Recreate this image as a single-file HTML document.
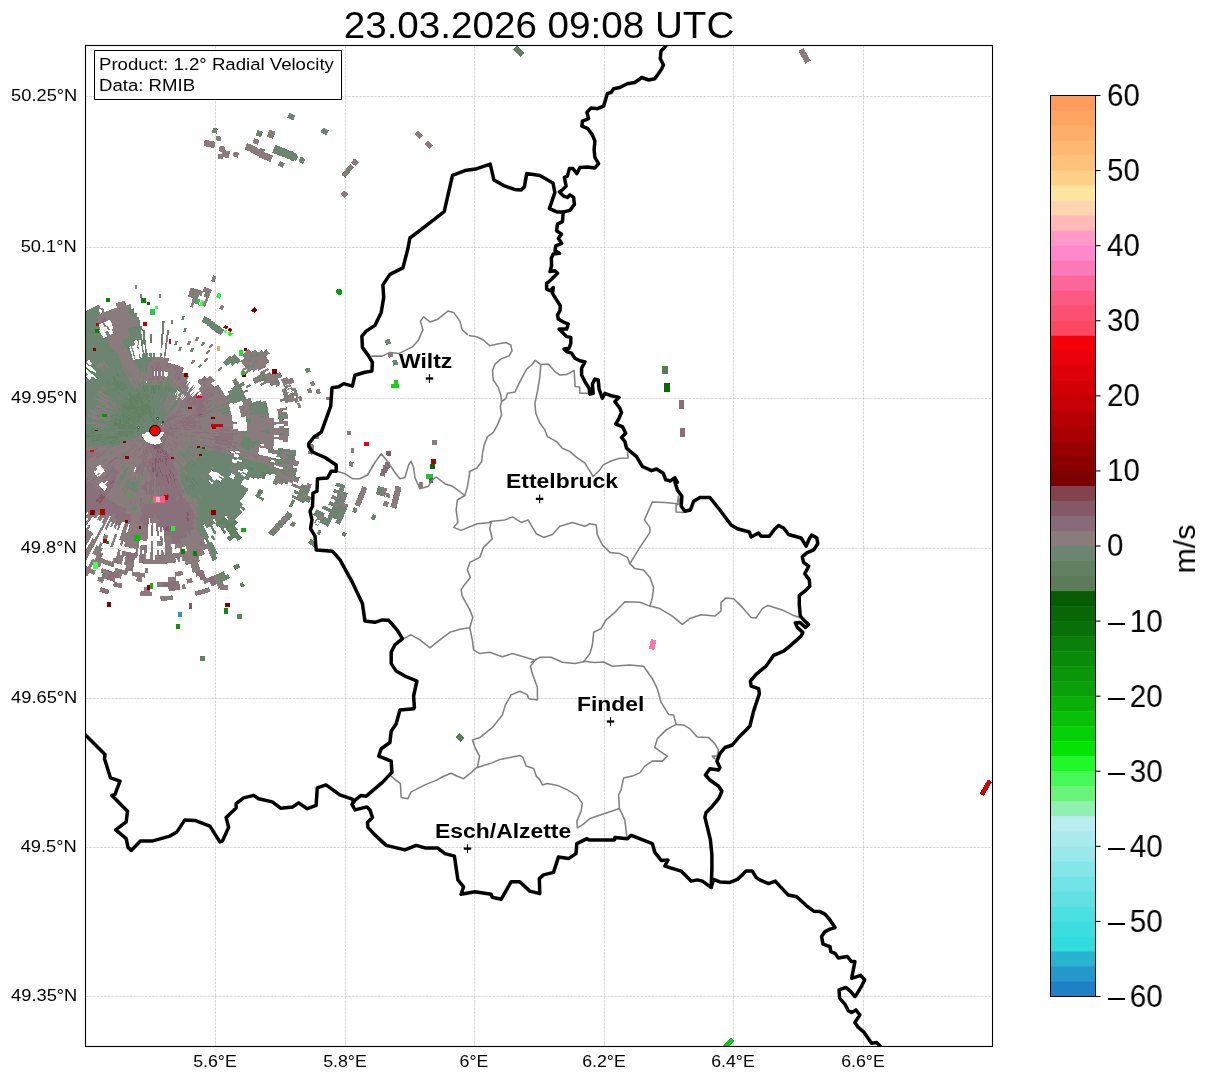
<!DOCTYPE html>
<html><head><meta charset="utf-8"><title>Radial Velocity</title>
<style>
html,body{margin:0;padding:0;background:#fff;}
body{width:1207px;height:1081px;position:relative;overflow:hidden;font-family:"Liberation Sans",sans-serif;color:#000;}
svg{position:absolute;left:0;top:0;}
.title,.cbl,.latl,.lonl,.info div,.city,.unit span{will-change:transform;backface-visibility:hidden;}
.g{stroke:#b0b0b0;stroke-width:0.7;stroke-dasharray:2.7 1.0;opacity:0.7}
.title{position:absolute;left:239.3px;width:600px;top:3.6px;text-align:center;font-size:37.1px;line-height:42px;white-space:nowrap;transform:scaleX(1.041);transform-origin:50% 50%;}
.cbl{position:absolute;left:1106.5px;font-size:31.4px;line-height:30px;white-space:nowrap;transform:scaleX(0.94);transform-origin:0 50%;}
.cbl i{display:inline-block;width:18.3px;height:2.5px;background:#000;vertical-align:middle;margin:0 5.3px 0 0.6px;position:relative;top:0.4px;}
.latl{position:absolute;right:1130px;font-size:17.2px;line-height:18px;white-space:nowrap;text-align:right;transform:scaleX(1.063);transform-origin:100% 50%;}
.lonl{position:absolute;top:1052px;width:80px;text-align:center;font-size:17.2px;line-height:18px;white-space:nowrap;transform:scaleX(1.033);}
.info{position:absolute;left:94px;top:50px;width:248px;height:50px;box-sizing:border-box;border:1px solid #000;background:#fff;}
.info div{position:absolute;left:4.4px;top:2.5px;font-size:17.2px;line-height:20.9px;white-space:nowrap;transform:scaleX(1.082);transform-origin:0 0;}
.city{position:absolute;font-weight:bold;font-size:19.5px;line-height:20px;white-space:nowrap;transform:scaleX(1.175);transform-origin:0 50%;}
.unit{position:absolute;left:1161.5px;top:521.5px;width:44px;height:54px;}
.unit span{position:absolute;left:22px;top:27px;transform:translate(-50%,-50%) rotate(-90deg);font-size:30.4px;line-height:30px;white-space:nowrap;}
</style></head><body>
<svg width="1207" height="1081" viewBox="0 0 1207 1081">
<defs><clipPath id="ax"><rect x="85.5" y="45.5" width="907.0" height="1001.0"/></clipPath></defs>
<g clip-path="url(#ax)">
<line x1="85.5" x2="992.5" y1="96.5" y2="96.5" class="g"/>
<line x1="85.5" x2="992.5" y1="247.5" y2="247.5" class="g"/>
<line x1="85.5" x2="992.5" y1="398.5" y2="398.5" class="g"/>
<line x1="85.5" x2="992.5" y1="548.5" y2="548.5" class="g"/>
<line x1="85.5" x2="992.5" y1="698.5" y2="698.5" class="g"/>
<line x1="85.5" x2="992.5" y1="847.5" y2="847.5" class="g"/>
<line x1="85.5" x2="992.5" y1="996.5" y2="996.5" class="g"/>
<line y1="45.5" y2="1046.5" x1="215.5" x2="215.5" class="g"/>
<line y1="45.5" y2="1046.5" x1="345.5" x2="345.5" class="g"/>
<line y1="45.5" y2="1046.5" x1="474.5" x2="474.5" class="g"/>
<line y1="45.5" y2="1046.5" x1="604.5" x2="604.5" class="g"/>
<line y1="45.5" y2="1046.5" x1="733.5" x2="733.5" class="g"/>
<line y1="45.5" y2="1046.5" x1="863.5" x2="863.5" class="g"/>
<g id="radar" shape-rendering="crispEdges">
<path fill="#6B8570" d="M145.9 431.7A9 9 0 0 1 163.9 431.7Z"/>
<path fill="#6B8570" d="M154.9 426.1L154.9 421.5L155.1 421.5L155.0 426.1ZM154.9 416.9L154.8 389.3L155.7 389.3L155.2 416.9ZM155.0 426.1L155.6 389.3L156.4 389.3L155.1 426.1ZM155.1 426.1L156.4 384.7L157.4 384.8L155.1 426.1ZM155.1 426.1L157.2 384.8L158.2 384.8L155.2 426.1ZM155.8 416.9L157.7 389.4L158.6 389.5L156.1 417.0ZM158.0 384.8L158.4 380.2L159.4 380.3L159.0 384.9ZM159.9 357.3L160.2 352.7L161.8 352.8L161.4 357.4ZM160.6 348.1L160.9 343.5L162.6 343.6L162.2 348.2ZM161.2 338.9L161.8 329.7L163.9 329.9L163.0 339.1ZM155.3 426.1L158.8 384.9L159.8 385.0L155.4 426.1ZM156.3 417.0L156.8 412.4L157.2 412.4L156.6 417.0ZM157.3 407.8L159.2 389.5L160.0 389.6L157.7 407.9ZM159.6 384.9L160.1 380.4L161.1 380.5L160.6 385.1ZM155.5 426.1L161.0 380.5L162.0 380.6L155.5 426.1ZM163.8 357.6L164.9 348.5L166.5 348.7L165.2 357.8ZM166.5 334.8L167.1 330.2L169.1 330.5L168.5 335.1ZM155.5 426.1L161.9 380.6L162.9 380.7L155.6 426.2ZM157.0 417.1L163.5 376.2L164.6 376.4L157.3 417.1ZM155.7 426.2L159.7 403.5L160.2 403.6L155.8 426.2ZM160.4 399.0L162.8 385.4L163.7 385.6L161.1 399.1ZM156.6 421.7L164.5 381.0L165.5 381.2L156.8 421.7ZM155.9 426.2L164.4 385.7L165.3 385.9L155.9 426.2ZM155.9 426.2L160.0 408.3L160.5 408.4L156.0 426.2ZM163.1 394.8L166.2 381.4L167.2 381.6L163.9 395.0ZM159.3 412.8L164.9 390.5L165.7 390.7L159.7 412.9ZM166.0 386.1L169.3 372.7L170.5 373.0L166.9 386.3ZM158.5 417.4L169.1 377.4L170.2 377.7L158.7 417.4ZM156.2 426.3L165.0 395.3L165.7 395.5L156.3 426.3ZM166.3 390.9L168.8 382.0L169.8 382.3L167.1 391.1ZM156.2 426.3L157.6 421.9L157.8 422.0L156.3 426.3ZM160.3 413.1L171.0 377.9L172.0 378.2L160.6 413.2ZM156.3 426.3L157.7 421.9L157.9 422.0L156.4 426.4ZM159.1 417.6L162.0 408.8L162.4 409.0L159.4 417.7ZM163.4 404.4L169.1 386.9L169.9 387.2L163.9 404.6ZM156.4 426.3L168.3 391.5L169.1 391.8L156.5 426.4ZM169.8 387.2L172.8 378.5L173.9 378.9L170.7 387.5ZM156.5 426.4L162.7 409.1L163.2 409.2L156.6 426.4ZM169.0 391.8L170.6 387.5L171.4 387.8L169.8 392.1ZM156.5 426.4L164.8 404.9L165.3 405.1L156.6 426.4ZM169.7 392.0L171.3 387.7L172.2 388.1L170.5 392.3ZM156.6 426.4L173.8 383.8L174.7 384.2L156.7 426.5ZM156.7 426.5L163.9 409.5L164.3 409.7L156.8 426.5ZM171.0 392.6L172.8 388.3L173.7 388.7L171.8 392.9ZM156.8 426.5L164.2 409.7L164.6 409.9L156.8 426.5ZM168.0 401.3L175.4 384.4L176.3 384.9L168.5 401.5ZM156.8 426.5L168.5 401.5L169.1 401.8L156.9 426.6ZM172.3 393.2L174.3 389.0L175.1 389.4L173.1 393.5ZM156.9 426.6L167.0 405.9L167.5 406.1L157.0 426.6ZM171.0 397.6L175.0 389.3L175.8 389.7L171.7 397.9ZM157.0 426.6L163.2 414.3L163.6 414.5L157.1 426.6ZM169.5 402.0L177.8 385.6L178.7 386.1L170.1 402.3ZM157.1 426.6L170.0 402.2L170.6 402.6L157.1 426.7ZM172.1 398.2L178.6 386.0L179.5 386.5L172.8 398.5ZM157.1 426.7L166.0 410.6L166.4 410.8L157.2 426.7ZM170.5 402.5L179.4 386.4L180.3 386.9L171.0 402.8ZM157.2 426.7L166.4 410.8L166.8 411.0L157.3 426.8ZM175.5 394.8L177.8 390.8L178.6 391.3L176.3 395.2ZM157.3 426.8L166.7 411.0L167.1 411.2L157.3 426.8ZM169.1 407.0L171.4 403.1L172.0 403.4L169.6 407.3ZM176.2 395.2L180.9 387.3L181.8 387.8L176.9 395.6ZM185.6 379.4L188.0 375.5L189.1 376.1L186.7 380.0ZM157.3 426.8L164.6 415.1L164.9 415.3L157.4 426.8ZM176.8 395.6L179.2 391.7L180.0 392.2L177.5 396.0ZM157.4 426.8L164.9 415.3L165.2 415.5L157.5 426.9ZM172.4 403.7L174.9 399.8L175.5 400.2L172.9 404.0ZM157.5 426.9L172.9 404.0L173.4 404.3L157.5 426.9ZM175.4 400.2L180.6 392.5L181.3 393.1L176.0 400.6ZM157.5 426.9L183.9 389.2L184.7 389.8L157.6 427.0ZM157.6 427.0L184.6 389.7L185.4 390.3L157.7 427.0ZM160.4 423.3L177.0 401.3L177.6 401.7L160.6 423.5ZM157.7 427.1L166.2 416.2L166.5 416.4L157.8 427.1ZM169.0 412.6L177.5 401.7L178.1 402.1L169.4 412.8ZM160.7 423.5L178.0 402.1L178.6 402.5L160.8 423.7ZM183.8 394.9L186.7 391.3L187.5 392.0L184.5 395.5ZM157.9 427.2L178.5 402.5L179.1 403.0L157.9 427.2ZM160.9 423.7L163.9 420.3L164.1 420.5L161.1 423.9ZM164.1 420.4L167.2 417.0L167.5 417.3L164.3 420.6ZM173.7 410.5L176.8 407.1L177.3 407.6L174.1 410.9ZM158.1 427.4L161.3 424.1L161.4 424.2L158.2 427.5ZM233.7 383.2L237.6 380.8L238.6 382.5L234.6 384.8ZM234.5 384.6L238.5 382.3L239.5 384.0L235.4 386.2ZM231.3 388.2L243.3 381.5L244.3 383.3L232.1 389.8ZM228.0 391.7L244.2 383.1L245.1 384.9L228.7 393.2ZM232.7 390.9L240.9 386.7L241.8 388.5L233.5 392.5ZM229.3 394.3L241.7 388.2L242.5 390.0L230.0 395.8ZM245.8 386.2L249.9 384.2L250.8 386.1L246.7 388.1ZM209.1 405.4L213.2 403.4L213.8 404.6L209.6 406.5ZM225.7 397.6L242.4 389.8L243.2 391.5L226.4 399.0ZM230.5 396.9L247.3 389.4L248.1 391.3L231.2 398.5ZM214.1 405.5L218.4 403.7L218.9 404.9L214.6 406.7ZM226.8 400.0L243.8 392.8L244.5 394.6L227.4 401.5ZM231.6 399.6L244.4 394.4L245.1 396.2L232.2 401.1ZM210.7 409.2L245.0 396.0L245.7 397.8L211.1 410.3ZM237.0 400.7L245.6 397.5L246.3 399.4L237.6 402.4ZM246.2 399.1L250.5 397.6L251.2 399.6L246.8 401.0ZM211.7 412.1L229.2 406.4L229.7 407.9L212.1 413.3ZM225.3 409.1L229.7 407.7L230.1 409.3L225.7 410.5ZM207.9 415.4L212.4 414.1L212.7 415.3L208.2 416.5ZM221.2 411.6L230.0 409.0L230.5 410.6L221.6 412.9ZM247.7 403.9L261.0 400.1L261.6 402.3L248.2 405.8ZM221.5 412.7L230.4 410.4L230.8 411.9L221.9 414.1ZM248.2 405.6L261.5 402.0L262.1 404.1L248.7 407.5ZM221.8 413.9L230.8 411.7L231.1 413.2L222.2 415.3ZM248.6 407.2L266.4 402.7L267.0 405.0L249.1 409.1ZM249.0 408.8L266.9 404.7L267.4 406.9L249.4 410.7ZM253.9 409.5L267.4 406.6L267.8 408.9L254.3 411.5ZM249.7 412.1L267.8 408.6L268.2 410.9L250.1 414.1ZM241.0 415.4L245.5 414.6L245.8 416.4L241.2 417.1ZM250.0 413.8L268.1 410.6L268.5 412.9L250.3 415.7ZM263.9 413.3L268.5 412.6L268.8 414.9L264.2 415.5ZM209.6 422.9L214.1 422.3L214.3 423.5L209.7 424.0ZM246.0 417.8L250.5 417.1L250.8 419.1L246.2 419.6ZM259.6 415.8L264.2 415.2L264.5 417.4L259.9 418.0ZM246.2 419.4L250.8 418.8L251.0 420.7L246.4 421.2ZM246.4 421.0L251.0 420.5L251.1 422.4L246.6 422.8ZM246.5 422.6L251.1 422.1L251.3 424.1L246.7 424.4ZM265.3 428.6L269.9 428.5L269.9 430.9L265.3 430.9ZM177.9 430.7L182.5 430.7L182.5 431.2L177.9 431.1ZM242.3 430.6L246.9 430.6L246.9 432.4L242.3 432.3ZM260.7 430.6L269.9 430.5L269.9 432.9L260.7 432.7ZM242.3 432.1L246.9 432.2L246.8 434.0L242.2 433.9ZM265.3 432.5L269.9 432.5L269.8 434.9L265.2 434.7ZM242.2 435.2L246.8 435.4L246.7 437.2L242.1 436.9ZM242.1 436.7L251.3 437.3L251.1 439.3L242.0 438.4ZM242.0 438.2L251.1 439.0L251.0 440.9L241.8 440.0ZM255.7 439.4L260.3 439.8L260.1 441.9L255.5 441.4ZM241.8 439.7L260.1 441.6L259.9 443.7L241.6 441.5ZM241.7 441.2L259.9 443.4L259.6 445.6L241.4 443.0ZM241.5 442.7L255.1 444.6L254.8 446.7L241.2 444.5ZM241.2 444.3L254.9 446.4L254.5 448.4L241.0 446.0ZM241.0 445.8L250.1 447.3L249.7 449.3L240.7 447.5ZM245.2 448.1L249.8 449.0L249.4 450.9L244.9 450.0ZM190.8 438.9L199.7 441.0L199.5 441.9L190.6 439.7ZM240.1 450.2L249.1 452.3L248.6 454.2L239.7 452.0ZM243.8 454.4L248.2 455.6L247.7 457.5L243.3 456.2ZM238.9 454.7L243.4 455.9L242.8 457.7L238.4 456.4ZM190.1 441.4L194.5 442.7L194.3 443.5L189.9 442.1ZM238.5 456.1L269.3 465.5L268.6 467.8L238.0 457.8ZM189.9 442.0L203.0 446.3L202.7 447.2L189.7 442.7ZM207.4 447.7L273.1 468.9L272.3 471.3L207.1 448.7ZM211.5 450.1L272.4 471.0L271.6 473.3L211.1 451.2ZM185.2 441.7L189.5 443.2L189.2 443.9L184.9 442.3ZM198.1 446.4L267.3 471.4L266.5 473.7L197.8 447.2ZM202.2 448.8L249.4 466.8L248.7 468.7L201.8 449.7ZM253.7 468.5L262.3 471.8L261.5 473.9L252.9 470.5ZM180.5 441.0L261.6 473.6L260.7 475.8L180.3 441.5ZM193.0 446.8L197.3 448.6L196.9 449.5L192.7 447.6ZM201.5 450.4L260.8 475.5L259.9 477.6L201.1 451.3ZM188.5 445.6L192.7 447.5L192.4 448.2L188.2 446.3ZM196.9 449.4L260.0 477.3L259.1 479.4L196.6 450.2ZM188.3 446.2L205.0 454.0L204.5 455.0L188.0 446.9ZM209.1 455.9L255.0 477.2L254.1 479.2L208.6 457.0ZM200.4 452.8L229.4 466.9L228.6 468.4L200.0 453.7ZM237.6 470.9L250.1 476.9L249.1 478.9L236.8 472.6ZM187.7 447.4L232.8 470.3L232.0 471.8L187.4 448.0ZM236.9 472.4L249.2 478.6L248.2 480.5L236.1 474.0ZM203.7 456.5L232.1 471.6L231.3 473.2L203.1 457.5ZM236.2 473.8L244.3 478.1L243.3 479.9L235.3 475.4ZM187.1 448.5L191.1 450.7L190.7 451.5L186.7 449.1ZM199.2 455.2L231.4 473.0L230.5 474.5L198.7 456.1ZM235.4 475.2L243.5 479.6L242.5 481.4L234.5 476.8ZM259.6 488.5L263.6 490.8L262.4 493.0L258.4 490.6ZM182.8 446.8L230.7 474.3L229.8 475.8L182.5 447.3ZM234.6 476.6L242.6 481.2L241.6 482.9L233.7 478.2ZM186.5 449.6L190.4 452.0L190.0 452.7L186.1 450.2ZM198.3 456.7L229.9 475.6L229.0 477.1L197.8 457.6ZM233.8 478.0L241.7 482.7L240.6 484.4L232.9 479.6ZM257.5 492.2L261.4 494.5L260.1 496.7L256.2 494.2ZM190.0 452.6L193.9 455.0L193.4 455.8L189.6 453.3ZM197.8 457.5L209.6 464.8L208.9 465.9L197.3 458.3ZM213.5 467.2L248.6 489.1L247.4 491.0L212.7 468.4ZM256.4 493.9L260.3 496.4L259.0 498.5L255.1 496.0ZM181.9 448.2L247.6 490.7L246.3 492.6L181.6 448.7ZM181.6 448.7L246.5 492.3L245.2 494.1L181.3 449.2ZM185.1 451.8L188.8 454.4L188.4 455.1L184.6 452.4ZM196.4 459.7L245.4 493.9L244.1 495.7L195.8 460.5ZM195.9 460.4L244.3 495.5L243.0 497.3L195.3 461.2ZM180.6 450.0L243.2 497.0L241.8 498.8L180.2 450.6ZM180.3 450.5L242.0 498.5L240.6 500.3L179.9 451.0ZM183.5 453.8L187.1 456.7L186.6 457.4L183.1 454.4ZM190.7 459.6L240.8 500.1L239.4 501.8L190.1 460.3ZM179.6 451.4L186.7 457.3L186.1 457.9L179.2 451.9ZM190.2 460.2L243.1 504.5L241.6 506.3L189.6 460.9ZM168.8 442.8L172.3 445.8L172.0 446.1L168.6 443.0ZM179.2 451.8L193.1 463.8L192.5 464.6L178.8 452.3ZM196.6 466.9L245.3 509.0L243.7 510.9L195.9 467.7ZM178.9 452.2L240.5 507.5L238.9 509.2L178.4 452.7ZM181.8 455.8L185.2 458.9L184.6 459.5L181.3 456.3ZM188.6 462.0L202.1 474.6L201.2 475.5L187.9 462.7ZM205.4 477.7L242.5 512.1L240.8 513.9L204.5 478.7ZM184.7 459.4L241.0 513.7L239.4 515.4L184.1 460.0ZM187.5 463.2L239.6 515.2L237.9 516.8L186.8 463.8ZM186.9 463.7L238.1 516.6L236.3 518.3L186.2 464.4ZM173.8 450.9L236.6 518.1L234.8 519.7L173.3 451.2ZM185.7 464.8L235.1 519.5L233.2 521.1L185.0 465.5ZM185.1 465.4L233.5 520.9L231.6 522.4L184.4 466.0ZM184.5 465.9L226.0 515.2L224.3 516.6L183.8 466.5ZM228.9 518.7L231.9 522.2L230.0 523.8L227.1 520.2ZM163.6 441.4L166.5 445.0L166.2 445.2L163.4 441.6ZM183.9 466.4L192.6 477.1L191.7 477.9L183.2 467.0ZM198.4 484.3L224.5 516.4L222.7 517.8L197.3 485.1ZM177.6 459.7L223.0 517.6L221.2 519.0L177.0 460.1ZM188.2 474.7L221.5 518.8L219.7 520.1L187.3 475.4ZM224.2 522.4L227.0 526.1L225.1 527.6L222.4 523.8ZM173.9 456.7L187.4 475.3L186.5 476.0L173.3 457.1ZM195.5 486.5L219.9 519.9L218.1 521.2L194.4 487.3ZM222.6 523.6L225.3 527.4L223.4 528.8L220.7 525.0ZM184.0 472.1L199.8 494.7L198.5 495.6L183.1 472.7ZM202.5 498.5L223.6 528.6L221.6 529.9L201.1 499.4ZM180.7 468.8L185.8 476.4L184.9 477.0L179.9 469.3ZM188.4 480.2L191.0 484.0L189.9 484.8L187.4 480.9ZM193.6 487.8L214.2 518.3L212.4 519.5L192.4 488.6ZM216.8 522.1L219.3 525.9L217.4 527.2L214.9 523.4ZM182.5 473.1L215.2 523.2L213.3 524.4L181.7 473.6ZM179.3 469.7L189.1 485.3L188.0 485.9L178.5 470.2ZM191.5 489.2L213.5 524.2L211.6 525.4L190.4 489.9ZM181.0 474.0L195.3 497.7L193.9 498.5L180.1 474.6ZM197.6 501.6L216.6 533.1L214.6 534.4L196.2 502.5ZM180.3 474.5L194.1 498.4L192.7 499.1L179.4 475.0ZM198.7 506.3L210.2 526.2L208.3 527.3L197.2 507.2ZM181.7 478.9L195.1 503.1L193.7 503.9L180.7 479.5ZM197.4 507.1L208.6 527.2L206.6 528.2L195.8 507.9ZM213.0 535.2L215.3 539.2L213.1 540.4L210.9 536.4ZM180.9 479.4L189.5 495.6L188.2 496.3L179.9 479.9ZM198.2 511.9L204.7 524.0L202.8 525.0L196.6 512.7ZM198.9 516.7L209.3 537.2L207.2 538.3L197.1 517.6ZM211.4 541.3L217.7 553.6L215.2 554.8L209.2 542.4ZM228.2 574.0L230.3 578.1L227.3 579.6L225.3 575.5ZM183.2 488.5L185.2 492.7L184.0 493.3L182.0 489.1ZM197.4 517.5L217.6 558.8L215.0 560.0L195.6 518.3ZM223.7 571.2L227.7 579.4L224.7 580.9L220.8 572.5ZM197.8 522.4L203.6 534.9L201.5 535.8L195.9 523.2ZM213.4 555.7L215.3 559.9L212.7 561.1L210.9 556.8ZM221.2 572.4L225.1 580.7L222.0 582.1L218.3 573.7ZM198.1 527.3L201.8 535.7L199.7 536.6L196.1 528.1ZM218.7 573.5L222.5 581.9L219.4 583.2L215.8 574.8ZM137.4 506.9L136.4 511.4L134.8 511.0L135.9 506.6ZM143.8 475.3L142.7 479.8L141.7 479.6L142.9 475.1ZM136.1 506.6L135.0 511.1L133.4 510.6L134.6 506.2ZM143.1 475.1L138.3 492.9L137.1 492.6L142.2 474.9ZM136.0 501.8L133.6 510.7L132.0 510.3L134.5 501.4ZM133.5 505.9L132.2 510.3L130.6 509.8L131.9 505.5ZM138.8 483.5L136.2 492.3L134.9 491.9L137.8 483.2ZM142.2 470.1L135.1 492.0L133.8 491.6L141.4 469.8ZM132.3 500.7L130.8 505.1L129.3 504.6L130.8 500.3ZM140.0 474.2L132.5 496.0L131.2 495.5L139.1 473.9ZM105.7 574.3L104.2 578.7L101.2 577.6L102.8 573.3ZM136.1 482.6L133.0 491.2L131.7 490.8L135.0 482.2ZM135.2 482.3L131.9 490.9L130.7 490.4L134.2 481.9ZM136.0 477.6L130.9 490.4L129.7 489.9L135.1 477.2ZM133.4 481.5L131.6 485.8L130.5 485.3L132.4 481.1ZM132.5 481.2L128.8 489.6L127.6 489.0L131.5 480.7ZM129.7 484.9L125.8 493.3L124.6 492.7L128.6 484.4ZM132.8 476.2L126.7 488.6L125.6 488.0L131.9 475.8ZM129.9 479.9L125.7 488.1L124.6 487.5L128.9 479.4ZM129.1 479.5L122.6 491.7L121.4 491.0L128.1 478.9ZM94.6 544.5L92.4 548.6L90.1 547.3L92.3 543.3ZM132.0 470.6L122.8 486.5L121.7 485.9L131.2 470.1ZM127.4 473.2L119.9 484.8L118.8 484.0L126.5 472.6ZM126.7 472.7L121.5 480.3L120.5 479.6L125.8 472.1ZM131.2 464.6L118.0 483.5L117.0 482.7L130.5 464.2ZM127.9 468.0L119.8 479.1L118.8 478.4L127.2 467.4ZM125.4 466.0L122.4 469.5L121.7 468.8L124.7 465.4ZM124.2 464.9L121.1 468.4L120.3 467.7L123.5 464.3ZM129.4 457.2L126.2 460.5L125.6 459.9L128.8 456.7ZM124.2 458.4L120.8 461.5L120.1 460.8L123.6 457.8ZM126.7 454.4L123.2 457.4L122.7 456.7L126.3 453.8ZM104.8 463.3L100.9 465.9L100.2 464.8L104.1 462.3ZM114.3 452.4L110.3 454.5L109.8 453.6L113.9 451.5ZM113.6 450.9L109.5 452.9L109.0 452.0L113.2 450.1ZM133.9 440.1L121.3 445.7L121.0 445.0L133.7 439.7ZM124.9 442.3L112.0 447.2L111.7 446.4L124.6 441.7ZM137.6 437.0L107.4 448.1L107.0 447.1L137.5 436.7ZM141.9 435.2L107.1 447.2L106.8 446.3L141.8 434.9ZM137.4 436.4L133.0 437.8L132.9 437.4L137.3 436.1ZM128.7 439.3L111.2 445.0L110.9 444.1L128.5 438.7ZM141.7 434.8L119.7 441.5L119.5 440.8L141.6 434.5ZM110.9 444.2L102.1 446.9L101.8 445.8L110.7 443.3ZM141.6 434.5L115.1 442.2L114.9 441.4L141.6 434.3ZM110.7 443.4L93.0 448.5L92.7 447.3L110.5 442.5ZM141.6 434.3L92.7 447.5L92.4 446.2L141.5 434.0ZM146.0 432.9L119.2 439.7L119.0 438.9L145.9 432.8ZM110.3 441.9L83.5 448.6L83.2 447.2L110.1 441.0ZM141.5 433.8L83.2 447.4L82.9 445.9L141.4 433.6ZM145.9 432.6L127.9 436.5L127.8 435.9L145.9 432.4ZM123.4 437.4L118.9 438.4L118.8 437.7L123.3 436.8ZM114.4 439.4L105.4 441.3L105.2 440.3L114.2 438.5ZM100.9 442.3L82.9 446.1L82.6 444.6L100.7 441.2ZM141.4 433.4L82.7 444.8L82.4 443.4L141.3 433.1ZM145.8 432.3L132.3 434.7L132.2 434.3L145.8 432.1ZM91.5 442.0L82.4 443.6L82.2 442.1L91.3 440.7ZM145.8 432.2L132.2 434.3L132.1 433.9L145.8 432.0ZM104.9 438.7L100.4 439.4L100.2 438.3L104.8 437.7ZM95.8 440.1L82.2 442.3L82.0 440.8L95.7 438.9ZM145.8 432.0L136.7 433.3L136.6 432.9L145.8 431.8ZM132.1 433.9L127.6 434.6L127.5 434.0L132.1 433.5ZM123.0 435.2L113.9 436.5L113.8 435.7L122.9 434.6ZM91.1 439.8L82.0 441.0L81.8 439.6L91.0 438.5ZM145.8 431.8L122.9 434.7L122.9 434.0L145.7 431.6ZM118.4 435.2L81.9 439.8L81.7 438.3L118.3 434.5ZM145.8 431.7L127.5 433.6L127.4 433.1L145.7 431.5ZM118.3 434.6L100.0 436.5L99.9 435.4L118.2 433.9ZM145.7 431.5L141.2 431.9L141.1 431.6L145.7 431.3ZM113.7 434.4L104.5 435.2L104.4 434.2L113.6 433.5ZM99.9 435.6L95.3 436.0L95.2 434.8L99.8 434.5ZM145.7 431.4L136.5 432.0L136.5 431.6L145.7 431.2ZM118.2 433.3L99.8 434.6L99.8 433.5L118.1 432.6ZM95.3 435.0L86.1 435.6L86.0 434.2L95.2 433.7ZM145.7 431.2L141.1 431.4L141.1 431.2L145.7 431.0ZM136.5 431.7L131.9 431.9L131.9 431.5L136.5 431.3ZM118.2 432.7L95.2 433.9L95.1 432.7L118.1 431.9ZM145.7 431.0L136.5 431.4L136.5 431.0L145.7 430.8ZM118.1 432.0L95.1 432.9L95.1 431.7L118.1 431.3ZM90.5 433.0L85.9 433.2L85.9 431.8L90.5 431.7ZM145.7 430.9L141.1 431.0L141.1 430.7L145.7 430.7ZM127.3 431.2L122.7 431.3L122.7 430.7L127.3 430.7ZM118.1 431.4L95.1 431.8L95.1 430.6L118.1 430.6ZM90.5 431.9L85.9 432.0L85.9 430.6L90.5 430.6ZM150.3 430.7L85.9 430.8L85.9 429.4L150.3 430.6ZM150.3 430.6L141.1 430.5L141.1 430.2L150.3 430.5ZM122.7 430.2L95.1 429.7L95.1 428.5L122.7 429.5ZM90.5 429.7L85.9 429.6L85.9 428.2L90.5 428.4ZM150.3 430.5L145.7 430.4L145.7 430.2L150.3 430.5ZM141.1 430.2L85.9 428.4L86.0 427.0L141.1 430.0ZM150.3 430.5L141.1 430.0L141.1 429.7L150.3 430.4ZM118.1 428.8L86.0 427.2L86.1 425.8L118.2 428.1ZM150.3 430.4L132.0 429.1L132.0 428.7L150.3 430.3ZM122.8 428.5L109.0 427.6L109.1 426.6L122.8 427.8ZM95.2 426.6L86.1 426.0L86.2 424.6L95.3 425.4ZM150.3 430.3L141.2 429.5L141.2 429.2L150.3 430.2ZM118.2 427.5L104.5 426.4L104.6 425.3L118.3 426.8ZM99.9 426.0L86.2 424.8L86.3 423.4L100.0 424.9ZM150.3 430.2L136.6 428.8L136.6 428.4L150.3 430.1ZM127.4 427.9L122.9 427.4L122.9 426.7L127.5 427.3ZM118.3 426.9L104.6 425.5L104.7 424.5L118.4 426.2ZM86.3 423.6L81.7 423.1L81.9 421.6L86.4 422.2ZM150.3 430.1L141.2 429.0L141.2 428.8L150.3 430.1ZM113.8 425.7L95.5 423.5L95.7 422.3L113.9 424.9ZM91.0 422.9L81.8 421.8L82.0 420.4L91.1 421.6ZM150.3 430.1L141.2 428.8L141.3 428.5L150.4 430.0ZM113.9 425.0L82.0 420.6L82.2 419.1L114.0 424.2ZM150.4 430.0L141.3 428.6L141.3 428.3L150.4 429.9ZM114.0 424.3L82.2 419.3L82.4 417.8L114.1 423.5ZM150.4 429.9L136.8 427.5L136.8 427.2L150.4 429.8ZM114.1 423.6L82.4 418.0L82.7 416.6L114.3 422.7ZM150.4 429.8L132.3 426.3L132.4 425.9L150.4 429.7ZM114.2 422.9L100.7 420.2L100.9 419.1L114.4 422.0ZM91.7 418.5L82.6 416.8L82.9 415.3L91.9 417.2ZM150.4 429.7L109.9 421.2L110.1 420.3L150.4 429.7ZM87.4 416.4L82.9 415.5L83.2 414.0L87.7 415.1ZM150.4 429.7L128.0 424.5L128.1 424.0L150.4 429.6ZM119.0 422.5L105.6 419.4L105.8 418.4L119.2 421.7ZM87.6 415.3L83.2 414.2L83.5 412.8L88.0 413.9ZM150.4 429.6L137.0 426.3L137.1 425.9L150.5 429.5ZM114.7 420.7L83.5 413.0L83.8 411.6L114.9 419.9ZM150.5 429.5L137.1 426.0L137.2 425.6L150.5 429.4ZM123.8 422.4L110.5 418.9L110.7 418.0L124.0 421.8ZM101.6 416.5L97.1 415.3L97.4 414.1L101.9 415.4ZM92.7 414.1L83.8 411.8L84.2 410.3L93.0 412.9ZM150.5 429.4L137.2 425.7L137.3 425.3L150.5 429.3ZM132.8 424.4L128.4 423.1L128.5 422.6L132.9 423.9ZM115.1 419.3L110.7 418.1L110.9 417.2L115.3 418.5ZM106.2 416.8L101.8 415.6L102.1 414.5L106.5 415.8ZM88.5 411.8L84.1 410.5L84.5 409.1L88.9 410.4ZM150.5 429.4L124.1 421.3L124.3 420.7L150.5 429.3ZM115.3 418.7L110.9 417.3L111.2 416.4L115.5 417.9ZM102.1 414.6L97.7 413.3L98.1 412.1L102.4 413.6ZM88.9 410.6L84.5 409.3L84.9 407.9L89.3 409.3ZM150.5 429.3L137.4 425.0L137.5 424.7L150.6 429.2ZM133.0 423.6L128.6 422.2L128.8 421.7L133.2 423.2ZM124.3 420.8L102.4 413.7L102.7 412.7L124.5 420.2ZM98.0 412.3L84.9 408.1L85.3 406.6L98.4 411.2ZM150.5 429.2L137.5 424.7L137.6 424.4L150.6 429.1ZM120.1 418.8L111.4 415.8L111.7 414.9L120.3 418.1ZM102.7 412.8L98.3 411.3L98.7 410.2L103.1 411.7ZM94.0 409.8L85.3 406.8L85.8 405.4L94.4 408.6ZM150.6 429.1L129.0 421.3L129.1 420.8L150.6 429.0ZM124.6 419.7L111.7 415.0L112.0 414.2L124.9 419.1ZM107.3 413.5L103.0 411.9L103.4 410.8L107.7 412.5ZM98.7 410.3L85.7 405.6L86.2 404.2L99.1 409.2ZM150.6 429.1L137.7 424.1L137.8 423.8L150.6 429.0ZM116.2 415.9L81.9 402.8L82.4 401.3L116.5 415.1ZM150.6 429.0L133.6 422.1L133.7 421.7L150.7 428.9ZM129.3 420.4L125.0 418.7L125.3 418.1L129.5 419.9ZM120.8 417.0L112.2 413.5L112.6 412.7L121.0 416.3ZM95.2 406.7L82.4 401.5L83.0 400.0L95.7 405.5ZM150.7 428.9L129.5 420.0L129.7 419.4L150.7 428.8ZM125.2 418.2L116.8 414.6L117.1 413.8L125.5 417.6ZM95.6 405.6L82.9 400.2L83.5 398.8L96.1 404.4ZM150.7 428.8L138.1 423.2L138.2 422.9L150.7 428.8ZM121.3 415.8L83.4 399.0L84.1 397.6L121.6 415.1ZM150.7 428.8L134.0 421.0L134.2 420.6L150.8 428.7ZM121.5 415.2L109.0 409.4L109.5 408.5L121.8 414.5ZM104.8 407.4L84.0 397.8L84.7 396.3L105.3 406.4ZM150.8 428.7L138.4 422.7L138.5 422.3L150.8 428.6ZM121.8 414.6L113.5 410.6L113.9 409.8L122.1 413.9ZM97.0 402.5L84.6 396.5L85.3 395.1L97.6 401.4ZM150.8 428.6L142.6 424.5L142.7 424.2L150.8 428.5ZM122.1 414.0L109.8 407.8L110.3 406.9L122.4 413.4ZM105.7 405.7L85.2 395.3L85.9 393.9L106.2 404.7ZM150.8 428.5L146.8 426.4L146.9 426.2L150.9 428.5ZM142.7 424.2L138.6 422.1L138.8 421.8L142.8 424.0ZM134.6 419.9L118.3 411.3L118.7 410.6L134.8 419.5ZM93.9 398.4L81.7 391.9L82.5 390.5L94.6 397.2ZM150.9 428.5L138.8 421.8L139.0 421.5L150.9 428.4ZM130.7 417.4L126.7 415.1L127.0 414.6L131.0 416.9ZM122.7 412.9L106.6 404.0L107.1 403.0L123.1 412.3ZM98.5 399.6L82.4 390.7L83.3 389.2L99.2 398.4ZM150.9 428.4L139.0 421.5L139.1 421.2L151.0 428.3ZM119.0 410.1L83.1 389.4L84.0 388.0L119.4 409.3ZM151.0 428.3L131.2 416.5L131.5 416.0L151.0 428.3ZM127.3 414.2L115.4 407.1L115.9 406.3L127.6 413.6ZM111.5 404.7L107.5 402.3L108.1 401.4L112.0 403.8ZM99.7 397.6L83.9 388.2L84.7 386.7L100.3 396.5ZM151.0 428.3L139.3 421.0L139.5 420.7L151.0 428.2ZM131.5 416.1L115.9 406.4L116.4 405.6L131.8 415.6ZM96.3 394.2L84.6 386.9L85.5 385.5L97.1 393.0ZM151.0 428.2L139.5 420.7L139.7 420.4L151.1 428.1ZM120.1 408.2L85.4 385.7L86.3 384.3L120.6 407.5ZM147.3 425.6L116.7 405.0L117.3 404.3L147.4 425.4ZM109.1 399.9L105.3 397.3L106.0 396.3L109.7 399.0ZM97.6 392.2L82.4 381.9L83.4 380.5L98.4 391.0ZM151.1 428.1L109.6 399.1L110.3 398.2L151.2 428.0ZM98.3 391.2L83.2 380.7L84.3 379.2L99.1 390.1ZM151.2 428.0L140.0 419.9L140.2 419.6L151.2 427.9ZM121.4 406.4L84.1 379.4L85.2 378.0L121.9 405.7ZM151.2 427.9L140.2 419.6L140.4 419.4L151.3 427.9ZM121.8 405.8L85.0 378.2L86.1 376.8L122.3 405.2ZM151.3 427.9L140.4 419.4L140.6 419.1L151.3 427.8ZM122.2 405.3L82.3 374.2L83.5 372.7L122.8 404.6ZM151.3 427.8L140.6 419.1L140.8 418.9L151.4 427.7ZM137.0 416.3L129.8 410.5L130.3 410.0L137.3 415.9ZM126.3 407.6L104.8 390.2L105.6 389.2L126.7 407.0ZM101.2 387.4L83.3 372.9L84.5 371.5L102.1 386.3ZM147.8 424.8L140.8 418.9L141.0 418.6L148.0 424.7ZM123.1 404.1L84.3 371.7L85.6 370.2L123.7 403.5ZM151.4 427.7L144.5 421.7L144.7 421.5L151.5 427.6ZM123.6 403.6L81.9 367.4L83.2 366.0L124.2 403.0ZM151.5 427.6L141.2 418.4L141.5 418.1L151.5 427.6ZM134.4 412.3L130.9 409.2L131.4 408.7L134.7 411.8ZM127.5 406.1L120.7 400.0L121.3 399.3L128.0 405.6ZM117.2 396.9L83.0 366.2L84.3 364.7L117.9 396.1ZM151.5 427.6L141.4 418.2L141.7 417.9L151.6 427.5ZM134.7 411.9L131.3 408.8L131.8 408.3L135.1 411.5ZM124.6 402.5L84.2 364.9L85.5 363.5L125.2 401.9ZM151.6 427.5L145.0 421.1L145.2 420.9L151.7 427.4ZM128.4 405.2L115.1 392.4L115.9 391.6L128.9 404.6ZM111.8 389.2L82.0 360.5L83.4 359.0L112.7 388.4ZM151.6 427.5L141.9 417.7L142.1 417.4L151.7 427.4ZM128.8 404.7L109.3 385.2L110.2 384.3L129.4 404.2ZM106.0 382.0L83.2 359.2L84.7 357.8L107.0 381.0ZM151.7 427.4L142.1 417.5L142.4 417.2L151.8 427.3ZM126.1 401.0L119.7 394.4L120.4 393.6L126.7 400.4ZM113.3 387.7L84.5 358.0L86.0 356.6L114.2 386.9ZM151.8 427.3L142.3 417.3L142.6 417.0L151.8 427.3ZM129.8 403.8L117.2 390.4L118.0 389.6L130.3 403.3ZM114.1 387.0L82.6 353.4L84.2 352.0L114.9 386.2ZM151.8 427.3L142.6 417.0L142.8 416.8L151.9 427.2ZM124.1 396.6L114.8 386.3L115.7 385.5L124.8 395.9ZM111.7 382.9L99.4 369.2L100.7 368.1L112.7 382.0ZM96.3 365.8L84.0 352.2L85.6 350.8L97.7 364.7ZM151.9 427.2L136.8 409.9L137.2 409.5L151.9 427.2ZM127.7 399.5L118.6 389.1L119.5 388.4L128.3 398.9ZM115.6 385.6L103.5 371.8L104.7 370.7L116.5 384.8ZM97.5 364.8L82.4 347.5L84.1 346.0L98.8 363.7ZM151.9 427.2L146.0 420.1L146.2 420.0L152.0 427.1ZM128.2 399.0L122.3 392.0L123.1 391.3L128.9 398.5ZM113.4 381.4L101.6 367.3L102.9 366.3L114.4 380.6ZM98.6 363.8L83.8 346.2L85.5 344.8L100.0 362.7ZM152.0 427.1L143.3 416.4L143.6 416.2L152.1 427.1ZM128.8 398.6L123.0 391.4L123.8 390.8L129.5 398.0ZM120.1 387.9L114.3 380.7L115.3 379.9L121.0 387.2ZM111.4 377.1L102.7 366.4L104.0 365.4L112.5 376.3ZM99.8 362.9L82.4 341.4L84.2 340.0L101.2 361.8ZM149.2 423.5L143.6 416.2L143.8 416.0L149.4 423.3ZM129.4 398.1L123.7 390.9L124.5 390.2L130.0 397.6ZM112.3 376.4L84.0 340.2L85.8 338.8L113.5 375.5ZM152.1 427.0L143.8 416.0L144.1 415.8L152.2 427.0ZM141.0 412.4L132.7 401.3L133.3 400.9L141.4 412.1ZM129.9 397.7L107.8 368.3L109.0 367.4L130.6 397.2ZM102.2 361.0L82.8 335.3L84.7 333.8L103.6 359.9ZM152.2 427.0L144.1 415.8L144.4 415.6L152.3 426.9ZM127.8 393.5L125.1 389.8L125.9 389.2L128.6 393.0ZM119.7 382.4L81.8 330.3L83.8 328.9L120.7 381.7ZM152.3 426.9L144.3 415.6L144.6 415.4L152.3 426.9ZM139.0 408.1L136.4 404.3L136.9 404.0L139.5 407.8ZM128.5 393.1L83.5 329.1L85.6 327.6L129.2 392.5ZM149.7 423.1L144.6 415.5L144.9 415.3L149.9 423.0ZM129.1 392.6L126.5 388.8L127.4 388.2L129.9 392.1ZM121.4 381.2L118.8 377.4L119.9 376.6L122.4 380.5ZM116.2 373.6L82.7 324.0L84.9 322.6L117.4 372.8ZM152.4 426.8L144.9 415.3L145.2 415.1L152.5 426.8ZM132.3 396.0L82.1 318.9L84.4 317.5L133.0 395.6ZM152.5 426.8L142.7 411.2L143.1 411.0L152.5 426.8ZM140.2 407.3L137.8 403.4L138.4 403.1L140.7 407.0ZM132.9 395.6L84.1 317.7L86.4 316.3L133.6 395.2ZM152.5 426.8L145.4 414.9L145.7 414.8L152.6 426.7ZM140.7 407.1L138.3 403.1L138.8 402.8L141.1 406.8ZM133.5 395.2L83.7 312.5L86.1 311.1L134.3 394.8ZM152.6 426.7L145.7 414.8L146.0 414.6L152.7 426.7ZM141.1 406.8L85.7 311.3L88.2 309.9L141.6 406.5ZM152.7 426.7L146.0 414.6L146.3 414.4L152.7 426.6ZM134.8 394.5L96.8 326.2L98.9 325.0L135.5 394.1ZM94.5 322.2L87.8 310.1L90.3 308.8L96.7 321.0ZM152.7 426.6L146.2 414.5L146.6 414.3L152.8 426.6ZM141.9 406.3L139.7 402.3L140.3 402.0L142.4 406.1ZM135.4 394.2L111.6 349.5L113.2 348.7L136.2 393.8ZM107.3 341.4L100.8 329.2L102.8 328.2L109.1 340.5ZM96.4 321.1L89.9 308.9L92.4 307.7L98.7 320.0ZM152.8 426.6L146.5 414.3L146.9 414.2L152.9 426.6ZM140.2 402.0L131.9 385.6L132.8 385.2L140.8 401.7ZM121.4 365.2L115.1 352.9L116.7 352.1L122.7 364.5ZM106.7 336.5L104.6 332.4L106.6 331.4L108.7 335.5ZM96.3 316.0L92.1 307.8L94.6 306.6L98.6 314.9ZM152.9 426.6L146.8 414.2L147.1 414.0L153.0 426.5ZM136.7 393.5L130.6 381.1L131.6 380.6L137.5 393.2ZM128.6 377.0L124.6 368.7L125.8 368.1L129.7 376.5ZM118.5 356.3L116.5 352.2L118.1 351.4L120.0 355.6ZM98.3 315.0L94.2 306.8L96.8 305.5L100.6 313.9ZM153.0 426.5L147.1 414.0L147.4 413.9L153.0 426.5ZM137.4 393.2L135.4 389.0L136.2 388.7L138.1 392.9ZM151.1 422.3L149.3 418.1L149.5 418.0L151.3 422.2ZM136.1 388.7L132.4 380.3L133.4 379.9L137.0 388.3ZM130.5 376.1L128.6 371.9L129.8 371.4L131.6 375.6ZM102.3 313.1L100.5 308.9L102.9 307.8L104.7 312.1ZM153.1 426.5L145.9 409.5L146.3 409.4L153.2 426.4ZM144.1 405.3L136.9 388.4L137.7 388.0L144.6 405.1ZM153.2 426.4L148.0 413.6L148.3 413.5L153.3 426.4ZM139.3 392.3L135.9 383.8L136.8 383.4L140.1 392.0ZM122.0 349.7L120.3 345.4L122.1 344.8L123.7 349.1ZM153.2 426.4L148.3 413.5L148.6 413.4L153.3 426.4ZM145.0 404.9L138.4 387.8L139.2 387.5L145.5 404.8ZM151.7 422.1L150.2 417.7L150.4 417.6L151.9 422.0ZM142.3 396.1L135.9 378.9L137.0 378.5L143.0 395.9ZM124.9 348.6L121.7 340.0L123.6 339.3L126.6 348.0ZM153.4 426.4L151.9 422.0L152.1 421.9L153.5 426.3ZM145.9 404.6L138.4 382.9L139.3 382.6L146.4 404.4ZM127.8 352.4L123.3 339.4L125.2 338.8L129.4 351.9ZM153.5 426.3L150.6 417.6L150.9 417.5L153.6 426.3ZM144.9 400.1L143.5 395.7L144.2 395.5L145.5 399.9ZM142.1 391.3L139.2 382.6L140.2 382.3L142.9 391.1ZM132.1 360.7L124.9 338.9L126.8 338.3L133.5 360.3ZM153.5 426.3L149.5 413.1L149.9 413.0L153.6 426.3ZM146.8 404.3L145.4 399.9L146.1 399.7L147.3 404.2ZM144.1 395.5L141.4 386.7L142.3 386.5L144.8 395.3ZM133.3 360.3L126.5 338.4L128.4 337.8L134.7 359.9ZM152.4 421.9L151.1 417.4L151.3 417.4L152.5 421.8ZM147.3 404.2L140.9 382.1L141.9 381.8L147.8 404.0ZM137.1 368.8L128.1 337.9L130.0 337.4L138.3 368.5ZM142.9 386.3L141.7 381.8L142.7 381.6L143.8 386.1ZM140.5 377.4L127.4 328.5L129.4 328.0L141.6 377.1ZM153.8 426.2L151.5 417.3L151.8 417.2L153.9 426.2ZM148.2 403.9L147.1 399.5L147.7 399.3L148.7 403.8ZM144.8 390.5L142.6 381.6L143.6 381.4L145.6 390.3ZM140.4 372.7L129.2 328.1L131.2 327.6L141.5 372.4ZM152.8 421.7L150.7 412.8L151.1 412.7L153.0 421.7ZM146.6 394.9L145.5 390.4L146.3 390.2L147.3 394.7ZM144.5 385.9L142.4 376.9L143.5 376.7L145.4 385.7ZM141.4 372.5L131.0 327.6L133.0 327.2L142.5 372.2ZM127.8 314.2L126.8 309.7L129.2 309.2L130.2 313.7ZM153.9 426.2L151.0 412.7L151.4 412.6L154.0 426.2ZM150.1 408.2L145.3 385.7L146.2 385.5L150.5 408.1ZM142.4 372.2L132.8 327.2L134.9 326.8L143.6 372.0ZM129.9 313.7L128.9 309.3L131.4 308.7L132.2 313.3ZM154.0 426.2L152.2 417.2L152.5 417.1L154.1 426.2ZM146.1 385.6L145.2 381.0L146.2 380.9L147.0 385.4ZM143.4 372.0L134.6 326.9L136.7 326.5L144.6 371.8ZM132.8 317.8L131.0 308.8L133.5 308.4L135.1 317.4ZM154.1 426.2L146.8 385.4L147.8 385.3L154.2 426.2ZM143.6 367.3L136.4 326.5L138.5 326.2L144.9 367.1ZM134.8 317.5L134.0 312.9L136.4 312.5L137.1 317.1ZM154.2 426.2L152.7 417.1L153.0 417.0L154.3 426.1ZM151.3 408.0L146.9 380.7L147.9 380.6L151.7 407.9ZM145.5 371.6L136.8 317.1L139.1 316.8L146.7 371.5ZM154.3 426.1L153.6 421.6L153.8 421.6L154.3 426.1ZM153.0 417.0L148.4 385.2L149.4 385.0L153.2 417.0ZM146.5 371.5L142.6 344.2L144.4 343.9L147.7 371.3ZM154.3 426.1L153.8 421.6L154.0 421.5L154.4 426.1ZM152.6 412.4L148.7 380.5L149.7 380.4L153.0 412.4ZM147.0 366.8L144.7 348.5L146.4 348.3L148.3 366.6ZM154.4 426.1L150.0 385.0L151.0 384.9L154.5 426.1ZM147.6 362.1L146.6 352.9L148.2 352.8L149.0 362.0ZM154.5 426.1L154.1 421.5L154.3 421.5L154.6 426.1ZM152.5 403.2L152.0 398.6L152.7 398.6L153.0 403.2ZM150.8 384.9L150.4 380.3L151.4 380.2L151.8 384.8ZM149.2 366.6L148.4 357.4L149.9 357.3L150.5 366.5ZM154.6 426.1L153.6 412.3L154.0 412.3L154.7 426.1ZM153.3 407.8L152.0 389.4L152.8 389.4L153.7 407.7ZM151.6 384.8L151.3 380.2L152.3 380.2L152.6 384.8ZM150.0 361.9L149.3 352.7L150.9 352.6L151.4 361.8ZM154.7 426.1L152.9 394.0L153.7 393.9L154.7 426.1ZM151.2 361.8L150.7 352.6L152.3 352.5L152.6 361.7ZM154.7 426.1L153.4 389.3L154.2 389.3L154.8 426.1ZM154.6 412.3L154.2 393.9L155.0 393.9L154.9 412.3ZM154.1 389.3L154.0 384.7L155.0 384.7L155.0 389.3ZM153.5 357.1L153.4 352.5L155.0 352.5L155.0 357.1Z"/>
<path fill="#628062" d="M154.9 421.5L154.9 416.9L155.2 416.9L155.1 421.5ZM154.8 389.3L154.8 384.7L155.8 384.7L155.7 389.3ZM155.6 389.3L155.6 384.7L156.6 384.7L156.4 389.3ZM155.2 426.1L155.8 416.9L156.1 417.0L155.3 426.1ZM157.7 389.4L158.0 384.8L159.0 384.9L158.6 389.5ZM160.9 343.5L161.2 338.9L163.0 339.1L162.6 343.6ZM161.8 329.7L162.4 320.6L164.7 320.7L163.9 329.9ZM155.4 426.1L156.3 417.0L156.6 417.0L155.5 426.1ZM156.8 412.4L157.3 407.8L157.7 407.9L157.2 412.4ZM159.2 389.5L159.6 384.9L160.6 385.1L160.0 389.6ZM155.6 426.2L157.0 417.1L157.3 417.1L155.7 426.2ZM155.8 426.2L156.6 421.7L156.8 421.7L155.9 426.2ZM156.0 426.2L159.3 412.8L159.7 412.9L156.1 426.3ZM164.9 390.5L166.0 386.1L166.9 386.3L165.7 390.7ZM156.1 426.3L158.5 417.4L158.7 417.4L156.2 426.3ZM157.6 421.9L160.3 413.1L160.6 413.2L157.8 422.0ZM157.7 421.9L159.1 417.6L159.4 417.7L157.9 422.0ZM168.3 391.5L169.8 387.2L170.7 387.5L169.1 391.8ZM157.7 427.0L160.4 423.3L160.6 423.5L157.7 427.1ZM157.8 427.1L160.7 423.5L160.8 423.7L157.9 427.2ZM267.3 471.4L271.7 473.0L270.8 475.4L266.5 473.7ZM249.4 466.8L253.7 468.5L252.9 470.5L248.7 468.7ZM262.3 471.8L266.6 473.4L265.7 475.7L261.5 473.9ZM261.6 473.6L265.9 475.3L264.9 477.6L260.7 475.8ZM260.8 475.5L265.1 477.3L264.1 479.5L259.9 477.6ZM205.0 454.0L209.1 455.9L208.6 457.0L204.5 455.0ZM258.6 490.4L262.5 492.6L261.3 494.8L257.3 492.4ZM260.3 496.4L264.2 498.8L262.8 501.0L259.0 498.5ZM193.1 463.8L196.6 466.9L195.9 467.7L192.5 464.6ZM235.1 519.5L238.1 522.9L236.3 524.5L233.2 521.1ZM233.5 520.9L236.5 524.3L234.6 526.0L231.6 522.4ZM231.9 522.2L237.8 529.3L235.8 530.9L230.0 523.8ZM192.6 477.1L198.4 484.3L197.3 485.1L191.7 477.9ZM224.5 516.4L241.9 537.8L239.7 539.6L222.7 517.8ZM223.0 517.6L240.0 539.3L237.8 541.0L221.2 519.0ZM221.5 518.8L224.2 522.4L222.4 523.8L219.7 520.1ZM227.0 526.1L235.3 537.1L233.2 538.7L225.1 527.6ZM187.4 475.3L195.5 486.5L194.4 487.3L186.5 476.0ZM219.9 519.9L222.6 523.6L220.7 525.0L218.1 521.2ZM230.8 534.8L233.5 538.5L231.3 540.1L228.6 536.3ZM223.6 528.6L226.3 532.3L224.2 533.8L221.6 529.9ZM228.9 536.1L231.6 539.9L229.3 541.4L226.8 537.6ZM185.8 476.4L188.4 480.2L187.4 480.9L184.9 477.0ZM191.0 484.0L193.6 487.8L192.4 488.6L189.9 484.8ZM189.1 485.3L191.5 489.2L190.4 489.9L188.0 485.9ZM238.0 563.2L240.4 567.1L237.6 568.8L235.3 564.9ZM235.6 564.6L238.0 568.6L235.2 570.2L232.9 566.3ZM242.5 582.0L244.8 585.9L241.7 587.7L239.4 583.7ZM119.7 441.5L110.9 444.2L110.7 443.3L119.5 440.8ZM115.1 442.2L110.7 443.4L110.5 442.5L114.9 441.4ZM119.2 439.7L110.3 441.9L110.1 441.0L119.0 438.9ZM127.9 436.5L123.4 437.4L123.3 436.8L127.8 435.9ZM118.9 438.4L114.4 439.4L114.2 438.5L118.8 437.7ZM105.4 441.3L100.9 442.3L100.7 441.2L105.2 440.3ZM132.3 434.7L91.5 442.0L91.3 440.7L132.2 434.3ZM132.2 434.3L104.9 438.7L104.8 437.7L132.1 433.9ZM100.4 439.4L95.8 440.1L95.7 438.9L100.2 438.3ZM136.7 433.3L132.1 433.9L132.1 433.5L136.6 432.9ZM127.6 434.6L123.0 435.2L122.9 434.6L127.5 434.0ZM113.9 436.5L91.1 439.8L91.0 438.5L113.8 435.7ZM122.9 434.7L118.4 435.2L118.3 434.5L122.9 434.0ZM127.5 433.6L118.3 434.6L118.2 433.9L127.4 433.1ZM100.0 436.5L86.3 438.0L86.2 436.6L99.9 435.4ZM141.2 431.9L113.7 434.4L113.6 433.5L141.1 431.6ZM104.5 435.2L99.9 435.6L99.8 434.5L104.4 434.2ZM95.3 436.0L86.2 436.8L86.1 435.4L95.2 434.8ZM136.5 432.0L118.2 433.3L118.1 432.6L136.5 431.6ZM99.8 434.6L95.3 435.0L95.2 433.7L99.8 433.5ZM141.1 431.4L136.5 431.7L136.5 431.3L141.1 431.2ZM131.9 431.9L118.2 432.7L118.1 431.9L131.9 431.5ZM95.2 433.9L86.0 434.4L85.9 433.0L95.1 432.7ZM136.5 431.4L118.1 432.0L118.1 431.3L136.5 431.0ZM95.1 432.9L90.5 433.0L90.5 431.7L95.1 431.7ZM141.1 431.0L127.3 431.2L127.3 430.7L141.1 430.7ZM122.7 431.3L118.1 431.4L118.1 430.6L122.7 430.7ZM95.1 431.8L90.5 431.9L90.5 430.6L95.1 430.6ZM141.1 430.5L122.7 430.2L122.7 429.5L141.1 430.2ZM95.1 429.7L90.5 429.7L90.5 428.4L95.1 428.5ZM141.1 430.0L118.1 428.8L118.2 428.1L141.1 429.7ZM132.0 429.1L122.8 428.5L122.8 427.8L132.0 428.7ZM141.2 429.5L118.2 427.5L118.3 426.8L141.2 429.2ZM136.6 428.8L127.4 427.9L127.5 427.3L136.6 428.4ZM122.9 427.4L118.3 426.9L118.4 426.2L122.9 426.7ZM141.2 429.0L113.8 425.7L113.9 424.9L141.2 428.8ZM141.2 428.8L113.9 425.0L114.0 424.2L141.3 428.5ZM141.3 428.6L114.0 424.3L114.1 423.5L141.3 428.3ZM136.8 427.5L114.1 423.6L114.3 422.7L136.8 427.2ZM132.3 426.3L114.2 422.9L114.4 422.0L132.4 425.9ZM128.0 424.5L119.0 422.5L119.2 421.7L128.1 424.0ZM137.0 426.3L114.7 420.7L114.9 419.9L137.1 425.9ZM137.1 426.0L123.8 422.4L124.0 421.8L137.2 425.6ZM137.2 425.7L132.8 424.4L132.9 423.9L137.3 425.3ZM128.4 423.1L115.1 419.3L115.3 418.5L128.5 422.6ZM124.1 421.3L115.3 418.7L115.5 417.9L124.3 420.7ZM137.4 425.0L133.0 423.6L133.2 423.2L137.5 424.7ZM128.6 422.2L124.3 420.8L124.5 420.2L128.8 421.7ZM137.5 424.7L120.1 418.8L120.3 418.1L137.6 424.4ZM129.0 421.3L124.6 419.7L124.9 419.1L129.1 420.8ZM137.7 424.1L116.2 415.9L116.5 415.1L137.8 423.8ZM133.6 422.1L129.3 420.4L129.5 419.9L133.7 421.7ZM125.0 418.7L120.8 417.0L121.0 416.3L125.3 418.1ZM129.5 420.0L125.2 418.2L125.5 417.6L129.7 419.4ZM138.1 423.2L121.3 415.8L121.6 415.1L138.2 422.9ZM134.0 421.0L121.5 415.2L121.8 414.5L134.2 420.6ZM138.4 422.7L121.8 414.6L122.1 413.9L138.5 422.3ZM142.6 424.5L122.1 414.0L122.4 413.4L142.7 424.2ZM138.6 422.1L134.6 419.9L134.8 419.5L138.8 421.8ZM138.8 421.8L130.7 417.4L131.0 416.9L139.0 421.5ZM126.7 415.1L122.7 412.9L123.1 412.3L127.0 414.6ZM139.0 421.5L119.0 410.1L119.4 409.3L139.1 421.2ZM131.2 416.5L127.3 414.2L127.6 413.6L131.5 416.0ZM139.3 421.0L131.5 416.1L131.8 415.6L139.5 420.7ZM139.5 420.7L120.1 408.2L120.6 407.5L139.7 420.4ZM140.0 419.9L121.4 406.4L121.9 405.7L140.2 419.6ZM140.2 419.6L121.8 405.8L122.3 405.2L140.4 419.4ZM140.4 419.4L122.2 405.3L122.8 404.6L140.6 419.1ZM140.6 419.1L137.0 416.3L137.3 415.9L140.8 418.9ZM129.8 410.5L126.3 407.6L126.7 407.0L130.3 410.0ZM151.4 427.7L147.8 424.8L148.0 424.7L151.4 427.7ZM140.8 418.9L123.1 404.1L123.7 403.5L141.0 418.6ZM144.5 421.7L123.6 403.6L124.2 403.0L144.7 421.5ZM141.2 418.4L134.4 412.3L134.7 411.8L141.5 418.1ZM130.9 409.2L127.5 406.1L128.0 405.6L131.4 408.7ZM141.4 418.2L134.7 411.9L135.1 411.5L141.7 417.9ZM131.3 408.8L124.6 402.5L125.2 401.9L131.8 408.3ZM145.0 421.1L128.4 405.2L128.9 404.6L145.2 420.9ZM115.1 392.4L111.8 389.2L112.7 388.4L115.9 391.6ZM141.9 417.7L128.8 404.7L129.4 404.2L142.1 417.4ZM109.3 385.2L106.0 382.0L107.0 381.0L110.2 384.3ZM142.1 417.5L126.1 401.0L126.7 400.4L142.4 417.2ZM119.7 394.4L113.3 387.7L114.2 386.9L120.4 393.6ZM142.3 417.3L129.8 403.8L130.3 403.3L142.6 417.0ZM117.2 390.4L114.1 387.0L114.9 386.2L118.0 389.6ZM142.6 417.0L124.1 396.6L124.8 395.9L142.8 416.8ZM114.8 386.3L111.7 382.9L112.7 382.0L115.7 385.5ZM136.8 409.9L127.7 399.5L128.3 398.9L137.2 409.5ZM118.6 389.1L115.6 385.6L116.5 384.8L119.5 388.4ZM146.0 420.1L128.2 399.0L128.9 398.5L146.2 420.0ZM122.3 392.0L113.4 381.4L114.4 380.6L123.1 391.3ZM143.3 416.4L128.8 398.6L129.5 398.0L143.6 416.2ZM123.0 391.4L120.1 387.9L121.0 387.2L123.8 390.8ZM114.3 380.7L111.4 377.1L112.5 376.3L115.3 379.9ZM152.1 427.1L149.2 423.5L149.4 423.3L152.1 427.0ZM143.6 416.2L129.4 398.1L130.0 397.6L143.8 416.0ZM123.7 390.9L112.3 376.4L113.5 375.5L124.5 390.2ZM143.8 416.0L141.0 412.4L141.4 412.1L144.1 415.8ZM132.7 401.3L129.9 397.7L130.6 397.2L133.3 400.9ZM144.1 415.8L127.8 393.5L128.6 393.0L144.4 415.6ZM125.1 389.8L119.7 382.4L120.7 381.7L125.9 389.2ZM144.3 415.6L139.0 408.1L139.5 407.8L144.6 415.4ZM136.4 404.3L128.5 393.1L129.2 392.5L136.9 404.0ZM152.3 426.9L149.7 423.1L149.9 423.0L152.4 426.8ZM144.6 415.5L129.1 392.6L129.9 392.1L144.9 415.3ZM126.5 388.8L121.4 381.2L122.4 380.5L127.4 388.2ZM118.8 377.4L116.2 373.6L117.4 372.8L119.9 376.6ZM144.9 415.3L132.3 396.0L133.0 395.6L145.2 415.1ZM142.7 411.2L140.2 407.3L140.7 407.0L143.1 411.0ZM137.8 403.4L132.9 395.6L133.6 395.2L138.4 403.1ZM145.4 414.9L140.7 407.1L141.1 406.8L145.7 414.8ZM138.3 403.1L133.5 395.2L134.3 394.8L138.8 402.8ZM145.7 414.8L141.1 406.8L141.6 406.5L146.0 414.6ZM146.0 414.6L134.8 394.5L135.5 394.1L146.3 414.4ZM146.2 414.5L141.9 406.3L142.4 406.1L146.6 414.3ZM139.7 402.3L135.4 394.2L136.2 393.8L140.3 402.0ZM146.5 414.3L140.2 402.0L140.8 401.7L146.9 414.2ZM146.8 414.2L136.7 393.5L137.5 393.2L147.1 414.0ZM147.1 414.0L137.4 393.2L138.1 392.9L147.4 413.9ZM153.0 426.5L151.1 422.3L151.3 422.2L153.1 426.5ZM149.3 418.1L136.1 388.7L137.0 388.3L149.5 418.0ZM145.9 409.5L144.1 405.3L144.6 405.1L146.3 409.4ZM148.0 413.6L139.3 392.3L140.1 392.0L148.3 413.5ZM148.3 413.5L145.0 404.9L145.5 404.8L148.6 413.4ZM153.3 426.4L151.7 422.1L151.9 422.0L153.4 426.3ZM150.2 417.7L142.3 396.1L143.0 395.9L150.4 417.6ZM151.9 422.0L145.9 404.6L146.4 404.4L152.1 421.9ZM150.6 417.6L144.9 400.1L145.5 399.9L150.9 417.5ZM143.5 395.7L142.1 391.3L142.9 391.1L144.2 395.5ZM149.5 413.1L146.8 404.3L147.3 404.2L149.9 413.0ZM145.4 399.9L144.1 395.5L144.8 395.3L146.1 399.7ZM153.6 426.3L152.4 421.9L152.5 421.8L153.7 426.3ZM151.1 417.4L147.3 404.2L147.8 404.0L151.3 417.4ZM153.7 426.3L142.9 386.3L143.8 386.1L153.8 426.2ZM151.5 417.3L148.2 403.9L148.7 403.8L151.8 417.2ZM147.1 399.5L144.8 390.5L145.6 390.3L147.7 399.3ZM153.9 426.2L152.8 421.7L153.0 421.7L153.9 426.2ZM150.7 412.8L146.6 394.9L147.3 394.7L151.1 412.7ZM145.5 390.4L144.5 385.9L145.4 385.7L146.3 390.2ZM151.0 412.7L150.1 408.2L150.5 408.1L151.4 412.6ZM152.2 417.2L146.1 385.6L147.0 385.4L152.5 417.1ZM152.7 417.1L151.3 408.0L151.7 407.9L153.0 417.0ZM153.6 421.6L153.0 417.0L153.2 417.0L153.8 421.6ZM142.6 344.2L142.0 339.6L143.8 339.4L144.4 343.9ZM140.7 330.5L140.0 326.0L142.2 325.7L142.7 330.2ZM153.8 421.6L152.6 412.4L153.0 412.4L154.0 421.5ZM144.7 348.5L142.4 330.3L144.5 330.0L146.4 348.3ZM154.1 421.5L152.5 403.2L153.0 403.2L154.3 421.5ZM152.0 398.6L150.8 384.9L151.8 384.8L152.7 398.6ZM153.6 412.3L153.3 407.8L153.7 407.7L154.0 412.3ZM152.0 389.4L151.6 384.8L152.6 384.8L152.8 389.4ZM152.9 394.0L152.4 384.8L153.4 384.7L153.7 393.9ZM150.2 343.4L149.7 334.2L151.7 334.2L152.0 343.3ZM153.4 389.3L153.2 384.7L154.2 384.7L154.2 389.3ZM154.8 426.1L154.6 412.3L154.9 412.3L154.9 426.1ZM154.2 393.9L154.1 389.3L155.0 389.3L155.0 393.9Z"/>
<path fill="#8A7C7C" d="M154.8 384.7L154.8 375.5L155.9 375.5L155.8 384.7ZM154.8 361.7L154.8 357.1L156.3 357.1L156.2 361.7ZM155.6 384.7L155.7 380.1L156.7 380.1L156.6 384.7ZM155.9 366.3L156.1 357.1L157.6 357.1L157.2 366.3ZM156.4 384.7L156.6 380.1L157.6 380.2L157.4 384.8ZM157.2 361.7L157.4 357.1L158.9 357.2L158.6 361.8ZM157.2 384.8L157.5 380.2L158.5 380.2L158.2 384.8ZM158.4 361.8L158.6 357.2L160.1 357.3L159.8 361.9ZM158.4 380.2L158.7 375.6L159.8 375.7L159.4 380.3ZM159.0 371.0L159.9 357.3L161.4 357.4L160.2 371.1ZM158.8 384.9L159.2 380.3L160.3 380.4L159.8 385.0ZM160.4 366.5L161.2 357.4L162.7 357.5L161.7 366.7ZM160.1 380.4L162.5 357.5L164.0 357.7L161.1 380.5ZM161.0 380.5L163.8 357.6L165.2 357.8L162.0 380.6ZM164.9 348.5L166.5 334.8L168.5 335.1L166.5 348.7ZM161.9 380.6L165.0 357.8L166.5 358.0L162.9 380.7ZM163.5 376.2L166.3 358.0L167.8 358.2L164.6 376.4ZM159.7 403.5L160.4 399.0L161.1 399.1L160.2 403.6ZM162.8 385.4L166.0 367.3L167.3 367.5L163.7 385.6ZM166.8 362.7L167.6 358.2L169.0 358.5L168.2 363.0ZM164.5 381.0L168.0 362.9L169.3 363.2L165.5 381.2ZM164.4 385.7L168.2 367.7L169.5 368.0L165.3 385.9ZM160.0 408.3L163.1 394.8L163.9 395.0L160.5 408.4ZM166.2 381.4L169.3 367.9L170.6 368.2L167.2 381.6ZM169.3 372.7L171.5 363.7L172.9 364.1L170.5 373.0ZM169.1 377.4L172.7 364.0L174.0 364.4L170.2 377.7ZM165.0 395.3L166.3 390.9L167.1 391.1L165.7 395.5ZM168.8 382.0L172.6 368.8L173.8 369.1L169.8 382.3ZM171.0 377.9L175.0 364.7L176.3 365.1L172.0 378.2ZM162.0 408.8L163.4 404.4L163.9 404.6L162.4 409.0ZM169.1 386.9L174.7 369.4L176.0 369.8L169.9 387.2ZM172.8 378.5L177.3 365.4L178.6 365.9L173.9 378.9ZM162.7 409.1L169.0 391.8L169.8 392.1L163.2 409.2ZM170.6 387.5L173.7 378.8L174.8 379.2L171.4 387.8ZM164.8 404.9L169.7 392.0L170.5 392.3L165.3 405.1ZM171.3 387.7L174.6 379.1L175.6 379.5L172.2 388.1ZM173.8 383.8L180.7 366.7L181.9 367.2L174.7 384.2ZM163.9 409.5L171.0 392.6L171.8 392.9L164.3 409.7ZM172.8 388.3L174.6 384.1L175.5 384.5L173.7 388.7ZM164.2 409.7L168.0 401.3L168.5 401.5L164.6 409.9ZM175.4 384.4L177.3 380.2L178.3 380.7L176.3 384.9ZM179.1 376.0L181.0 371.8L182.2 372.4L180.2 376.5ZM168.5 401.5L172.3 393.2L173.1 393.5L169.1 401.8ZM174.3 389.0L178.2 380.6L179.2 381.1L175.1 389.4ZM180.1 376.5L182.0 372.3L183.2 372.9L181.2 377.0ZM167.0 405.9L171.0 397.6L171.7 397.9L167.5 406.1ZM175.0 389.3L183.1 372.8L184.2 373.4L175.8 389.7ZM163.2 414.3L169.5 402.0L170.1 402.3L163.6 414.5ZM177.8 385.6L184.1 373.3L185.2 373.9L178.7 386.1ZM170.0 402.2L172.1 398.2L172.8 398.5L170.6 402.6ZM178.6 386.0L185.1 373.8L186.2 374.4L179.5 386.5ZM166.0 410.6L170.5 402.5L171.0 402.8L166.4 410.8ZM179.4 386.4L186.0 374.3L187.2 375.0L180.3 386.9ZM166.4 410.8L175.5 394.8L176.3 395.2L166.8 411.0ZM177.8 390.8L180.1 386.8L181.0 387.4L178.6 391.3ZM182.4 382.9L187.0 374.9L188.1 375.5L183.4 383.4ZM166.7 411.0L169.1 407.0L169.6 407.3L167.1 411.2ZM171.4 403.1L176.2 395.2L176.9 395.6L172.0 403.4ZM180.9 387.3L185.6 379.4L186.7 380.0L181.8 387.8ZM164.6 415.1L176.8 395.6L177.5 396.0L164.9 415.3ZM179.2 391.7L181.7 387.8L182.5 388.3L180.0 392.2ZM164.9 415.3L172.4 403.7L172.9 404.0L165.2 415.5ZM174.9 399.8L182.4 388.2L183.3 388.8L175.5 400.2ZM184.9 384.4L187.4 380.5L188.4 381.2L185.8 385.0ZM172.9 404.0L175.4 400.2L176.0 400.6L173.4 404.3ZM180.6 392.5L185.7 384.9L186.6 385.5L181.3 393.1ZM183.9 389.2L189.1 381.7L190.1 382.4L184.7 389.8ZM184.6 389.7L187.3 386.0L188.2 386.7L185.4 390.3ZM177.0 401.3L179.8 397.6L180.4 398.1L177.6 401.7ZM182.5 393.9L188.1 386.6L188.9 387.2L183.3 394.5ZM166.2 416.2L169.0 412.6L169.4 412.8L166.5 416.4ZM177.5 401.7L186.0 390.8L186.8 391.4L178.1 402.1ZM178.0 402.1L180.9 398.5L181.6 399.0L178.6 402.5ZM178.5 402.5L187.4 391.9L188.1 392.6L179.1 403.0ZM190.3 388.4L193.3 384.8L194.2 385.6L191.2 389.1ZM157.9 427.2L160.9 423.7L161.1 423.9L158.0 427.3ZM163.9 420.3L182.0 399.4L182.6 400.0L164.1 420.5ZM158.0 427.3L164.1 420.4L164.3 420.6L158.0 427.3ZM167.2 417.0L188.7 393.0L189.5 393.7L167.5 417.3ZM194.9 386.2L201.0 379.4L202.0 380.3L195.7 387.0ZM158.0 427.3L173.7 410.5L174.1 410.9L158.1 427.4ZM176.8 407.1L180.0 403.8L180.5 404.3L177.3 407.6ZM186.2 397.0L189.4 393.6L190.1 394.4L186.9 397.7ZM195.6 386.9L201.9 380.2L202.9 381.1L196.5 387.7ZM161.3 424.1L190.0 394.3L190.7 395.0L161.4 424.2ZM196.4 387.6L202.8 381.0L203.8 382.0L197.2 388.5ZM158.1 427.4L187.4 398.1L188.0 398.8L158.2 427.5ZM193.9 391.6L210.1 375.3L211.2 376.5L194.7 392.4ZM158.2 427.5L161.5 424.3L161.6 424.4L158.3 427.6ZM171.4 414.7L178.0 408.3L178.5 408.8L171.7 415.0ZM194.6 392.3L211.1 376.3L212.2 377.4L195.3 393.1ZM217.7 369.9L221.0 366.7L222.3 368.1L218.9 371.2ZM158.3 427.6L168.3 418.1L168.6 418.4L158.3 427.6ZM171.7 415.0L185.1 402.4L185.7 403.0L172.0 415.3ZM195.2 393.0L212.0 377.3L213.1 378.5L196.0 393.8ZM158.3 427.6L161.7 424.5L161.9 424.7L158.4 427.7ZM172.0 415.3L175.4 412.2L175.8 412.6L172.3 415.6ZM182.2 406.0L185.6 403.0L186.2 403.6L182.7 406.6ZM199.3 390.6L212.9 378.3L214.0 379.5L200.1 391.5ZM179.2 409.5L182.6 406.5L183.1 407.1L179.6 410.0ZM200.0 391.4L213.8 379.3L214.9 380.5L200.8 392.3ZM158.4 427.7L165.5 421.8L165.6 422.0L158.5 427.8ZM172.5 415.9L211.2 383.3L212.2 384.5L172.8 416.3ZM176.3 413.3L183.5 407.5L183.9 408.1L176.7 413.7ZM201.3 393.0L204.9 390.1L205.7 391.1L202.1 393.9ZM208.5 387.2L212.0 384.3L213.0 385.5L209.3 388.3ZM158.5 427.9L162.1 425.0L162.3 425.2L158.6 427.9ZM180.2 410.8L191.1 402.3L191.7 403.1L180.6 411.4ZM205.6 391.0L212.8 385.3L213.7 386.5L206.4 392.0ZM158.6 427.9L165.9 422.4L166.1 422.6L158.6 428.0ZM173.2 416.8L176.9 414.1L177.3 414.5L173.5 417.2ZM180.6 411.3L187.9 405.7L188.4 406.4L181.0 411.8ZM195.3 400.2L198.9 397.4L199.6 398.3L195.9 401.0ZM206.3 391.9L213.6 386.3L214.5 387.5L207.1 392.9ZM158.6 428.0L162.3 425.3L162.4 425.4L158.7 428.1ZM184.6 409.0L188.4 406.3L188.8 407.0L185.1 409.6ZM203.2 395.5L218.1 384.6L219.0 385.9L203.9 396.5ZM177.5 414.8L188.8 406.9L189.3 407.6L177.8 415.3ZM211.4 391.0L218.9 385.8L219.8 387.1L212.2 392.2ZM158.7 428.1L173.9 417.8L174.2 418.2L158.8 428.2ZM177.8 415.2L193.0 404.9L193.5 405.7L178.1 415.7ZM204.4 397.2L219.7 386.9L220.5 388.2L205.1 398.2ZM162.6 425.7L166.5 423.2L166.6 423.4L162.7 425.8ZM178.0 415.6L193.4 405.6L193.9 406.4L178.3 416.1ZM212.7 393.0L220.4 388.0L221.3 389.4L213.5 394.2ZM232.0 380.5L235.8 378.0L236.9 379.6L233.0 382.1ZM158.8 428.3L166.6 423.4L166.7 423.6L158.8 428.3ZM182.2 413.6L186.1 411.2L186.5 411.8L182.5 414.2ZM190.0 408.7L193.9 406.3L194.4 407.1L190.4 409.4ZM213.4 394.1L221.2 389.2L222.0 390.5L214.1 395.2ZM232.9 381.8L236.7 379.4L237.8 381.1L233.8 383.4ZM158.8 428.3L198.2 404.6L198.8 405.5L158.9 428.4ZM202.2 402.2L221.9 390.3L222.7 391.7L202.7 403.2ZM170.8 421.5L178.8 416.9L179.1 417.4L171.0 421.8ZM182.8 414.6L194.7 407.6L195.2 408.5L183.1 415.1ZM202.7 403.0L222.6 391.5L223.3 392.9L203.2 404.0ZM158.9 428.5L162.9 426.2L163.0 426.4L159.0 428.5ZM167.0 424.0L171.0 421.8L171.2 422.1L167.1 424.2ZM183.0 415.0L195.1 408.3L195.5 409.2L183.4 415.6ZM211.2 399.4L223.2 392.7L224.0 394.1L211.8 400.5ZM159.0 428.5L195.5 409.0L195.9 409.9L159.0 428.6ZM203.6 404.7L223.9 393.9L224.6 395.3L204.1 405.7ZM159.0 428.6L167.2 424.4L167.3 424.7L159.0 428.7ZM171.3 422.3L191.8 411.9L192.1 412.6L171.4 422.7ZM204.0 405.6L224.5 395.1L225.2 396.5L204.5 406.6ZM228.6 393.0L232.7 390.9L233.5 392.5L229.4 394.5ZM159.0 428.7L163.2 426.7L163.2 426.8L159.1 428.8ZM167.3 424.6L171.4 422.6L171.6 422.9L167.4 424.9ZM183.8 416.5L196.2 410.5L196.6 411.3L184.1 417.1ZM204.5 406.4L229.3 394.3L230.0 395.8L205.0 407.4ZM159.1 428.8L196.6 411.2L196.9 412.0L159.1 428.8ZM200.7 409.3L209.1 405.4L209.6 406.5L201.2 410.2ZM213.2 403.4L225.7 397.6L226.4 399.0L213.8 404.6ZM159.1 428.8L163.3 426.9L163.4 427.1L159.1 428.9ZM188.5 415.7L192.7 413.8L193.0 414.6L188.8 416.4ZM209.5 406.3L230.5 396.9L231.2 398.5L210.0 407.4ZM159.1 428.9L163.4 427.1L163.4 427.3L159.2 429.0ZM167.6 425.3L184.5 418.1L184.8 418.7L167.7 425.5ZM193.0 414.5L197.2 412.7L197.6 413.5L193.3 415.2ZM205.7 409.1L214.1 405.5L214.6 406.7L206.1 410.1ZM218.4 403.7L226.8 400.0L227.4 401.5L218.9 404.9ZM159.2 429.0L163.4 427.2L163.5 427.4L159.2 429.1ZM172.0 423.8L176.2 422.1L176.4 422.5L172.1 424.1ZM206.1 410.0L231.6 399.6L232.2 401.1L206.5 411.0ZM159.2 429.0L184.9 419.1L185.2 419.7L159.2 429.1ZM189.2 417.5L197.8 414.2L198.1 415.0L189.5 418.2ZM202.1 412.5L210.7 409.2L211.1 410.3L202.5 413.5ZM211.1 410.2L228.3 403.9L228.9 405.3L211.5 411.3ZM232.7 402.3L237.0 400.7L237.6 402.4L233.2 403.9ZM211.4 411.2L228.8 405.1L229.3 406.6L211.8 412.3ZM241.8 400.6L246.2 399.1L246.8 401.0L242.4 402.4ZM159.3 429.3L176.8 423.6L176.9 424.0L159.3 429.4ZM185.5 420.7L198.6 416.4L198.9 417.3L185.7 421.3ZM203.0 415.0L211.7 412.1L212.1 413.3L203.3 416.0ZM242.4 402.1L251.1 399.3L251.7 401.2L242.9 403.9ZM159.3 429.3L163.7 428.0L163.7 428.2L159.3 429.4ZM168.1 426.6L172.5 425.3L172.6 425.7L168.2 426.9ZM194.5 418.5L198.9 417.2L199.1 418.1L194.7 419.3ZM207.7 414.5L225.3 409.1L225.7 410.5L208.0 415.6ZM242.8 403.7L251.6 401.0L252.2 402.9L243.4 405.5ZM159.3 429.4L181.4 423.1L181.6 423.6L159.3 429.5ZM190.3 420.5L207.9 415.4L208.2 416.5L190.5 421.2ZM212.4 414.1L221.2 411.6L221.6 412.9L212.7 415.3ZM238.9 406.5L247.7 403.9L248.2 405.8L239.4 408.2ZM159.3 429.5L168.2 427.1L168.3 427.4L159.4 429.6ZM177.1 424.7L181.5 423.5L181.7 424.1L177.2 425.2ZM194.9 419.9L221.5 412.7L221.9 414.1L195.1 420.7ZM239.3 408.0L248.2 405.6L248.7 407.5L239.7 409.7ZM261.5 402.0L265.9 400.8L266.5 403.0L262.1 404.1ZM177.2 425.1L186.1 422.9L186.3 423.5L177.3 425.6ZM195.1 420.6L221.8 413.9L222.2 415.3L195.3 421.4ZM239.7 409.4L248.6 407.2L249.1 409.1L240.1 411.2ZM159.4 429.7L163.9 428.6L163.9 428.8L159.4 429.7ZM172.8 426.5L181.8 424.5L181.9 425.0L172.9 426.9ZM199.7 420.3L231.1 413.0L231.4 414.5L199.9 421.2ZM240.0 410.9L249.0 408.8L249.4 410.7L240.4 412.6ZM159.4 429.7L163.9 428.8L163.9 429.0L159.4 429.8ZM195.4 422.0L231.4 414.3L231.7 415.9L195.6 422.9ZM240.4 412.4L253.9 409.5L254.3 411.5L240.7 414.1ZM173.0 427.2L182.0 425.4L182.1 425.9L173.0 427.5ZM200.0 421.9L231.6 415.7L231.9 417.2L200.2 422.8ZM240.7 413.9L249.7 412.1L250.1 414.1L241.0 415.6ZM159.4 429.9L182.1 425.9L182.2 426.4L159.4 430.0ZM186.6 425.1L231.9 417.0L232.2 418.6L186.7 425.7ZM245.5 414.6L250.0 413.8L250.3 415.7L245.8 416.4ZM177.6 427.1L182.2 426.3L182.2 426.9L177.7 427.5ZM195.8 424.2L232.1 418.4L232.4 419.9L195.9 425.0ZM245.7 416.2L263.9 413.3L264.2 415.5L246.0 418.0ZM159.5 430.1L164.0 429.4L164.0 429.6L159.5 430.1ZM173.1 428.1L191.3 425.5L191.4 426.3L173.2 428.5ZM195.9 424.9L209.6 422.9L209.7 424.0L196.0 425.7ZM214.1 422.3L232.3 419.7L232.5 421.3L214.3 423.5ZM250.5 417.1L259.6 415.8L259.9 418.0L250.8 419.1ZM264.2 415.2L268.8 414.5L269.1 416.8L264.5 417.4ZM177.7 427.9L182.3 427.3L182.4 427.9L177.8 428.3ZM200.5 425.0L232.5 421.1L232.7 422.6L200.7 426.0ZM250.8 418.8L269.0 416.5L269.3 418.8L251.0 420.7ZM200.6 425.8L237.2 421.9L237.4 423.6L200.7 426.8ZM251.0 420.5L273.8 418.0L274.1 420.4L251.1 422.4ZM159.5 430.3L164.1 429.9L164.1 430.1L159.5 430.4ZM173.2 429.1L191.6 427.4L191.6 428.2L173.3 429.4ZM196.1 427.0L232.8 423.8L232.9 425.4L196.2 427.9ZM251.1 422.1L274.0 420.1L274.2 422.5L251.3 424.1ZM177.8 429.1L182.4 428.7L182.5 429.3L177.9 429.5ZM187.0 428.4L191.6 428.1L191.7 428.8L187.1 429.1ZM200.8 427.4L232.9 425.1L233.0 426.7L200.8 428.4ZM246.7 424.2L274.2 422.2L274.3 424.6L246.8 426.0ZM177.9 429.5L182.5 429.2L182.5 429.8L177.9 429.9ZM191.6 428.7L196.2 428.5L196.3 429.3L191.7 429.5ZM200.8 428.2L219.2 427.2L219.3 428.5L200.9 429.2ZM246.8 425.8L274.3 424.3L274.4 426.7L246.8 427.6ZM159.5 430.5L164.1 430.4L164.1 430.6L159.5 430.6ZM168.7 430.2L233.0 427.9L233.1 429.4L168.7 430.5ZM246.8 427.4L274.4 426.4L274.5 428.8L246.9 429.2ZM159.5 430.6L164.1 430.5L164.1 430.7L159.5 430.7ZM168.7 430.4L219.3 429.5L219.3 430.8L168.7 430.7ZM228.5 429.3L237.7 429.1L237.7 430.8L228.5 430.8ZM246.9 429.0L265.3 428.6L265.3 430.9L246.9 430.8ZM269.9 428.5L274.5 428.4L274.5 430.9L269.9 430.9ZM159.5 430.7L164.1 430.7L164.1 430.9L159.5 430.8ZM168.7 430.7L177.9 430.7L177.9 431.1L168.7 431.0ZM182.5 430.7L214.7 430.6L214.7 431.8L182.5 431.2ZM219.3 430.6L242.3 430.6L242.3 432.3L219.3 431.9ZM246.9 430.6L260.7 430.6L260.7 432.7L246.9 432.4ZM269.9 430.5L274.5 430.5L274.5 433.0L269.9 432.9ZM159.5 430.8L164.1 430.8L164.1 431.0L159.5 430.9ZM168.7 430.9L219.3 431.7L219.3 433.0L168.7 431.2ZM223.9 431.8L242.3 432.1L242.2 433.9L223.9 433.2ZM246.9 432.2L265.3 432.5L265.2 434.7L246.8 434.0ZM269.9 432.5L274.5 432.6L274.4 435.0L269.8 434.9ZM177.9 431.5L191.7 431.9L191.6 432.7L177.9 431.9ZM237.7 433.5L274.4 434.7L274.3 437.1L237.6 435.1ZM159.5 430.9L164.1 431.2L164.1 431.4L159.5 431.0ZM168.7 431.4L219.2 434.0L219.1 435.3L168.7 431.7ZM233.0 434.7L242.2 435.2L242.1 436.9L232.9 436.3ZM246.8 435.4L274.3 436.8L274.2 439.2L246.7 437.2ZM173.3 432.0L210.0 434.5L209.9 435.6L173.2 432.3ZM214.6 434.8L219.1 435.1L219.0 436.4L214.5 436.0ZM232.9 436.0L242.1 436.7L242.0 438.4L232.8 437.6ZM251.3 437.3L274.2 438.9L274.0 441.3L251.1 439.3ZM173.2 432.3L214.5 435.8L214.4 437.0L173.2 432.6ZM232.8 437.4L242.0 438.2L241.8 440.0L232.7 439.0ZM251.1 439.0L255.7 439.4L255.5 441.4L251.0 440.9ZM260.3 439.8L274.1 441.0L273.8 443.4L260.1 441.9ZM173.2 432.6L214.4 436.9L214.2 438.1L173.2 433.0ZM232.7 438.8L241.8 439.7L241.6 441.5L232.5 440.3ZM260.1 441.6L273.9 443.0L273.6 445.4L259.9 443.7ZM159.5 431.3L164.0 431.8L164.0 432.0L159.5 431.3ZM168.6 432.4L214.3 437.9L214.1 439.1L168.6 432.6ZM228.0 439.6L241.7 441.2L241.4 443.0L227.8 441.0ZM264.5 444.0L273.6 445.1L273.3 447.5L264.2 446.2ZM186.8 435.1L191.3 435.8L191.2 436.5L186.7 435.8ZM195.9 436.4L200.5 437.0L200.3 438.0L195.8 437.2ZM236.9 442.1L241.5 442.7L241.2 444.5L236.7 443.8ZM255.1 444.6L273.4 447.2L273.0 449.6L254.8 446.7ZM159.4 431.4L164.0 432.1L164.0 432.3L159.4 431.5ZM168.5 432.8L227.6 442.1L227.4 443.6L168.5 433.1ZM232.2 442.8L241.2 444.3L241.0 446.0L231.9 444.4ZM254.9 446.4L259.4 447.1L259.1 449.2L254.5 448.4ZM173.0 433.9L213.8 441.0L213.6 442.2L173.0 434.2ZM231.9 444.2L241.0 445.8L240.7 447.5L231.6 445.7ZM250.1 447.3L259.1 448.9L258.7 451.0L249.7 449.3ZM173.0 434.2L213.6 442.0L213.4 443.2L172.9 434.6ZM227.2 444.6L231.7 445.5L231.4 447.1L226.9 446.1ZM236.2 446.4L245.2 448.1L244.9 450.0L235.9 448.0ZM249.8 449.0L258.8 450.7L258.4 452.8L249.4 450.9ZM172.9 434.5L208.9 442.1L208.7 443.2L172.8 434.9ZM213.4 443.1L226.9 445.9L226.6 447.4L213.1 444.2ZM231.4 446.9L258.4 452.6L258.0 454.6L231.1 448.4ZM163.9 432.8L168.4 433.8L168.3 434.1L163.8 432.9ZM172.8 434.8L190.8 438.9L190.6 439.7L172.7 435.2ZM199.7 441.0L240.1 450.2L239.7 452.0L199.5 441.9ZM249.1 452.3L271.5 457.4L270.9 459.8L248.6 454.2ZM181.7 437.3L212.9 445.1L212.6 446.3L181.5 437.9ZM226.3 448.4L253.1 455.0L252.6 457.0L226.0 449.8ZM257.6 456.2L271.0 459.5L270.4 461.8L257.1 458.2ZM172.7 435.4L212.7 446.1L212.4 447.3L172.6 435.8ZM221.6 448.5L243.8 454.4L243.3 456.2L221.2 449.8ZM248.2 455.6L270.5 461.5L269.8 463.8L247.7 457.5ZM177.0 437.0L203.6 444.6L203.3 445.6L176.9 437.5ZM221.3 449.6L238.9 454.7L238.4 456.4L220.9 451.0ZM243.4 455.9L274.3 464.8L273.6 467.2L242.8 457.7ZM176.9 437.4L190.1 441.4L189.9 442.1L176.8 437.8ZM194.5 442.7L238.5 456.1L238.0 457.8L194.3 443.5ZM269.3 465.5L273.7 466.8L273.0 469.2L268.6 467.8ZM163.7 433.5L189.9 442.0L189.7 442.7L163.6 433.7ZM203.0 446.3L207.4 447.7L207.1 448.7L202.7 447.2ZM168.0 435.2L172.3 436.7L172.2 437.0L167.9 435.4ZM176.7 438.2L211.5 450.1L211.1 451.2L176.5 438.6ZM163.5 433.8L185.2 441.7L184.9 442.3L163.5 434.0ZM189.5 443.2L198.1 446.4L197.8 447.2L189.2 443.9ZM163.5 434.0L167.8 435.6L167.7 435.9L163.4 434.2ZM172.1 437.3L202.2 448.8L201.8 449.7L172.0 437.6ZM163.4 434.1L180.5 441.0L180.3 441.5L163.4 434.3ZM167.6 436.1L193.0 446.8L192.7 447.6L167.5 436.3ZM197.3 448.6L201.5 450.4L201.1 451.3L196.9 449.5ZM163.3 434.4L188.5 445.6L188.2 446.3L163.2 434.6ZM192.7 447.5L196.9 449.4L196.6 450.2L192.4 448.2ZM163.2 434.6L188.3 446.2L188.0 446.9L163.2 434.7ZM167.3 436.7L171.4 438.7L171.3 439.1L167.2 437.0ZM175.6 440.8L179.7 442.8L179.5 443.3L175.4 441.2ZM183.9 444.8L200.4 452.8L200.0 453.7L183.6 445.4ZM229.4 466.9L237.6 470.9L236.8 472.6L228.6 468.4ZM163.1 434.9L187.7 447.4L187.4 448.0L163.0 435.0ZM232.8 470.3L236.9 472.4L236.1 474.0L232.0 471.8ZM183.4 445.8L203.7 456.5L203.1 457.5L183.0 446.4ZM232.1 471.6L236.2 473.8L235.3 475.4L231.3 473.2ZM167.0 437.4L171.0 439.6L170.8 439.9L166.8 437.6ZM179.1 444.0L187.1 448.5L186.7 449.1L178.8 444.5ZM191.1 450.7L199.2 455.2L198.7 456.1L190.7 451.5ZM162.9 435.3L182.8 446.8L182.5 447.3L162.8 435.4ZM162.8 435.4L166.7 437.8L166.6 438.0L162.7 435.6ZM178.6 444.9L186.5 449.6L186.1 450.2L178.3 445.4ZM190.4 452.0L198.3 456.7L197.8 457.6L190.0 452.7ZM170.5 440.4L174.4 442.9L174.2 443.3L170.3 440.7ZM178.3 445.3L190.0 452.6L189.6 453.3L178.0 445.8ZM193.9 455.0L197.8 457.5L197.3 458.3L193.4 455.8ZM209.6 464.8L213.5 467.2L212.7 468.4L208.9 465.9ZM166.5 438.2L181.9 448.2L181.6 448.7L166.3 438.4ZM162.5 435.8L181.6 448.7L181.3 449.2L162.4 436.0ZM166.2 438.6L173.8 443.9L173.5 444.2L166.1 438.8ZM177.5 446.5L185.1 451.8L184.6 452.4L177.2 447.0ZM188.8 454.4L196.4 459.7L195.8 460.5L188.4 455.1ZM177.3 446.9L195.9 460.4L195.3 461.2L176.9 447.3ZM162.3 436.2L180.6 450.0L180.2 450.6L162.1 436.4ZM162.2 436.4L180.3 450.5L179.9 451.0L162.0 436.5ZM165.6 439.4L172.8 445.1L172.5 445.5L165.5 439.6ZM176.4 448.0L183.5 453.8L183.1 454.4L176.0 448.5ZM187.1 456.7L190.7 459.6L190.1 460.3L186.6 457.4ZM162.0 436.6L172.5 445.5L172.2 445.8L161.8 436.7ZM176.1 448.4L179.6 451.4L179.2 451.9L175.7 448.8ZM186.7 457.3L190.2 460.2L189.6 460.9L186.1 457.9ZM161.9 436.7L168.8 442.8L168.6 443.0L161.7 436.9ZM172.3 445.8L179.2 451.8L178.8 452.3L172.0 446.1ZM165.2 439.9L178.9 452.2L178.4 452.7L165.0 440.1ZM165.0 440.1L168.4 443.2L168.1 443.5L164.8 440.3ZM171.7 446.4L181.8 455.8L181.3 456.3L171.4 446.7ZM185.2 458.9L188.6 462.0L187.9 462.7L184.6 459.5ZM202.1 474.6L205.4 477.7L204.5 478.7L201.2 475.5ZM168.2 443.5L171.5 446.7L171.1 447.0L167.9 443.7ZM174.8 449.8L184.7 459.4L184.1 460.0L174.4 450.2ZM164.7 440.4L171.2 446.9L170.9 447.3L164.5 440.6ZM174.4 450.2L187.5 463.2L186.8 463.8L174.0 450.6ZM161.3 437.3L186.9 463.7L186.2 464.4L161.2 437.4ZM161.2 437.4L173.8 450.9L173.3 451.2L161.0 437.5ZM164.1 440.9L170.3 447.8L170.0 448.1L163.9 441.1ZM173.4 451.2L185.7 464.8L185.0 465.5L173.0 451.6ZM164.0 441.1L170.0 448.0L169.7 448.3L163.8 441.3ZM173.0 451.5L185.1 465.4L184.4 466.0L172.6 451.9ZM160.8 437.7L169.7 448.3L169.3 448.6L160.7 437.9ZM172.7 451.8L184.5 465.9L183.8 466.5L172.2 452.2ZM160.7 437.8L163.6 441.4L163.4 441.6L160.6 438.0ZM166.5 445.0L183.9 466.4L183.2 467.0L166.2 445.2ZM160.6 437.9L177.6 459.7L177.0 460.1L160.4 438.1ZM166.0 445.4L171.5 452.7L171.1 453.1L165.7 445.6ZM174.3 456.4L188.2 474.7L187.3 475.4L173.8 456.8ZM160.3 438.1L173.9 456.7L173.3 457.1L160.2 438.2ZM176.0 460.8L184.0 472.1L183.1 472.7L175.4 461.2ZM199.8 494.7L202.5 498.5L201.1 499.4L198.5 495.6ZM162.6 442.1L180.7 468.8L179.9 469.3L162.4 442.3ZM159.9 438.4L182.5 473.1L181.7 473.6L159.8 438.5ZM159.8 438.5L179.3 469.7L178.5 470.2L159.6 438.6ZM173.9 462.2L181.0 474.0L180.1 474.6L173.3 462.6ZM195.3 497.7L197.6 501.6L196.2 502.5L193.9 498.5ZM173.3 462.5L180.3 474.5L179.4 475.0L172.7 462.9ZM194.1 498.4L198.7 506.3L197.2 507.2L192.7 499.1ZM161.6 442.8L166.1 450.8L165.7 451.0L161.4 442.9ZM170.6 458.8L181.7 478.9L180.7 479.5L170.0 459.2ZM195.1 503.1L197.4 507.1L195.8 507.9L193.7 503.9ZM178.7 475.3L180.9 479.4L179.9 479.9L177.8 475.8ZM189.5 495.6L198.2 511.9L196.6 512.7L188.2 496.3ZM177.9 475.8L198.9 516.7L197.1 517.6L177.0 476.2ZM177.1 476.1L183.2 488.5L182.0 489.1L176.2 476.6ZM185.2 492.7L197.4 517.5L195.6 518.3L184.0 493.3ZM184.1 493.2L188.0 501.5L186.6 502.2L182.9 493.8ZM195.8 518.2L197.8 522.4L195.9 523.2L194.1 519.0ZM203.6 534.9L205.6 539.0L203.4 540.0L201.5 535.8ZM207.5 543.2L213.4 555.7L210.9 556.8L205.3 544.2ZM177.4 481.1L184.9 497.9L183.6 498.5L176.4 481.5ZM194.3 518.9L198.1 527.3L196.1 528.1L192.5 519.7ZM201.8 535.7L207.5 548.3L205.1 549.3L199.7 536.6ZM222.5 581.9L224.3 586.1L221.2 587.5L219.4 583.2ZM194.6 523.8L201.8 540.7L199.5 541.7L192.7 524.6ZM203.6 545.0L205.4 549.2L203.0 550.2L201.3 545.9ZM216.2 574.6L221.6 587.3L218.4 588.6L213.3 575.8ZM194.7 528.7L205.0 554.3L202.5 555.3L192.7 529.5ZM193.0 529.4L202.9 555.2L200.4 556.1L190.9 530.2ZM178.6 495.5L180.2 499.8L178.8 500.3L177.3 496.0ZM191.2 530.1L200.7 556.0L198.2 556.9L189.2 530.8ZM208.6 577.6L210.2 581.9L207.1 583.0L205.6 578.7ZM191.0 535.0L197.0 552.4L194.5 553.3L188.9 535.7ZM198.5 556.8L200.0 561.1L197.4 562.0L195.9 557.6ZM206.0 578.5L207.5 582.9L204.4 583.9L203.0 579.5ZM209.0 587.2L210.5 591.5L207.3 592.6L205.9 588.3ZM176.3 496.3L177.7 500.7L176.3 501.1L175.0 496.7ZM187.7 531.3L200.6 570.6L197.7 571.5L185.7 531.9ZM206.3 588.1L207.7 592.5L204.4 593.5L203.1 589.1ZM187.3 536.2L198.1 571.4L195.3 572.3L185.2 536.9ZM203.5 589.0L204.9 593.4L201.6 594.4L200.3 589.9ZM170.2 483.7L171.5 488.2L170.3 488.5L169.1 484.0ZM172.7 492.6L174.0 497.0L172.7 497.4L171.5 492.9ZM185.5 536.8L195.7 572.1L192.8 572.9L183.3 537.4ZM200.8 589.8L202.0 594.2L198.7 595.2L197.5 590.7ZM183.6 537.3L186.0 546.2L183.7 546.8L181.5 537.9ZM187.2 550.6L190.8 563.9L188.1 564.6L184.8 551.3ZM198.0 590.6L199.2 595.0L195.8 595.9L194.7 591.4ZM181.8 537.8L184.0 546.7L181.6 547.3L179.6 538.3ZM185.1 551.2L188.5 564.6L185.8 565.2L182.7 551.8ZM191.8 577.9L192.9 582.4L189.9 583.1L188.8 578.7ZM180.9 542.7L185.1 560.6L182.5 561.2L178.7 543.2ZM189.3 578.6L190.3 583.0L187.2 583.7L186.3 579.2ZM179.0 543.2L179.9 547.7L177.6 548.1L176.7 543.6ZM180.9 552.1L181.9 556.6L179.3 557.2L178.4 552.7ZM177.0 543.6L177.9 548.1L175.5 548.5L174.7 544.0ZM178.8 552.6L180.5 561.6L177.9 562.1L176.3 553.0ZM182.3 570.6L183.2 575.2L180.3 575.7L179.5 571.2ZM185.0 584.2L185.8 588.7L182.6 589.3L181.8 584.8ZM176.6 553.0L177.4 557.5L174.9 557.9L174.2 553.4ZM179.9 571.1L180.7 575.6L177.7 576.1L177.0 571.6ZM163.6 485.2L164.3 489.8L163.1 489.9L162.5 485.4ZM171.6 535.2L173.0 544.3L170.7 544.6L169.5 535.5ZM174.5 553.3L176.0 562.4L173.3 562.8L172.0 553.7ZM177.4 571.5L178.1 576.1L175.2 576.5L174.5 571.9ZM178.9 580.6L179.6 585.1L176.5 585.6L175.8 581.1ZM169.8 535.4L173.7 562.8L171.0 563.1L167.6 535.7ZM175.6 576.4L176.2 581.0L173.2 581.4L172.6 576.8ZM176.9 585.5L177.5 590.1L174.3 590.5L173.7 586.0ZM162.3 490.0L162.8 494.6L161.5 494.8L161.1 490.2ZM167.9 535.7L171.3 563.1L168.7 563.4L165.8 535.9ZM173.0 576.8L173.6 581.3L170.6 581.7L170.1 577.1ZM166.1 535.9L169.0 563.3L166.3 563.6L164.0 536.1ZM170.5 577.1L171.0 581.6L167.9 581.9L167.5 577.4ZM172.4 595.4L172.9 599.9L169.5 600.3L169.1 595.7ZM159.8 485.7L161.0 499.4L159.6 499.5L158.7 485.8ZM165.9 554.4L166.7 563.6L164.0 563.8L163.4 554.6ZM169.6 595.6L170.0 600.2L166.5 600.5L166.2 595.9ZM162.4 536.2L163.1 545.4L160.8 545.6L160.3 536.4ZM163.4 550.0L164.4 563.8L161.7 563.9L161.0 550.1ZM166.7 595.9L167.0 600.5L163.6 600.7L163.3 596.1ZM157.9 485.8L158.1 490.4L156.9 490.5L156.7 485.9ZM158.4 495.0L158.6 499.6L157.2 499.7L157.1 495.1ZM159.6 518.0L159.8 522.6L158.0 522.6L157.8 518.1ZM160.8 540.9L161.1 545.5L158.8 545.6L158.6 541.0ZM161.6 554.7L162.1 563.9L159.4 564.0L159.1 554.8ZM163.1 582.3L163.3 586.9L160.1 587.0L160.0 582.4ZM163.8 596.1L164.0 600.7L160.6 600.8L160.4 596.2ZM157.1 490.5L157.2 495.1L155.9 495.1L155.9 490.5ZM158.1 518.0L158.2 522.6L156.4 522.7L156.3 518.1ZM158.9 541.0L159.1 545.6L156.7 545.7L156.7 541.1ZM159.2 550.2L159.7 564.0L157.0 564.1L156.8 550.3ZM160.4 582.4L160.6 587.0L157.4 587.1L157.3 582.5ZM155.8 476.7L156.3 504.3L154.8 504.3L154.8 476.7ZM156.5 513.5L156.6 522.7L154.8 522.7L154.8 513.5ZM157.2 554.9L157.4 564.1L154.7 564.1L154.7 554.9ZM154.9 453.7L154.9 458.3L154.4 458.3L154.5 453.7ZM155.0 472.1L155.0 476.7L154.0 476.7L154.1 472.1ZM155.0 481.3L155.0 504.3L153.5 504.3L153.9 481.3ZM155.0 513.5L155.0 522.7L153.2 522.7L153.3 513.5ZM155.1 559.5L155.1 564.1L152.4 564.1L152.5 559.5ZM153.9 495.1L153.7 504.3L152.2 504.3L152.6 495.1ZM153.5 518.1L153.4 522.7L151.6 522.6L151.7 518.0ZM153.1 541.1L152.8 564.1L150.1 564.0L150.9 541.0ZM152.3 591.7L152.2 596.3L148.9 596.2L149.1 591.6ZM153.1 485.9L152.9 490.5L151.7 490.4L151.9 485.8ZM152.6 499.7L152.4 504.3L150.9 504.2L151.2 499.6ZM150.6 559.4L150.4 564.0L147.7 563.9L148.0 559.3ZM149.7 587.0L149.4 596.2L146.0 596.1L146.5 586.9ZM151.6 495.0L151.4 499.6L150.0 499.5L150.3 494.9ZM148.3 559.3L148.1 563.9L145.4 563.8L145.7 559.2ZM147.9 568.5L147.6 573.1L144.8 572.9L145.1 568.4ZM146.9 586.9L146.5 596.1L143.1 595.9L143.8 586.7ZM150.5 494.9L149.9 504.1L148.4 504.0L149.2 494.8ZM148.3 527.1L147.4 540.8L145.1 540.7L146.3 526.9ZM146.7 550.0L145.8 563.8L143.1 563.6L144.3 549.8ZM145.2 573.0L144.8 577.6L141.9 577.3L142.3 572.7ZM143.9 591.3L143.6 595.9L140.2 595.6L140.6 591.1ZM151.0 476.5L150.6 481.1L149.5 481.0L150.0 476.4ZM149.4 494.9L148.6 504.0L147.1 503.9L148.1 494.7ZM146.6 526.9L145.4 540.7L143.2 540.5L144.7 526.8ZM142.7 572.8L141.9 581.9L138.8 581.6L139.8 572.5ZM152.5 453.6L152.1 458.2L151.5 458.1L152.1 453.5ZM151.1 467.3L147.3 503.9L145.8 503.7L150.4 467.2ZM144.9 526.8L143.5 540.5L141.3 540.3L143.0 526.6ZM143.0 545.1L141.1 563.4L138.5 563.1L140.7 544.8ZM140.2 572.5L139.2 581.7L136.2 581.3L137.3 572.2ZM152.7 449.0L151.6 458.1L151.0 458.0L152.3 448.9ZM149.9 471.8L147.7 490.1L146.5 489.9L149.1 471.7ZM147.1 494.6L146.0 503.8L144.6 503.6L145.8 494.5ZM143.8 522.0L141.6 540.3L139.4 540.0L142.0 521.8ZM137.7 572.3L137.2 576.8L134.2 576.4L134.9 571.9ZM151.7 453.5L151.1 458.0L150.5 458.0L151.3 453.4ZM149.8 467.1L147.9 480.8L146.9 480.7L149.1 467.0ZM146.7 489.9L144.8 503.6L143.3 503.4L145.5 489.8ZM142.2 521.8L138.4 549.2L136.0 548.8L140.4 521.5ZM135.3 571.9L134.6 576.5L131.7 576.1L132.4 571.5ZM151.3 453.4L150.6 458.0L150.1 457.9L150.9 453.3ZM148.5 471.6L147.1 480.7L146.0 480.5L147.7 471.5ZM145.6 489.8L142.8 508.0L141.2 507.7L144.4 489.6ZM142.1 512.5L141.3 517.0L139.6 516.8L140.4 512.2ZM140.6 521.6L136.4 548.9L134.0 548.5L138.8 521.3ZM134.2 562.5L133.5 567.0L130.7 566.6L131.6 562.0ZM150.9 453.4L150.1 457.9L149.6 457.8L150.5 453.3ZM148.6 466.9L146.2 480.5L145.2 480.4L147.8 466.8ZM144.6 489.6L142.2 503.2L140.8 502.9L143.4 489.4ZM141.4 507.7L134.3 548.5L131.9 548.1L139.9 507.4ZM131.9 562.1L130.3 571.2L127.5 570.6L129.3 561.6ZM150.5 453.3L149.7 457.8L149.1 457.7L150.1 453.2ZM147.1 471.4L144.4 484.9L143.3 484.7L146.2 471.2ZM143.6 489.4L141.8 498.5L140.5 498.2L142.4 489.2ZM141.0 503.0L132.2 548.1L129.9 547.7L139.5 502.7ZM129.6 561.7L127.9 570.7L125.1 570.1L127.0 561.1ZM151.1 448.7L143.5 484.7L142.4 484.5L150.7 448.6ZM142.5 489.2L130.2 547.7L127.8 547.2L141.4 488.9ZM128.3 556.7L126.4 565.7L123.7 565.1L125.8 556.2ZM125.4 570.2L124.5 574.7L121.6 574.1L122.6 569.6ZM122.6 583.7L121.6 588.2L118.5 587.5L119.5 583.0ZM150.8 448.6L147.7 462.1L147.1 461.9L150.4 448.5ZM146.7 466.6L137.4 506.9L135.9 506.6L145.9 466.4ZM136.4 511.4L128.2 547.3L125.8 546.7L134.8 511.0ZM127.1 551.8L126.1 556.2L123.6 555.6L124.7 551.2ZM123.0 569.7L121.0 578.7L118.0 577.9L120.2 569.0ZM119.9 583.1L118.9 587.6L115.7 586.9L116.9 582.4ZM151.6 444.1L147.2 462.0L146.5 461.8L151.3 444.0ZM146.0 466.4L143.8 475.3L142.9 475.1L145.3 466.2ZM142.7 479.8L136.1 506.6L134.6 506.2L141.7 479.6ZM135.0 511.1L126.1 546.8L123.8 546.2L133.4 510.6ZM123.9 555.7L121.7 564.6L119.0 563.9L121.4 555.1ZM120.6 569.1L119.5 573.6L116.6 572.8L117.8 568.4ZM150.2 448.5L143.1 475.1L142.2 474.9L149.8 448.4ZM138.3 492.9L136.0 501.8L134.5 501.4L137.1 492.6ZM133.6 510.7L131.2 519.6L129.4 519.1L132.0 510.3ZM127.7 532.9L125.3 541.8L123.0 541.2L125.6 532.4ZM121.7 555.2L119.4 564.0L116.7 563.3L119.2 554.5ZM118.2 568.5L117.0 572.9L114.1 572.1L115.4 567.7ZM142.3 474.9L133.5 505.9L131.9 505.5L141.4 474.7ZM132.2 510.3L130.9 514.7L129.2 514.2L130.6 509.8ZM127.1 528.0L123.4 541.3L121.1 540.6L125.2 527.4ZM120.8 550.1L118.3 559.0L115.7 558.2L118.4 549.4ZM141.5 474.7L138.8 483.5L137.8 483.2L140.6 474.4ZM136.2 492.3L129.5 514.3L127.8 513.8L134.9 491.9ZM125.4 527.5L121.4 540.7L119.2 540.0L123.5 526.9ZM116.1 558.3L114.7 562.7L112.1 561.9L113.5 557.5ZM149.2 448.2L142.2 470.1L141.4 469.8L148.9 448.1ZM135.1 492.0L132.3 500.7L130.8 500.3L133.8 491.6ZM130.8 505.1L128.0 513.9L126.3 513.3L129.3 504.6ZM112.4 562.0L111.0 566.4L108.3 565.5L109.8 561.1ZM109.6 570.8L106.8 579.5L103.8 578.5L106.8 569.8ZM103.9 588.3L102.5 592.6L99.3 591.5L100.8 587.2ZM148.9 448.1L144.5 461.2L143.8 460.9L148.6 448.0ZM143.0 465.5L140.0 474.2L139.1 473.9L142.3 465.3ZM132.5 496.0L126.6 513.4L124.9 512.8L131.2 495.5ZM110.2 561.2L108.7 565.6L105.9 564.6L107.5 560.3ZM107.2 569.9L105.7 574.3L102.8 573.3L104.4 569.0ZM104.2 578.7L102.7 583.0L99.6 581.9L101.2 577.6ZM139.2 473.9L136.1 482.6L135.0 482.2L138.4 473.6ZM133.0 491.2L126.7 508.5L125.1 508.0L131.7 490.8ZM120.4 525.8L118.9 530.2L116.8 529.4L118.5 525.1ZM117.3 534.5L112.6 547.5L110.2 546.6L115.2 533.7ZM107.9 560.4L106.3 564.8L103.6 563.8L105.3 559.5ZM104.7 569.1L103.2 573.4L100.3 572.3L102.0 568.0ZM101.6 577.7L100.0 582.1L97.0 580.9L98.6 576.6ZM146.7 452.2L145.0 456.5L144.5 456.3L146.3 452.0ZM140.1 469.4L135.2 482.3L134.2 481.9L139.3 469.1ZM131.9 490.9L125.3 508.0L123.8 507.4L130.7 490.4ZM105.6 559.6L104.0 563.9L101.3 562.8L103.0 558.6ZM148.0 447.8L146.3 452.0L145.9 451.9L147.7 447.6ZM144.6 456.3L141.2 464.8L140.5 464.6L144.1 456.1ZM137.7 473.4L136.0 477.6L135.1 477.2L136.9 473.0ZM130.9 490.4L124.0 507.5L122.4 506.9L129.7 489.9ZM117.1 524.6L115.4 528.9L113.4 528.0L115.2 523.8ZM103.4 558.7L99.9 567.3L97.2 566.1L100.8 557.7ZM137.0 473.1L133.4 481.5L132.4 481.1L136.1 472.7ZM131.6 485.8L122.7 507.0L121.1 506.3L130.5 485.3ZM117.3 519.7L115.5 523.9L113.6 523.1L115.5 518.9ZM101.2 557.8L97.6 566.3L94.8 565.1L98.6 556.7ZM95.8 570.5L94.0 574.8L91.1 573.5L93.0 569.3ZM141.8 460.1L140.0 464.3L139.3 464.0L141.3 459.9ZM136.2 472.7L132.5 481.2L131.5 480.7L135.4 472.4ZM128.8 489.6L121.3 506.4L119.8 505.7L127.6 489.0ZM115.7 519.0L112.0 527.4L110.1 526.5L114.0 518.2ZM108.3 535.8L106.4 540.0L104.2 539.0L106.2 534.9ZM102.7 548.4L95.2 565.3L92.5 564.0L100.3 547.4ZM93.4 569.5L91.5 573.7L88.6 572.4L90.6 568.2ZM145.2 451.6L129.7 484.9L128.6 484.4L144.8 451.4ZM125.8 493.3L120.0 505.8L118.5 505.1L124.6 492.7ZM116.1 514.1L112.3 522.5L110.4 521.6L114.5 513.3ZM106.4 535.0L104.5 539.2L102.3 538.1L104.3 534.0ZM102.6 543.3L96.8 555.9L94.2 554.6L100.3 542.3ZM94.8 560.0L87.1 576.7L84.1 575.3L92.2 558.8ZM148.9 443.1L136.8 467.9L136.1 467.6L148.6 443.0ZM134.8 472.1L132.8 476.2L131.9 475.8L134.0 471.7ZM126.7 488.6L118.7 505.2L117.2 504.4L125.6 488.0ZM114.7 513.4L106.6 530.0L104.6 529.0L113.0 512.6ZM98.6 546.5L94.6 554.8L92.1 553.6L96.3 545.4ZM88.5 567.2L84.5 575.5L81.6 574.0L85.8 565.9ZM146.6 447.1L144.5 451.2L144.1 451.0L146.2 446.9ZM142.4 455.3L136.2 467.6L135.4 467.2L141.9 455.1ZM134.1 471.7L129.9 479.9L128.9 479.4L133.2 471.3ZM125.7 488.1L117.4 504.5L115.9 503.8L124.6 487.5ZM146.3 447.0L144.1 451.0L143.7 450.8L146.0 446.8ZM139.8 459.2L129.1 479.5L128.1 478.9L139.2 458.8ZM122.6 491.7L116.1 503.9L114.7 503.1L121.4 491.0ZM109.7 516.1L94.6 544.5L92.3 543.3L107.9 515.1ZM92.4 548.6L86.0 560.8L83.4 559.3L90.1 547.3ZM143.8 450.8L141.6 454.9L141.1 454.6L143.4 450.6ZM139.3 458.9L114.9 503.2L113.4 502.3L138.8 458.6ZM108.2 515.3L103.7 523.3L101.9 522.3L106.5 514.3ZM94.8 539.4L85.9 555.5L83.4 554.1L92.6 538.2ZM148.0 442.7L132.0 470.6L131.2 470.1L147.8 442.5ZM122.8 486.5L113.6 502.5L112.2 501.6L121.7 485.9ZM106.7 514.4L104.4 518.4L102.7 517.4L105.0 513.4ZM145.4 446.5L112.4 501.7L110.9 500.9L145.1 446.3ZM102.9 517.5L100.5 521.5L98.7 520.3L101.2 516.4ZM93.4 533.3L86.4 545.1L84.1 543.7L91.4 532.0ZM142.7 450.2L140.3 454.1L139.8 453.8L142.3 450.0ZM137.9 458.0L111.1 501.0L109.7 500.1L137.3 457.7ZM101.4 516.6L99.0 520.5L97.2 519.4L99.7 515.5ZM91.7 532.2L84.4 543.9L82.1 542.5L89.6 530.9ZM144.9 446.1L127.4 473.2L126.5 472.6L144.6 445.9ZM119.9 484.8L109.9 500.2L108.5 499.3L118.8 484.0ZM89.9 531.1L84.9 538.8L82.7 537.4L87.9 529.8ZM147.2 442.2L126.7 472.7L125.8 472.1L147.0 442.0ZM121.5 480.3L108.7 499.4L107.3 498.5L120.5 479.6ZM98.4 514.7L95.9 518.5L94.1 517.3L96.7 513.5ZM90.7 526.1L85.6 533.8L83.5 532.3L88.8 524.8ZM147.0 442.0L131.2 464.6L130.5 464.2L146.8 441.9ZM118.0 483.5L107.5 498.6L106.1 497.6L117.0 482.7ZM97.0 513.7L94.3 517.5L92.6 516.2L95.3 512.5ZM86.4 528.8L83.8 532.5L81.8 531.1L84.5 527.4ZM146.8 441.9L127.9 468.0L127.2 467.4L146.6 441.7ZM119.8 479.1L106.3 497.8L105.0 496.8L118.8 478.4ZM95.5 512.7L84.7 527.6L82.8 526.1L93.9 511.4ZM146.6 441.7L143.8 445.4L143.6 445.2L146.4 441.6ZM135.6 456.4L116.2 482.2L115.2 481.4L135.0 456.0ZM94.1 511.6L88.6 519.0L86.8 517.6L92.5 510.4ZM146.4 441.6L143.6 445.2L143.3 445.0L146.2 441.4ZM140.8 448.8L115.3 481.5L114.3 480.7L140.4 448.6ZM92.7 510.5L84.2 521.4L82.4 520.0L91.1 509.3ZM140.5 448.6L117.3 477.2L116.4 476.5L140.1 448.3ZM143.1 444.8L140.1 448.3L139.8 448.0L142.8 444.6ZM137.2 451.9L125.4 466.0L124.7 465.4L136.8 451.5ZM122.4 469.5L116.5 476.6L115.6 475.8L121.7 468.8ZM136.8 451.6L118.7 472.4L117.9 471.7L136.4 451.2ZM142.6 444.4L124.2 464.9L123.5 464.3L142.3 444.1ZM121.1 468.4L118.0 471.8L117.2 471.0L120.3 467.7ZM145.5 440.8L136.1 450.9L135.7 450.5L145.3 440.6ZM133.0 454.3L117.3 471.1L116.5 470.4L132.5 453.8ZM104.8 484.6L101.6 488.0L100.5 486.9L103.7 483.6ZM145.3 440.6L129.4 457.2L128.8 456.7L145.1 440.4ZM126.2 460.5L116.6 470.5L115.8 469.7L125.6 459.9ZM113.4 473.8L107.0 480.4L106.0 479.4L112.6 472.9ZM103.8 483.7L97.5 490.3L96.3 489.2L102.8 482.7ZM145.2 440.5L115.9 469.8L115.1 469.0L145.0 440.3ZM106.2 479.6L99.7 486.1L98.6 484.9L105.2 478.6ZM141.7 443.5L138.4 446.7L138.1 446.4L141.4 443.2ZM135.1 449.9L115.2 469.1L114.5 468.3L134.7 449.5ZM105.3 478.7L95.4 488.3L94.3 487.1L104.4 477.7ZM141.5 443.3L114.6 468.4L113.8 467.6L141.2 443.0ZM101.1 481.0L97.8 484.1L96.7 482.9L100.1 479.9ZM144.7 439.9L124.2 458.4L123.6 457.8L144.5 439.7ZM120.8 461.5L113.9 467.7L113.2 466.9L120.1 460.8ZM110.5 470.8L93.4 486.2L92.3 484.9L109.7 469.9ZM144.5 439.8L116.8 463.9L116.1 463.2L144.3 439.6ZM106.4 473.0L96.0 482.1L94.9 480.9L105.5 472.0ZM144.3 439.6L126.7 454.4L126.3 453.8L144.2 439.4ZM123.2 457.4L91.5 484.0L90.5 482.7L122.7 456.7ZM140.6 442.3L137.0 445.2L136.8 444.8L140.4 442.0ZM119.2 459.7L115.6 462.6L115.0 461.8L118.6 459.0ZM144.0 439.2L111.4 464.7L110.8 463.9L143.9 439.0ZM107.8 467.6L89.7 481.8L88.7 480.4L107.1 466.6ZM143.9 439.0L85.2 483.4L84.1 482.0L143.7 438.8ZM132.6 447.0L125.2 452.4L124.7 451.8L132.3 446.5ZM121.4 455.1L117.7 457.8L117.2 457.0L121.0 454.4ZM106.6 465.9L88.0 479.5L87.0 478.1L105.9 464.9ZM139.8 441.3L117.3 457.1L116.7 456.4L139.6 441.0ZM109.7 462.4L83.4 480.9L82.4 479.5L109.1 461.5ZM143.5 438.4L86.3 477.1L85.4 475.7L143.3 438.2ZM143.3 438.2L104.8 463.3L104.1 462.3L143.2 438.0ZM100.9 465.9L85.5 475.9L84.6 474.5L100.2 464.8ZM143.2 438.0L135.4 442.9L135.2 442.5L143.1 437.8ZM131.5 445.4L84.7 474.7L83.9 473.2L131.2 444.9ZM135.2 442.6L107.6 459.2L107.1 458.2L135.0 442.2ZM103.7 461.6L84.0 473.4L83.1 472.0L103.1 460.5ZM143.0 437.6L83.3 472.2L82.4 470.7L142.8 437.4ZM134.8 441.9L82.5 470.9L81.7 469.5L134.6 441.5ZM142.7 437.2L114.3 452.4L113.9 451.5L142.6 436.9ZM110.3 454.5L85.9 467.5L85.2 466.1L109.8 453.6ZM142.6 437.0L85.3 466.3L84.6 464.9L142.5 436.7ZM142.5 436.8L113.6 450.9L113.2 450.1L142.4 436.5ZM109.5 452.9L84.7 465.1L84.0 463.6L109.0 452.0ZM142.4 436.5L104.9 454.1L104.4 453.1L142.3 436.3ZM96.6 458.0L84.1 463.8L83.4 462.4L96.0 456.8ZM142.3 436.3L133.9 440.1L133.7 439.7L142.2 436.1ZM121.3 445.7L83.5 462.6L82.9 461.2L121.0 445.0ZM138.0 437.9L108.4 450.5L108.0 449.6L137.8 437.6ZM142.1 435.9L99.5 453.2L99.0 452.1L142.0 435.6ZM142.0 435.7L124.9 442.3L124.6 441.7L141.9 435.4ZM112.0 447.2L99.1 452.2L98.7 451.1L111.7 446.4ZM141.9 435.4L137.6 437.0L137.5 436.7L141.8 435.2ZM107.4 448.1L94.4 452.8L94.0 451.6L107.0 447.1ZM107.1 447.2L94.0 451.8L93.6 450.5L106.8 446.3ZM141.8 435.0L137.4 436.4L137.3 436.1L141.7 434.7ZM133.0 437.8L128.7 439.3L128.5 438.7L132.9 437.4ZM111.2 445.0L98.1 449.3L97.7 448.1L110.9 444.1ZM102.1 446.9L88.9 451.0L88.5 449.6L101.8 445.8ZM93.0 448.5L84.2 451.1L83.8 449.6L92.7 447.3ZM146.0 433.1L141.6 434.3L141.5 434.0L146.0 432.9ZM92.7 447.5L83.8 449.8L83.5 448.4L92.4 446.2ZM145.9 432.8L141.5 433.8L141.4 433.6L145.9 432.6ZM145.9 432.5L141.4 433.4L141.3 433.1L145.8 432.3ZM145.7 430.4L141.1 430.2L141.1 430.0L145.7 430.2ZM109.0 427.6L95.2 426.6L95.3 425.4L109.1 426.6ZM104.5 426.4L99.9 426.0L100.0 424.9L104.6 425.3ZM104.6 425.5L86.3 423.6L86.4 422.2L104.7 424.5ZM95.5 423.5L91.0 422.9L91.1 421.6L95.7 422.3ZM100.7 420.2L91.7 418.5L91.9 417.2L100.9 419.1ZM109.9 421.2L87.4 416.4L87.7 415.1L110.1 420.3ZM105.6 419.4L87.6 415.3L88.0 413.9L105.8 418.4ZM110.5 418.9L101.6 416.5L101.9 415.4L110.7 418.0ZM97.1 415.3L92.7 414.1L93.0 412.9L97.4 414.1ZM110.7 418.1L106.2 416.8L106.5 415.8L110.9 417.2ZM101.8 415.6L88.5 411.8L88.9 410.4L102.1 414.5ZM110.9 417.3L102.1 414.6L102.4 413.6L111.2 416.4ZM97.7 413.3L88.9 410.6L89.3 409.3L98.1 412.1ZM102.4 413.7L98.0 412.3L98.4 411.2L102.7 412.7ZM111.4 415.8L102.7 412.8L103.1 411.7L111.7 414.9ZM98.3 411.3L94.0 409.8L94.4 408.6L98.7 410.2ZM111.7 415.0L107.3 413.5L107.7 412.5L112.0 414.2ZM103.0 411.9L98.7 410.3L99.1 409.2L103.4 410.8ZM112.2 413.5L95.2 406.7L95.7 405.5L112.6 412.7ZM116.8 414.6L95.6 405.6L96.1 404.4L117.1 413.8ZM109.0 409.4L104.8 407.4L105.3 406.4L109.5 408.5ZM113.5 410.6L97.0 402.5L97.6 401.4L113.9 409.8ZM109.8 407.8L105.7 405.7L106.2 404.7L110.3 406.9ZM146.8 426.4L142.7 424.2L142.8 424.0L146.9 426.2ZM118.3 411.3L93.9 398.4L94.6 397.2L118.7 410.6ZM106.6 404.0L98.5 399.6L99.2 398.4L107.1 403.0ZM115.4 407.1L111.5 404.7L112.0 403.8L115.9 406.3ZM107.5 402.3L99.7 397.6L100.3 396.5L108.1 401.4ZM115.9 406.4L96.3 394.2L97.1 393.0L116.4 405.6ZM151.1 428.1L147.3 425.6L147.4 425.4L151.1 428.1ZM116.7 405.0L109.1 399.9L109.7 399.0L117.3 404.3ZM105.3 397.3L97.6 392.2L98.4 391.0L106.0 396.3ZM109.6 399.1L98.3 391.2L99.1 390.1L110.3 398.2ZM104.8 390.2L101.2 387.4L102.1 386.3L105.6 389.2ZM120.7 400.0L117.2 396.9L117.9 396.1L121.3 399.3ZM99.4 369.2L96.3 365.8L97.7 364.7L100.7 368.1ZM103.5 371.8L97.5 364.8L98.8 363.7L104.7 370.7ZM101.6 367.3L98.6 363.8L100.0 362.7L102.9 366.3ZM102.7 366.4L99.8 362.9L101.2 361.8L104.0 365.4ZM107.8 368.3L102.2 361.0L103.6 359.9L109.0 367.4ZM96.8 326.2L94.5 322.2L96.7 321.0L98.9 325.0ZM111.6 349.5L107.3 341.4L109.1 340.5L113.2 348.7ZM100.8 329.2L96.4 321.1L98.7 320.0L102.8 328.2ZM131.9 385.6L121.4 365.2L122.7 364.5L132.8 385.2ZM115.1 352.9L106.7 336.5L108.7 335.5L116.7 352.1ZM104.6 332.4L96.3 316.0L98.6 314.9L106.6 331.4ZM130.6 381.1L128.6 377.0L129.7 376.5L131.6 380.6ZM124.6 368.7L118.5 356.3L120.0 355.6L125.8 368.1ZM116.5 352.2L102.3 323.3L104.5 322.2L118.1 351.4ZM100.3 319.1L98.3 315.0L100.6 313.9L102.6 318.1ZM135.4 389.0L106.2 326.5L108.3 325.6L136.2 388.7ZM102.3 318.2L96.4 305.7L98.9 304.6L104.5 317.2ZM132.4 380.3L130.5 376.1L131.6 375.6L133.4 379.9ZM128.6 371.9L102.3 313.1L104.7 312.1L129.8 371.4ZM136.9 388.4L135.1 384.2L136.0 383.8L137.7 388.0ZM133.3 379.9L104.4 312.2L106.8 311.2L134.3 379.5ZM135.9 383.8L122.0 349.7L123.7 349.1L136.8 383.4ZM120.3 345.4L106.5 311.3L108.9 310.4L122.1 344.8ZM138.4 387.8L108.6 310.5L111.0 309.6L139.2 387.5ZM135.9 378.9L124.9 348.6L126.6 348.0L137.0 378.5ZM121.7 340.0L110.7 309.7L113.1 308.9L123.6 339.3ZM138.4 382.9L127.8 352.4L129.4 351.9L139.3 382.6ZM123.3 339.4L112.8 309.0L115.3 308.1L125.2 338.8ZM139.2 382.6L132.1 360.7L133.5 360.3L140.2 382.3ZM124.9 338.9L114.9 308.3L117.4 307.5L126.8 338.3ZM141.4 386.7L133.3 360.3L134.7 359.9L142.3 386.5ZM126.5 338.4L115.7 303.2L118.3 302.4L128.4 337.8ZM140.9 382.1L137.1 368.8L138.3 368.5L141.9 381.8ZM128.1 337.9L118.0 302.5L120.6 301.8L130.0 337.4ZM141.7 381.8L140.5 377.4L141.6 377.1L142.7 381.6ZM127.4 328.5L120.2 301.9L122.8 301.2L129.4 328.0ZM142.6 381.6L140.4 372.7L141.5 372.4L143.6 381.4ZM129.2 328.1L122.4 301.3L125.1 300.7L131.2 327.6ZM142.4 376.9L141.4 372.5L142.5 372.2L143.5 376.7ZM131.0 327.6L127.8 314.2L130.2 313.7L133.0 327.2ZM126.8 309.7L125.8 305.2L128.3 304.7L129.2 309.2ZM145.3 385.7L142.4 372.2L143.6 372.0L146.2 385.5ZM132.8 327.2L129.9 313.7L132.2 313.3L134.9 326.8ZM128.9 309.3L127.9 304.8L130.5 304.2L131.4 308.7ZM145.2 381.0L143.4 372.0L144.6 371.8L146.2 380.9ZM134.6 326.9L132.8 317.8L135.1 317.4L136.7 326.5ZM146.0 380.9L143.6 367.3L144.9 367.1L147.1 380.7ZM136.4 326.5L134.8 317.5L137.1 317.1L138.5 326.2ZM146.9 380.7L145.5 371.6L146.7 371.5L147.9 380.6ZM148.4 385.2L146.5 371.5L147.7 371.3L149.4 385.0ZM148.7 380.5L147.0 366.8L148.3 366.6L149.7 380.4ZM150.0 385.0L149.5 380.4L150.6 380.3L151.0 384.9ZM149.1 375.8L147.6 362.1L149.0 362.0L150.2 375.7ZM150.4 380.3L149.2 366.6L150.5 366.5L151.4 380.2ZM151.3 380.2L150.0 361.9L151.4 361.8L152.3 380.2ZM152.4 384.8L152.2 380.2L153.2 380.1L153.4 384.7ZM151.4 366.4L151.2 361.8L152.6 361.7L152.7 366.3ZM153.2 384.7L153.1 380.1L154.1 380.1L154.2 384.7ZM152.6 366.3L152.2 357.1L153.7 357.1L153.9 366.3ZM154.0 384.7L153.9 380.1L155.0 380.1L155.0 384.7ZM153.8 370.9L153.5 357.1L155.0 357.1L155.0 370.9Z"/>
<path fill="#89707B" d="M154.8 375.5L154.8 361.7L156.2 361.7L155.9 375.5ZM155.7 380.1L155.9 366.3L157.2 366.3L156.7 380.1ZM156.6 380.1L157.2 361.7L158.6 361.8L157.6 380.2ZM157.5 380.2L158.4 361.8L159.8 361.9L158.5 380.2ZM158.7 375.6L159.0 371.0L160.2 371.1L159.8 375.7ZM159.2 380.3L160.4 366.5L161.7 366.7L160.3 380.4ZM166.0 367.3L166.8 362.7L168.2 363.0L167.3 367.5ZM168.2 367.7L169.2 363.2L170.5 363.5L169.5 368.0ZM169.3 367.9L170.3 363.4L171.7 363.8L170.6 368.2ZM172.6 368.8L173.8 364.3L175.2 364.7L173.8 369.1ZM174.7 369.4L176.1 365.0L177.5 365.5L176.0 369.8ZM173.7 378.8L178.4 365.8L179.7 366.3L174.8 379.2ZM174.6 379.1L179.5 366.2L180.8 366.8L175.6 379.5ZM174.6 384.1L181.8 367.1L183.1 367.7L175.5 384.5ZM177.3 380.2L179.1 376.0L180.2 376.5L178.3 380.7ZM181.0 371.8L182.9 367.6L184.1 368.2L182.2 372.4ZM178.2 380.6L180.1 376.5L181.2 377.0L179.2 381.1ZM180.1 386.8L182.4 382.9L183.4 383.4L181.0 387.4ZM181.7 387.8L186.5 379.9L187.5 380.6L182.5 388.3ZM182.4 388.2L184.9 384.4L185.8 385.0L183.3 388.8ZM186.0 390.8L188.8 387.2L189.7 387.9L186.8 391.4ZM187.4 391.9L190.3 388.4L191.2 389.1L188.1 392.6ZM185.0 395.9L191.1 389.0L191.9 389.7L185.7 396.6ZM194.1 385.5L200.1 378.6L201.1 379.5L195.0 386.3ZM188.7 393.0L194.9 386.2L195.7 387.0L189.5 393.7ZM201.0 379.4L204.1 375.9L205.2 376.9L202.0 380.3ZM180.0 403.8L186.2 397.0L186.9 397.7L180.5 404.3ZM189.4 393.6L195.6 386.9L196.5 387.7L190.1 394.4ZM201.9 380.2L205.0 376.8L206.1 377.8L202.9 381.1ZM190.0 394.3L196.4 387.6L197.2 388.5L190.7 395.0ZM202.8 381.0L206.0 377.7L207.0 378.7L203.8 382.0ZM187.4 398.1L193.9 391.6L194.7 392.4L188.0 398.8ZM161.5 424.3L171.4 414.7L171.7 415.0L161.6 424.4ZM178.0 408.3L194.6 392.3L195.3 393.1L178.5 408.8ZM168.3 418.1L171.7 415.0L172.0 415.3L168.6 418.4ZM185.1 402.4L195.2 393.0L196.0 393.8L185.7 403.0ZM161.7 424.5L172.0 415.3L172.3 415.6L161.9 424.7ZM175.4 412.2L182.2 406.0L182.7 406.6L175.8 412.6ZM185.6 403.0L199.3 390.6L200.1 391.5L186.2 403.6ZM158.4 427.7L179.2 409.5L179.6 410.0L158.4 427.7ZM182.6 406.5L200.0 391.4L200.8 392.3L183.1 407.1ZM165.5 421.8L172.5 415.9L172.8 416.3L165.6 422.0ZM158.5 427.8L176.3 413.3L176.7 413.7L158.5 427.9ZM183.5 407.5L201.3 393.0L202.1 393.9L183.9 408.1ZM204.9 390.1L208.5 387.2L209.3 388.3L205.7 391.1ZM162.1 425.0L180.2 410.8L180.6 411.4L162.3 425.2ZM191.1 402.3L205.6 391.0L206.4 392.0L191.7 403.1ZM165.9 422.4L173.2 416.8L173.5 417.2L166.1 422.6ZM176.9 414.1L180.6 411.3L181.0 411.8L177.3 414.5ZM187.9 405.7L195.3 400.2L195.9 401.0L188.4 406.4ZM198.9 397.4L206.3 391.9L207.1 392.9L199.6 398.3ZM162.3 425.3L184.6 409.0L185.1 409.6L162.4 425.4ZM188.4 406.3L203.2 395.5L203.9 396.5L188.8 407.0ZM158.7 428.1L177.5 414.8L177.8 415.3L158.7 428.1ZM188.8 406.9L211.4 391.0L212.2 392.2L189.3 407.6ZM173.9 417.8L177.8 415.2L178.1 415.7L174.2 418.2ZM193.0 404.9L204.4 397.2L205.1 398.2L193.5 405.7ZM158.8 428.2L162.6 425.7L162.7 425.8L158.8 428.3ZM166.5 423.2L178.0 415.6L178.3 416.1L166.6 423.4ZM193.4 405.6L212.7 393.0L213.5 394.2L193.9 406.4ZM166.6 423.4L182.2 413.6L182.5 414.2L166.7 423.6ZM186.1 411.2L190.0 408.7L190.4 409.4L186.5 411.8ZM193.9 406.3L213.4 394.1L214.1 395.2L194.4 407.1ZM198.2 404.6L202.2 402.2L202.7 403.2L198.8 405.5ZM158.9 428.4L170.8 421.5L171.0 421.8L158.9 428.5ZM178.8 416.9L182.8 414.6L183.1 415.1L179.1 417.4ZM194.7 407.6L202.7 403.0L203.2 404.0L195.2 408.5ZM162.9 426.2L167.0 424.0L167.1 424.2L163.0 426.4ZM171.0 421.8L183.0 415.0L183.4 415.6L171.2 422.1ZM195.1 408.3L211.2 399.4L211.8 400.5L195.5 409.2ZM195.5 409.0L203.6 404.7L204.1 405.7L195.9 409.9ZM167.2 424.4L171.3 422.3L171.4 422.7L167.3 424.7ZM191.8 411.9L204.0 405.6L204.5 406.6L192.1 412.6ZM163.2 426.7L167.3 424.6L167.4 424.9L163.2 426.8ZM171.4 422.6L183.8 416.5L184.1 417.1L171.6 422.9ZM196.2 410.5L204.5 406.4L205.0 407.4L196.6 411.3ZM196.6 411.2L200.7 409.3L201.2 410.2L196.9 412.0ZM163.3 426.9L188.5 415.7L188.8 416.4L163.4 427.1ZM192.7 413.8L209.5 406.3L210.0 407.4L193.0 414.6ZM163.4 427.1L167.6 425.3L167.7 425.5L163.4 427.3ZM184.5 418.1L193.0 414.5L193.3 415.2L184.8 418.7ZM197.2 412.7L205.7 409.1L206.1 410.1L197.6 413.5ZM163.4 427.2L172.0 423.8L172.1 424.1L163.5 427.4ZM176.2 422.1L206.1 410.0L206.5 411.0L176.4 422.5ZM184.9 419.1L189.2 417.5L189.5 418.2L185.2 419.7ZM197.8 414.2L202.1 412.5L202.5 413.5L198.1 415.0ZM159.2 429.1L198.1 414.9L198.4 415.8L159.3 429.2ZM202.4 413.3L211.1 410.2L211.5 411.3L202.8 414.3ZM159.2 429.2L211.4 411.2L211.8 412.3L159.3 429.3ZM176.8 423.6L185.5 420.7L185.7 421.3L176.9 424.0ZM198.6 416.4L203.0 415.0L203.3 416.0L198.9 417.3ZM163.7 428.0L168.1 426.6L168.2 426.9L163.7 428.2ZM172.5 425.3L194.5 418.5L194.7 419.3L172.6 425.7ZM198.9 417.2L207.7 414.5L208.0 415.6L199.1 418.1ZM181.4 423.1L190.3 420.5L190.5 421.2L181.6 423.6ZM168.2 427.1L177.1 424.7L177.2 425.2L168.3 427.4ZM181.5 423.5L194.9 419.9L195.1 420.7L181.7 424.1ZM159.4 429.6L177.2 425.1L177.3 425.6L159.4 429.7ZM186.1 422.9L195.1 420.6L195.3 421.4L186.3 423.5ZM163.9 428.6L172.8 426.5L172.9 426.9L163.9 428.8ZM181.8 424.5L199.7 420.3L199.9 421.2L181.9 425.0ZM163.9 428.8L195.4 422.0L195.6 422.9L163.9 429.0ZM159.4 429.8L173.0 427.2L173.0 427.5L159.4 429.9ZM182.0 425.4L200.0 421.9L200.2 422.8L182.1 425.9ZM182.1 425.9L186.6 425.1L186.7 425.7L182.2 426.4ZM159.4 430.0L177.6 427.1L177.7 427.5L159.5 430.1ZM182.2 426.3L195.8 424.2L195.9 425.0L182.2 426.9ZM164.0 429.4L173.1 428.1L173.2 428.5L164.0 429.6ZM191.3 425.5L195.9 424.9L196.0 425.7L191.4 426.3ZM159.5 430.1L177.7 427.9L177.8 428.3L159.5 430.2ZM182.3 427.3L200.5 425.0L200.7 426.0L182.4 427.9ZM159.5 430.2L200.6 425.8L200.7 426.8L159.5 430.3ZM164.1 429.9L173.2 429.1L173.3 429.4L164.1 430.1ZM191.6 427.4L196.1 427.0L196.2 427.9L191.6 428.2ZM159.5 430.4L177.8 429.1L177.9 429.5L159.5 430.5ZM182.4 428.7L187.0 428.4L187.1 429.1L182.5 429.3ZM191.6 428.1L200.8 427.4L200.8 428.4L191.7 428.8ZM159.5 430.5L177.9 429.5L177.9 429.9L159.5 430.5ZM182.5 429.2L191.6 428.7L191.7 429.5L182.5 429.8ZM196.2 428.5L200.8 428.2L200.9 429.2L196.3 429.3ZM219.2 427.2L233.0 426.5L233.1 428.1L219.3 428.5ZM164.1 430.4L168.7 430.2L168.7 430.5L164.1 430.6ZM164.1 430.5L168.7 430.4L168.7 430.7L164.1 430.7ZM219.3 429.5L228.5 429.3L228.5 430.8L219.3 430.8ZM164.1 430.7L168.7 430.7L168.7 431.0L164.1 430.9ZM214.7 430.6L219.3 430.6L219.3 431.9L214.7 431.8ZM164.1 430.8L168.7 430.9L168.7 431.2L164.1 431.0ZM219.3 431.7L223.9 431.8L223.9 433.2L219.3 433.0ZM159.5 430.9L177.9 431.5L177.9 431.9L159.5 430.9ZM191.7 431.9L237.7 433.5L237.6 435.1L191.6 432.7ZM164.1 431.2L168.7 431.4L168.7 431.7L164.1 431.4ZM219.2 434.0L233.0 434.7L232.9 436.3L219.1 435.3ZM159.5 431.0L173.3 432.0L173.2 432.3L159.5 431.1ZM210.0 434.5L214.6 434.8L214.5 436.0L209.9 435.6ZM219.1 435.1L232.9 436.0L232.8 437.6L219.0 436.4ZM159.5 431.1L173.2 432.3L173.2 432.6L159.5 431.2ZM214.5 435.8L232.8 437.4L232.7 439.0L214.4 437.0ZM159.5 431.2L173.2 432.6L173.2 433.0L159.5 431.3ZM214.4 436.9L232.7 438.8L232.5 440.3L214.2 438.1ZM164.0 431.8L168.6 432.4L168.6 432.6L164.0 432.0ZM214.3 437.9L228.0 439.6L227.8 441.0L214.1 439.1ZM159.5 431.3L186.8 435.1L186.7 435.8L159.4 431.4ZM191.3 435.8L195.9 436.4L195.8 437.2L191.2 436.5ZM200.5 437.0L236.9 442.1L236.7 443.8L200.3 438.0ZM164.0 432.1L168.5 432.8L168.5 433.1L164.0 432.3ZM227.6 442.1L232.2 442.8L231.9 444.4L227.4 443.6ZM164.0 432.3L173.0 433.9L173.0 434.2L163.9 432.5ZM213.8 441.0L231.9 444.2L231.6 445.7L213.6 442.2ZM163.9 432.4L173.0 434.2L172.9 434.6L163.9 432.6ZM213.6 442.0L227.2 444.6L226.9 446.1L213.4 443.2ZM231.7 445.5L236.2 446.4L235.9 448.0L231.4 447.1ZM163.9 432.6L172.9 434.5L172.8 434.9L163.9 432.8ZM208.9 442.1L213.4 443.1L213.1 444.2L208.7 443.2ZM226.9 445.9L231.4 446.9L231.1 448.4L226.6 447.4ZM168.4 433.8L172.8 434.8L172.7 435.2L168.3 434.1ZM163.8 432.9L181.7 437.3L181.5 437.9L163.8 433.1ZM212.9 445.1L226.3 448.4L226.0 449.8L212.6 446.3ZM253.1 455.0L257.6 456.2L257.1 458.2L252.6 457.0ZM163.8 433.1L172.7 435.4L172.6 435.8L163.7 433.2ZM212.7 446.1L221.6 448.5L221.2 449.8L212.4 447.3ZM163.7 433.2L177.0 437.0L176.9 437.5L163.7 433.4ZM203.6 444.6L221.3 449.6L220.9 451.0L203.3 445.6ZM163.7 433.4L176.9 437.4L176.8 437.8L163.6 433.6ZM163.6 433.7L168.0 435.2L167.9 435.4L163.5 433.9ZM172.3 436.7L176.7 438.2L176.5 438.6L172.2 437.0ZM167.8 435.6L172.1 437.3L172.0 437.6L167.7 435.9ZM163.4 434.3L167.6 436.1L167.5 436.3L163.3 434.5ZM163.2 434.7L167.3 436.7L167.2 437.0L163.1 434.9ZM171.4 438.7L175.6 440.8L175.4 441.2L171.3 439.1ZM179.7 442.8L183.9 444.8L183.6 445.4L179.5 443.3ZM163.0 435.0L183.4 445.8L183.0 446.4L162.9 435.2ZM163.0 435.1L167.0 437.4L166.8 437.6L162.9 435.3ZM171.0 439.6L179.1 444.0L178.8 444.5L170.8 439.9ZM166.7 437.8L178.6 444.9L178.3 445.4L166.6 438.0ZM162.7 435.6L170.5 440.4L170.3 440.7L162.6 435.7ZM174.4 442.9L178.3 445.3L178.0 445.8L174.2 443.3ZM162.6 435.7L166.5 438.2L166.3 438.4L162.5 435.9ZM162.4 436.0L166.2 438.6L166.1 438.8L162.3 436.1ZM173.8 443.9L177.5 446.5L177.2 447.0L173.5 444.2ZM162.4 436.1L177.3 446.9L176.9 447.3L162.2 436.2ZM162.1 436.5L165.6 439.4L165.5 439.6L161.9 436.6ZM172.8 445.1L176.4 448.0L176.0 448.5L172.5 445.5ZM172.5 445.5L176.1 448.4L175.7 448.8L172.2 445.8ZM161.7 436.8L165.2 439.9L165.0 440.1L161.6 437.0ZM161.6 437.0L165.0 440.1L164.8 440.3L161.5 437.1ZM168.4 443.2L171.7 446.4L171.4 446.7L168.1 443.5ZM161.5 437.1L168.2 443.5L167.9 443.7L161.4 437.2ZM171.5 446.7L174.8 449.8L174.4 450.2L171.1 447.0ZM161.4 437.2L164.7 440.4L164.5 440.6L161.3 437.3ZM171.2 446.9L174.4 450.2L174.0 450.6L170.9 447.3ZM161.1 437.5L164.1 440.9L163.9 441.1L160.9 437.7ZM170.3 447.8L173.4 451.2L173.0 451.6L170.0 448.1ZM160.9 437.6L164.0 441.1L163.8 441.3L160.8 437.8ZM170.0 448.0L173.0 451.5L172.6 451.9L169.7 448.3ZM169.7 448.3L172.7 451.8L172.2 452.2L169.3 448.6ZM160.4 438.0L166.0 445.4L165.7 445.6L160.3 438.2ZM171.5 452.7L174.3 456.4L173.8 456.8L171.1 453.1ZM160.2 438.2L176.0 460.8L175.4 461.2L160.0 438.3ZM160.1 438.3L162.6 442.1L162.4 442.3L159.9 438.4ZM159.6 438.6L173.9 462.2L173.3 462.6L159.5 438.7ZM161.8 442.6L173.3 462.5L172.7 462.9L161.6 442.8ZM166.1 450.8L170.6 458.8L170.0 459.2L165.7 451.0ZM161.4 442.9L178.7 475.3L177.8 475.8L161.1 443.0ZM161.2 443.0L165.4 451.2L165.0 451.4L160.9 443.1ZM169.6 459.4L177.9 475.8L177.0 476.2L169.0 459.7ZM161.0 443.1L177.1 476.1L176.2 476.6L160.7 443.2ZM162.7 447.4L164.6 451.5L164.2 451.7L162.4 447.5ZM166.6 455.7L184.1 493.2L182.9 493.8L166.1 455.9ZM188.0 501.5L195.8 518.2L194.1 519.0L186.6 502.2ZM160.5 443.3L177.4 481.1L176.4 481.5L160.3 443.4ZM184.9 497.9L194.3 518.9L192.5 519.7L183.6 498.5ZM160.3 443.4L162.1 447.6L161.8 447.8L160.1 443.5ZM163.9 451.9L165.7 456.1L165.2 456.3L163.5 452.0ZM167.5 460.3L172.9 473.0L172.1 473.4L166.9 460.6ZM174.7 477.2L194.6 523.8L192.7 524.6L173.8 477.6ZM201.8 540.7L203.6 545.0L201.3 545.9L199.5 541.7ZM160.1 443.5L165.3 456.3L164.8 456.5L159.8 443.6ZM167.0 460.5L173.9 477.6L173.0 478.0L166.4 460.8ZM175.6 481.9L187.8 511.7L186.1 512.3L174.6 482.3ZM189.5 516.0L194.7 528.7L192.7 529.5L187.7 516.6ZM213.7 575.6L217.1 584.2L214.0 585.4L210.7 576.8ZM159.9 443.6L161.5 447.9L161.2 448.0L159.6 443.7ZM166.5 460.7L169.8 469.3L169.0 469.6L165.9 461.0ZM171.4 473.6L188.0 516.5L186.2 517.2L170.6 473.9ZM189.6 520.8L193.0 529.4L190.9 530.2L187.8 521.5ZM211.2 576.6L214.5 585.2L211.3 586.4L208.2 577.7ZM159.6 443.7L178.6 495.5L177.3 496.0L159.4 443.8ZM180.2 499.8L191.2 530.1L189.2 530.8L178.8 500.3ZM162.4 452.4L165.4 461.1L164.8 461.3L162.0 452.6ZM166.9 465.5L169.9 474.2L169.1 474.5L166.2 465.7ZM171.4 478.5L191.0 535.0L188.9 535.7L170.5 478.8ZM197.0 552.4L198.5 556.8L195.9 557.6L194.5 553.3ZM203.0 569.8L206.0 578.5L203.0 579.5L200.2 570.8ZM159.2 443.8L176.3 496.3L175.0 496.7L158.9 443.9ZM177.7 500.7L187.7 531.3L185.7 531.9L176.3 501.1ZM200.6 570.6L203.4 579.4L200.4 580.3L197.7 571.5ZM161.7 452.7L187.3 536.2L185.2 536.9L161.2 452.8ZM198.1 571.4L199.5 575.8L196.5 576.7L195.3 572.3ZM160.0 448.4L170.2 483.7L169.1 484.0L159.6 448.5ZM171.5 488.2L172.7 492.6L171.5 492.9L170.3 488.5ZM174.0 497.0L185.5 536.8L183.3 537.4L172.7 497.4ZM160.9 452.9L162.1 457.3L161.5 457.5L160.4 453.0ZM163.3 461.8L166.9 475.1L166.0 475.3L162.6 462.0ZM169.3 484.0L183.6 537.3L181.5 537.9L168.2 484.3ZM159.4 448.5L181.8 537.8L179.6 538.3L159.0 448.6ZM159.1 448.6L180.9 542.7L178.7 543.2L158.7 448.7ZM158.8 448.7L160.7 457.7L160.1 457.8L158.4 448.8ZM161.6 462.2L168.4 493.7L167.1 493.9L161.0 462.3ZM169.3 498.2L179.0 543.2L176.7 543.6L168.0 498.5ZM158.4 448.8L160.2 457.8L159.7 457.9L158.1 448.8ZM161.1 462.3L177.0 543.6L174.7 544.0L160.4 462.4ZM158.9 453.3L159.7 457.9L159.2 458.0L158.5 453.4ZM160.5 462.4L162.1 471.5L161.3 471.6L159.9 462.5ZM163.0 476.0L171.8 525.8L169.9 526.1L162.0 476.1ZM172.6 530.3L175.0 543.9L172.7 544.3L170.6 530.7ZM157.1 444.3L163.6 485.2L162.5 485.4L156.8 444.4ZM164.3 489.8L171.6 535.2L169.5 535.5L163.1 489.9ZM179.6 585.1L180.3 589.7L177.1 590.2L176.5 585.6ZM158.1 453.5L160.1 467.1L159.3 467.2L157.7 453.5ZM160.7 471.7L168.5 526.3L166.5 526.6L159.9 471.8ZM169.1 530.9L169.8 535.4L167.6 535.7L167.1 531.2ZM176.2 581.0L176.9 585.5L173.7 586.0L173.2 581.4ZM156.6 444.4L158.3 458.1L157.7 458.2L156.3 444.4ZM158.9 462.7L162.3 490.0L161.1 490.2L158.2 462.7ZM162.8 494.6L166.8 526.6L164.9 526.8L161.5 494.8ZM167.4 531.1L167.9 535.7L165.8 535.9L165.3 531.4ZM173.6 581.3L174.7 590.5L171.5 590.8L170.6 581.7ZM156.8 449.0L166.1 535.9L164.0 536.1L156.5 449.0ZM171.0 581.6L172.0 590.8L168.7 591.1L167.9 581.9ZM156.1 444.4L159.8 485.7L158.7 485.8L155.8 444.5ZM161.0 499.4L163.5 526.9L161.5 527.1L159.6 499.5ZM168.3 581.9L168.7 586.5L165.6 586.7L165.3 582.1ZM156.5 453.6L156.9 458.2L156.3 458.3L156.1 453.7ZM157.5 467.4L157.8 472.0L157.0 472.0L156.8 467.5ZM158.2 476.6L162.1 531.6L160.1 531.8L157.2 476.6ZM165.7 582.1L166.0 586.7L162.9 586.9L162.6 582.3ZM155.9 449.1L156.4 458.3L155.8 458.3L155.5 449.1ZM156.6 462.9L157.9 485.8L156.7 485.9L156.0 462.9ZM158.1 490.4L158.4 495.0L157.1 495.1L156.9 490.5ZM158.6 499.6L159.6 518.0L157.8 518.1L157.2 499.7ZM159.8 522.6L160.1 527.2L158.1 527.2L158.0 522.6ZM155.6 449.1L155.9 458.3L155.3 458.3L155.2 449.1ZM156.6 476.7L157.1 490.5L155.9 490.5L155.6 476.7ZM157.2 495.1L158.1 518.0L156.3 518.1L155.9 495.1ZM158.2 522.6L158.7 536.4L156.6 536.5L156.4 522.7ZM155.2 449.1L155.8 476.7L154.8 476.7L154.9 449.1ZM156.3 504.3L156.5 513.5L154.8 513.5L154.8 504.3ZM154.9 444.5L154.9 453.7L154.5 453.7L154.6 444.5ZM154.9 458.3L155.0 472.1L154.1 472.1L154.4 458.3ZM155.0 476.7L155.0 481.3L153.9 481.3L154.0 476.7ZM155.0 504.3L155.0 513.5L153.3 513.5L153.5 504.3ZM154.6 449.1L154.4 462.9L153.7 462.9L154.2 449.1ZM154.3 467.5L153.9 495.1L152.6 495.1L153.6 467.5ZM153.7 504.3L153.5 518.1L151.7 518.0L152.2 504.3ZM153.4 522.7L153.2 536.5L151.1 536.4L151.6 522.6ZM154.3 449.1L153.7 467.5L152.9 467.4L153.9 449.1ZM153.5 472.1L153.1 485.9L151.9 485.8L152.7 472.0ZM152.9 490.5L152.6 499.7L151.2 499.6L151.7 490.4ZM152.4 504.3L151.8 522.6L150.0 522.6L150.9 504.2ZM154.0 449.1L153.5 458.3L152.9 458.2L153.6 449.1ZM153.3 462.9L153.0 467.5L152.3 467.4L152.6 462.8ZM152.8 472.0L151.6 495.0L150.3 494.9L152.0 472.0ZM151.4 499.6L150.4 518.0L148.7 517.9L150.0 499.5ZM154.0 444.5L152.7 462.8L152.0 462.8L153.7 444.4ZM152.4 467.4L150.5 494.9L149.2 494.8L151.6 467.4ZM149.9 504.1L148.3 527.1L146.3 526.9L148.4 504.0ZM147.0 545.4L146.7 550.0L144.3 549.8L144.7 545.2ZM153.3 449.0L152.5 458.2L152.0 458.1L153.0 449.0ZM152.1 462.8L151.0 476.5L150.0 476.4L151.5 462.7ZM150.6 481.1L149.4 494.9L148.1 494.7L149.5 481.0ZM148.6 504.0L146.6 526.9L144.7 526.8L147.1 503.9ZM145.0 545.3L144.6 549.9L142.2 549.6L142.7 545.1ZM144.2 554.4L143.5 563.6L140.8 563.3L141.7 554.2ZM153.5 444.4L152.5 453.6L152.1 453.5L153.2 444.4ZM152.1 458.2L151.1 467.3L150.4 467.2L151.5 458.1ZM147.3 503.9L144.9 526.8L143.0 526.6L145.8 503.7ZM153.2 444.4L152.7 449.0L152.3 448.9L153.0 444.4ZM151.6 458.1L149.9 471.8L149.1 471.7L151.0 458.0ZM147.7 490.1L147.1 494.6L145.8 494.5L146.5 489.9ZM146.0 503.8L143.8 522.0L142.0 521.8L144.6 503.6ZM153.0 444.4L151.7 453.5L151.3 453.4L152.7 444.3ZM151.1 458.0L149.8 467.1L149.1 467.0L150.5 458.0ZM147.9 480.8L146.7 489.9L145.5 489.8L146.9 480.7ZM144.8 503.6L142.2 521.8L140.4 521.5L143.3 503.4ZM138.4 549.2L137.2 558.3L134.6 557.9L136.0 548.8ZM152.8 444.3L151.3 453.4L150.9 453.3L152.5 444.3ZM150.6 458.0L148.5 471.6L147.7 471.5L150.1 457.9ZM147.1 480.7L145.6 489.8L144.4 489.6L146.0 480.5ZM142.8 508.0L142.1 512.5L140.4 512.2L141.2 507.7ZM141.3 517.0L140.6 521.6L138.8 521.3L139.6 516.8ZM135.6 553.4L134.2 562.5L131.6 562.0L133.2 553.0ZM133.5 567.0L132.8 571.6L129.9 571.1L130.7 566.6ZM152.5 444.3L150.9 453.4L150.5 453.3L152.2 444.2ZM150.1 457.9L148.6 466.9L147.8 466.8L149.6 457.8ZM146.2 480.5L144.6 489.6L143.4 489.4L145.2 480.4ZM142.2 503.2L141.4 507.7L139.9 507.4L140.8 502.9ZM133.5 553.0L131.9 562.1L129.3 561.6L131.0 552.6ZM152.3 444.3L150.5 453.3L150.1 453.2L152.0 444.2ZM149.7 457.8L147.1 471.4L146.2 471.2L149.1 457.7ZM144.4 484.9L143.6 489.4L142.4 489.2L143.3 484.7ZM141.8 498.5L141.0 503.0L139.5 502.7L140.5 498.2ZM131.4 552.7L129.6 561.7L127.0 561.1L128.9 552.1ZM127.9 570.7L127.0 575.2L124.1 574.6L125.1 570.1ZM152.0 444.2L151.1 448.7L150.7 448.6L151.8 444.1ZM143.5 484.7L142.5 489.2L141.4 488.9L142.4 484.5ZM129.2 552.2L128.3 556.7L125.8 556.2L126.8 551.7ZM151.8 444.2L150.8 448.6L150.4 448.5L151.5 444.1ZM147.7 462.1L146.7 466.6L145.9 466.4L147.1 461.9ZM147.2 462.0L146.0 466.4L145.3 466.2L146.5 461.8ZM125.0 551.3L123.9 555.7L121.4 555.1L122.6 550.6ZM119.5 573.6L118.4 578.0L115.4 577.3L116.6 572.8ZM117.3 582.5L116.2 587.0L113.0 586.2L114.2 581.7ZM151.3 444.0L150.2 448.5L149.8 448.4L151.1 444.0ZM131.2 519.6L130.0 524.0L128.1 523.5L129.4 519.1ZM117.0 572.9L114.6 581.8L111.6 581.0L114.1 572.1ZM151.1 444.0L142.3 474.9L141.4 474.7L150.8 443.9ZM130.9 514.7L127.1 528.0L125.2 527.4L129.2 514.2ZM123.4 541.3L122.1 545.7L119.8 545.0L121.1 540.6ZM118.3 559.0L117.0 563.4L114.4 562.6L115.7 558.2ZM114.5 572.3L112.0 581.1L109.0 580.2L111.7 571.4ZM109.5 589.9L108.2 594.4L104.9 593.4L106.3 589.0ZM150.9 443.9L141.5 474.7L140.6 474.4L150.6 443.8ZM129.5 514.3L125.4 527.5L123.5 526.9L127.8 513.8ZM114.7 562.7L113.4 567.1L110.6 566.3L112.1 561.9ZM112.1 571.5L109.4 580.3L106.4 579.4L109.2 570.6ZM106.7 589.1L105.4 593.5L102.1 592.5L103.5 588.1ZM150.7 443.8L149.2 448.2L148.9 448.1L150.4 443.7ZM128.0 513.9L125.2 522.6L123.3 522.0L126.3 513.3ZM150.4 443.8L148.9 448.1L148.6 448.0L150.2 443.7ZM144.5 461.2L143.0 465.5L142.3 465.3L143.8 460.9ZM126.6 513.4L123.6 522.1L121.7 521.4L124.9 512.8ZM150.2 443.7L139.2 473.9L138.4 473.6L149.9 443.6ZM126.7 508.5L120.4 525.8L118.5 525.1L125.1 508.0ZM150.0 443.6L146.7 452.2L146.3 452.0L149.7 443.5ZM145.0 456.5L140.1 469.4L139.3 469.1L144.5 456.3ZM125.3 508.0L118.8 525.2L116.9 524.5L123.8 507.4ZM149.7 443.5L148.0 447.8L147.7 447.6L149.5 443.4ZM146.3 452.0L144.6 456.3L144.1 456.1L145.9 451.9ZM141.2 464.8L137.7 473.4L136.9 473.0L140.5 464.6ZM124.0 507.5L117.1 524.6L115.2 523.8L122.4 506.9ZM149.5 443.4L137.0 473.1L136.1 472.7L149.3 443.3ZM122.7 507.0L117.3 519.7L115.5 518.9L121.1 506.3ZM102.9 553.6L101.2 557.8L98.6 556.7L100.5 552.5ZM149.3 443.3L141.8 460.1L141.3 459.9L149.1 443.2ZM140.0 464.3L136.2 472.7L135.4 472.4L139.3 464.0ZM121.3 506.4L115.7 519.0L114.0 518.2L119.8 505.7ZM149.1 443.2L145.2 451.6L144.8 451.4L148.8 443.1ZM120.0 505.8L116.1 514.1L114.5 513.3L118.5 505.1ZM118.7 505.2L114.7 513.4L113.0 512.6L117.2 504.4ZM148.7 443.0L146.6 447.1L146.2 446.9L148.4 442.9ZM144.5 451.2L142.4 455.3L141.9 455.1L144.1 451.0ZM117.4 504.5L111.2 516.8L109.4 515.9L115.9 503.8ZM148.4 442.9L146.3 447.0L146.0 446.8L148.2 442.8ZM144.1 451.0L139.8 459.2L139.2 458.8L143.7 450.8ZM116.1 503.9L109.7 516.1L107.9 515.1L114.7 503.1ZM148.2 442.8L143.8 450.8L143.4 450.6L148.0 442.6ZM141.6 454.9L139.3 458.9L138.8 458.6L141.1 454.6ZM114.9 503.2L108.2 515.3L106.5 514.3L113.4 502.3ZM113.6 502.5L106.7 514.4L105.0 513.4L112.2 501.6ZM147.8 442.5L145.4 446.5L145.1 446.3L147.6 442.4ZM112.4 501.7L102.9 517.5L101.2 516.4L110.9 500.9ZM147.6 442.4L142.7 450.2L142.3 450.0L147.4 442.3ZM140.3 454.1L137.9 458.0L137.3 457.7L139.8 453.8ZM111.1 501.0L101.4 516.6L99.7 515.5L109.7 500.1ZM147.4 442.3L144.9 446.1L144.6 445.9L147.2 442.1ZM109.9 500.2L99.9 515.7L98.2 514.5L108.5 499.3ZM108.7 499.4L98.4 514.7L96.7 513.5L107.3 498.5ZM107.5 498.6L97.0 513.7L95.3 512.5L106.1 497.6ZM106.3 497.8L95.5 512.7L93.9 511.4L105.0 496.8ZM143.8 445.4L135.6 456.4L135.0 456.0L143.6 445.2ZM116.2 482.2L105.2 496.9L103.8 495.9L115.2 481.4ZM99.6 504.3L94.1 511.6L92.5 510.4L98.2 503.1ZM143.6 445.2L140.8 448.8L140.4 448.6L143.3 445.0ZM115.3 481.5L104.0 496.0L102.7 495.0L114.3 480.7ZM101.2 499.6L92.7 510.5L91.1 509.3L99.8 498.5ZM146.2 441.4L140.5 448.6L140.1 448.3L146.0 441.3ZM117.3 477.2L114.4 480.8L113.4 480.0L116.4 476.5ZM111.6 484.4L102.9 495.1L101.6 494.1L110.5 483.5ZM97.1 502.3L88.4 513.0L86.8 511.7L95.7 501.1ZM146.0 441.3L143.1 444.8L142.8 444.6L145.8 441.1ZM140.1 448.3L137.2 451.9L136.8 451.5L139.8 448.0ZM116.5 476.6L84.1 515.4L82.4 513.9L115.6 475.8ZM145.9 441.1L136.8 451.6L136.4 451.2L145.7 440.9ZM118.7 472.4L85.6 510.6L84.0 509.2L117.9 471.7ZM145.7 441.0L142.6 444.4L142.3 444.1L145.5 440.8ZM118.0 471.8L84.2 509.4L82.6 508.0L117.2 471.0ZM136.1 450.9L133.0 454.3L132.5 453.8L135.7 450.5ZM117.3 471.1L104.8 484.6L103.7 483.6L116.5 470.4ZM101.6 488.0L86.0 504.8L84.5 503.4L100.5 486.9ZM116.6 470.5L113.4 473.8L112.6 472.9L115.8 469.7ZM107.0 480.4L103.8 483.7L102.8 482.7L106.0 479.4ZM97.5 490.3L84.7 503.6L83.2 502.2L96.3 489.2ZM115.9 469.8L106.2 479.6L105.2 478.6L115.1 469.0ZM99.7 486.1L83.4 502.4L82.0 500.9L98.6 484.9ZM145.0 440.3L141.7 443.5L141.4 443.2L144.8 440.1ZM138.4 446.7L135.1 449.9L134.7 449.5L138.1 446.4ZM115.2 469.1L105.3 478.7L104.4 477.7L114.5 468.3ZM95.4 488.3L85.5 497.9L84.2 496.5L94.3 487.1ZM144.8 440.1L141.5 443.3L141.2 443.0L144.6 439.9ZM114.6 468.4L101.1 481.0L100.1 479.9L113.8 467.6ZM97.8 484.1L84.3 496.7L83.0 495.2L96.7 482.9ZM113.9 467.7L110.5 470.8L109.7 469.9L113.2 466.9ZM93.4 486.2L83.2 495.4L81.9 494.0L92.3 484.9ZM116.8 463.9L106.4 473.0L105.5 472.0L116.1 463.2ZM96.0 482.1L85.6 491.2L84.3 489.7L94.9 480.9ZM91.5 484.0L84.5 489.9L83.3 488.5L90.5 482.7ZM144.2 439.4L140.6 442.3L140.4 442.0L144.0 439.2ZM137.0 445.2L119.2 459.7L118.6 459.0L136.8 444.8ZM115.6 462.6L83.5 488.7L82.3 487.2L115.0 461.8ZM111.4 464.7L107.8 467.6L107.1 466.6L110.8 463.9ZM89.7 481.8L86.1 484.6L85.0 483.2L88.7 480.4ZM143.7 438.8L132.6 447.0L132.3 446.5L143.6 438.6ZM125.2 452.4L121.4 455.1L121.0 454.4L124.7 451.8ZM117.7 457.8L106.6 465.9L105.9 464.9L117.2 457.0ZM88.0 479.5L84.3 482.2L83.2 480.7L87.0 478.1ZM143.6 438.6L139.8 441.3L139.6 441.0L143.4 438.4ZM117.3 457.1L109.7 462.4L109.1 461.5L116.7 456.4ZM135.4 442.9L131.5 445.4L131.2 444.9L135.2 442.5ZM143.1 437.8L135.2 442.6L135.0 442.2L142.9 437.6ZM107.6 459.2L103.7 461.6L103.1 460.5L107.1 458.2ZM142.8 437.4L134.8 441.9L134.6 441.5L142.7 437.2ZM104.9 454.1L96.6 458.0L96.0 456.8L104.4 453.1ZM142.2 436.1L138.0 437.9L137.8 437.6L142.1 435.9ZM108.4 450.5L83.0 461.4L82.4 459.9L108.0 449.6ZM99.5 453.2L82.4 460.1L81.9 458.6L99.0 452.1ZM99.1 452.2L86.2 457.2L85.7 455.8L98.7 451.1ZM94.4 452.8L85.8 456.0L85.3 454.6L94.0 451.6ZM94.0 451.8L85.3 454.8L84.9 453.3L93.6 450.5ZM98.1 449.3L84.9 453.5L84.5 452.1L97.7 448.1ZM88.9 451.0L84.5 452.3L84.1 450.9L88.5 449.6ZM102.3 323.3L100.3 319.1L102.6 318.1L104.5 322.2ZM106.2 326.5L102.3 318.2L104.5 317.2L108.3 325.6ZM135.1 384.2L133.3 379.9L134.3 379.5L136.0 383.8ZM149.5 380.4L149.1 375.8L150.2 375.7L150.6 380.3ZM152.2 380.2L151.4 366.4L152.7 366.3L153.2 380.1ZM153.1 380.1L152.6 366.3L153.9 366.3L154.1 380.1ZM153.9 380.1L153.8 370.9L155.0 370.9L155.0 380.1Z"/>
<path fill="#855868" d="M198.1 414.9L202.4 413.3L202.8 414.3L198.4 415.8ZM165.4 451.2L169.6 459.4L169.0 459.7L165.0 451.4ZM160.7 443.2L162.7 447.4L162.4 447.5L160.5 443.3ZM164.6 451.5L166.6 455.7L166.1 455.9L164.2 451.7ZM162.1 447.6L163.9 451.9L163.5 452.0L161.8 447.8ZM165.7 456.1L167.5 460.3L166.9 460.6L165.2 456.3ZM172.9 473.0L174.7 477.2L173.8 477.6L172.1 473.4ZM165.3 456.3L167.0 460.5L166.4 460.8L164.8 456.5ZM173.9 477.6L175.6 481.9L174.6 482.3L173.0 478.0ZM187.8 511.7L189.5 516.0L187.7 516.6L186.1 512.3ZM161.5 447.9L166.5 460.7L165.9 461.0L161.2 448.0ZM169.8 469.3L171.4 473.6L170.6 473.9L169.0 469.6ZM188.0 516.5L189.6 520.8L187.8 521.5L186.2 517.2ZM159.4 443.7L162.4 452.4L162.0 452.6L159.1 443.8ZM165.4 461.1L166.9 465.5L166.2 465.7L164.8 461.3ZM169.9 474.2L171.4 478.5L170.5 478.8L169.1 474.5ZM159.0 443.9L161.7 452.7L161.2 452.8L158.7 444.0ZM158.7 444.0L160.0 448.4L159.6 448.5L158.5 444.0ZM158.5 444.0L160.9 452.9L160.4 453.0L158.2 444.1ZM162.1 457.3L163.3 461.8L162.6 462.0L161.5 457.5ZM166.9 475.1L169.3 484.0L168.2 484.3L166.0 475.3ZM158.3 444.1L159.4 448.5L159.0 448.6L158.0 444.2ZM158.0 444.1L159.1 448.6L158.7 448.7L157.8 444.2ZM157.8 444.2L158.8 448.7L158.4 448.8L157.5 444.3ZM160.7 457.7L161.6 462.2L161.0 462.3L160.1 457.8ZM168.4 493.7L169.3 498.2L168.0 498.5L167.1 493.9ZM157.6 444.2L158.4 448.8L158.1 448.8L157.3 444.3ZM160.2 457.8L161.1 462.3L160.4 462.4L159.7 457.9ZM157.3 444.3L158.9 453.3L158.5 453.4L157.0 444.3ZM159.7 457.9L160.5 462.4L159.9 462.5L159.2 458.0ZM162.1 471.5L163.0 476.0L162.0 476.1L161.3 471.6ZM171.8 525.8L172.6 530.3L170.6 530.7L169.9 526.1ZM156.8 444.4L158.1 453.5L157.7 453.5L156.6 444.4ZM160.1 467.1L160.7 471.7L159.9 471.8L159.3 467.2ZM168.5 526.3L169.1 530.9L167.1 531.2L166.5 526.6ZM158.3 458.1L158.9 462.7L158.2 462.7L157.7 458.2ZM166.8 526.6L167.4 531.1L165.3 531.4L164.9 526.8ZM156.4 444.4L156.8 449.0L156.5 449.0L156.1 444.4ZM155.9 444.5L156.5 453.6L156.1 453.7L155.6 444.5ZM156.9 458.2L157.5 467.4L156.8 467.5L156.3 458.3ZM157.8 472.0L158.2 476.6L157.2 476.6L157.0 472.0ZM155.6 444.5L155.9 449.1L155.5 449.1L155.4 444.5ZM156.4 458.3L156.6 462.9L156.0 462.9L155.8 458.3ZM155.4 444.5L155.6 449.1L155.2 449.1L155.1 444.5ZM155.9 458.3L156.6 476.7L155.6 476.7L155.3 458.3ZM155.2 444.5L155.2 449.1L154.9 449.1L154.9 444.5ZM154.7 444.5L154.6 449.1L154.2 449.1L154.4 444.5ZM154.4 462.9L154.3 467.5L153.6 467.5L153.7 462.9ZM154.4 444.5L154.3 449.1L153.9 449.1L154.2 444.5ZM153.7 467.5L153.5 472.1L152.7 472.0L152.9 467.4ZM154.2 444.5L154.0 449.1L153.6 449.1L153.9 444.5ZM153.5 458.3L153.3 462.9L152.6 462.8L152.9 458.2ZM153.0 467.5L152.8 472.0L152.0 472.0L152.3 467.4ZM152.7 462.8L152.4 467.4L151.6 467.4L152.0 462.8ZM153.7 444.4L153.3 449.0L153.0 449.0L153.4 444.4ZM152.5 458.2L152.1 462.8L151.5 462.7L152.0 458.1ZM105.2 496.9L99.6 504.3L98.2 503.1L103.8 495.9ZM104.0 496.0L101.2 499.6L99.8 498.5L102.7 495.0ZM114.4 480.8L111.6 484.4L110.5 483.5L113.4 480.0ZM102.9 495.1L97.1 502.3L95.7 501.1L101.6 494.1Z"/>
<path fill="#6B8570" d="M212.0 132.7L216.9 133.6L217.8 128.7L212.9 127.8ZM255.5 135.4L261.1 137.4L263.1 131.8L257.5 129.8ZM258.8 152.4L263.4 154.2L265.2 149.6L260.6 147.8ZM272.1 152.5L278.5 155.3L281.9 147.5L275.5 144.7ZM277.1 154.4L283.4 157.3L286.9 149.6L280.6 146.7ZM282.0 156.3L288.3 159.3L292.0 151.7L285.7 148.7ZM287.0 158.2L293.2 161.4L297.0 153.8L290.8 150.6ZM291.6 158.6L296.1 160.9L298.4 156.4L293.9 154.1ZM277.8 165.6L282.8 167.9L285.0 163.4L280.0 161.1ZM298.2 161.3L303.0 163.9L305.6 159.1L300.8 156.5ZM287.2 117.9L293.2 120.5L295.4 115.5L289.4 112.9ZM320.5 132.2L326.2 135.4L328.9 130.6L323.2 127.4ZM344.7 170.8L348.7 173.8L351.7 169.8L347.7 166.8ZM190.5 297.4L191.7 292.7L194.4 293.4L193.1 298.1ZM191.7 292.9L192.9 288.2L195.7 289.0L194.3 293.7ZM195.1 298.7L196.5 294.0L199.2 294.9L197.7 299.5ZM196.0 303.8L197.5 299.2L200.0 300.0L198.5 304.6ZM203.5 296.6L205.2 292.1L207.9 293.1L206.1 297.6ZM201.7 322.1L208.1 325.1L210.8 319.3L204.4 316.3ZM206.2 325.3L212.4 328.5L215.3 322.8L209.1 319.6ZM210.6 328.4L216.7 332.0L219.9 326.4L213.8 322.9ZM215.1 331.6L220.9 335.4L224.4 330.0L218.6 326.2ZM304.9 368.9L306.5 373.1L310.7 371.5L309.1 367.3ZM274.3 382.3L278.8 380.5L279.7 382.9L275.2 384.7ZM283.6 384.2L285.8 390.8L291.9 388.8L289.7 382.2ZM288.8 393.9L290.5 400.7L296.7 399.1L295.0 392.3ZM282.4 412.6L287.2 412.0L287.6 414.6L282.8 415.1ZM278.2 415.4L283.0 414.8L283.3 417.3L278.4 417.8ZM278.4 417.6L283.2 417.1L283.5 419.6L278.6 420.0ZM283.7 428.3L288.5 428.2L288.5 430.8L283.7 430.8ZM279.1 432.7L283.9 432.8L283.9 435.3L279.0 435.2ZM277.9 447.9L282.7 448.5L282.3 451.0L277.6 450.3ZM282.5 448.5L287.3 449.2L286.9 451.7L282.1 451.0ZM291.6 449.8L296.4 450.4L296.0 453.2L291.2 452.4ZM268.5 448.6L273.3 449.3L272.9 451.6L268.1 450.8ZM277.6 450.0L282.4 450.8L282.0 453.2L277.2 452.4ZM291.2 452.1L296.0 452.9L295.6 455.7L290.8 454.8ZM268.2 450.6L273.0 451.4L272.5 453.7L267.8 452.8ZM277.2 452.1L282.0 453.0L281.6 455.5L276.8 454.5ZM286.3 453.7L291.1 454.6L290.6 457.2L285.8 456.3ZM290.8 454.5L295.6 455.4L295.1 458.1L290.3 457.2ZM276.8 454.3L281.6 455.2L281.1 457.7L276.4 456.6ZM290.4 456.9L295.2 457.8L294.6 460.5L289.9 459.5ZM285.4 458.3L290.2 459.3L289.6 461.9L284.8 460.8ZM271.5 457.5L276.2 458.6L275.6 460.9L270.9 459.8ZM275.9 458.5L280.7 459.6L280.1 462.1L275.4 460.9ZM280.4 459.5L285.2 460.6L284.5 463.2L279.8 462.0ZM284.9 460.6L289.6 461.7L289.0 464.3L284.3 463.1ZM275.4 460.6L280.1 461.8L279.5 464.2L274.8 463.0ZM279.9 461.7L284.6 462.9L284.0 465.4L279.3 464.2ZM270.5 461.5L275.1 462.8L274.5 465.1L269.8 463.8ZM283.8 465.1L288.5 466.3L287.8 468.9L283.1 467.6ZM287.6 468.6L292.3 469.9L291.5 472.6L286.8 471.2ZM292.0 469.9L296.7 471.2L295.9 474.0L291.2 472.5ZM278.1 468.2L282.8 469.6L282.0 472.1L277.4 470.6ZM282.5 469.6L287.2 471.0L286.3 473.6L281.7 472.1ZM291.3 472.2L296.0 473.7L295.1 476.4L290.5 474.9ZM268.7 467.5L273.3 469.0L272.5 471.3L267.9 469.8ZM273.1 469.0L277.7 470.5L276.9 472.8L272.3 471.3ZM281.8 471.8L286.4 473.3L285.6 475.8L281.0 474.3ZM286.2 473.2L290.8 474.7L289.9 477.3L285.3 475.8ZM294.9 476.0L299.6 477.5L298.6 480.4L294.0 478.8ZM272.4 471.0L277.0 472.6L276.1 475.0L271.6 473.3ZM276.0 474.6L280.5 476.3L279.6 478.7L275.1 477.0ZM279.5 478.4L284.0 480.1L283.0 482.6L278.5 480.8ZM283.8 480.0L288.3 481.8L287.3 484.4L282.8 482.5ZM273.5 480.9L278.0 482.8L276.9 485.2L272.5 483.2ZM301.9 484.0L306.5 485.7L305.4 488.6L300.9 486.9ZM292.4 483.3L296.9 485.0L295.8 487.8L291.3 486.0ZM305.3 488.2L309.8 490.0L308.6 493.0L304.1 491.2ZM300.0 489.1L304.5 490.9L303.3 493.9L298.8 492.0ZM304.2 490.9L308.7 492.7L307.5 495.7L303.0 493.8ZM294.7 489.9L299.2 491.8L297.9 494.6L293.5 492.6ZM298.9 491.7L303.4 493.5L302.1 496.4L297.7 494.5ZM307.4 495.2L311.9 497.1L310.5 500.2L306.1 498.2ZM302.0 496.0L306.5 498.0L305.1 500.9L300.7 498.9ZM306.3 497.9L310.7 499.9L309.3 502.9L304.9 500.8ZM292.5 494.7L296.9 496.8L295.6 499.5L291.3 497.4ZM296.7 496.6L301.1 498.7L299.8 501.5L295.4 499.4ZM300.9 498.6L305.3 500.6L303.9 503.6L299.5 501.4ZM292.6 499.3L288.8 506.3L291.4 507.7L295.2 500.7ZM272.8 527.3L268.2 532.6L273.0 536.7L277.6 531.4ZM280.1 519.3L275.9 524.9L280.9 528.7L285.1 523.1ZM287.3 511.3L283.6 517.2L288.9 520.7L292.6 514.8ZM292.6 521.2L289.8 525.3L293.2 527.6L296.0 523.5ZM336.2 482.5L340.9 483.8L339.8 487.5L335.2 486.0ZM340.7 483.8L345.3 485.1L344.2 488.8L339.6 487.4ZM339.7 487.0L344.4 488.4L343.2 492.1L338.6 490.6ZM334.3 488.8L338.9 490.3L337.7 493.9L333.2 492.3ZM343.1 491.6L347.7 493.1L346.4 496.9L341.9 495.3ZM337.6 493.4L342.2 495.0L340.9 498.6L336.4 497.0ZM336.5 496.6L341.1 498.2L339.7 501.9L335.2 500.1ZM340.8 498.2L345.4 499.8L344.0 503.5L339.5 501.8ZM335.3 499.7L339.9 501.5L338.5 505.1L334.0 503.3ZM339.6 501.4L344.2 503.1L342.7 506.8L338.2 505.0ZM329.8 501.2L334.3 503.0L332.9 506.5L328.4 504.6ZM338.4 504.6L342.9 506.4L341.4 510.1L336.9 508.2ZM332.8 506.0L337.3 507.9L335.7 511.4L331.3 509.5ZM337.1 507.8L341.5 509.7L339.9 513.3L335.5 511.3ZM341.3 509.6L345.8 511.5L344.1 515.2L339.7 513.2ZM331.5 509.1L335.9 511.1L334.3 514.6L329.9 512.5ZM335.7 511.0L340.1 512.9L338.5 516.5L334.1 514.5ZM339.9 512.8L344.3 514.8L342.6 518.5L338.2 516.4ZM330.1 512.2L334.5 514.2L332.8 517.7L328.5 515.6ZM334.3 514.1L338.7 516.2L336.9 519.7L332.6 517.6ZM338.4 516.0L342.8 518.1L341.1 521.7L336.7 519.6ZM323.1 505.4L327.5 507.3L326.0 510.7L321.6 508.6ZM327.3 507.2L331.7 509.2L330.1 512.6L325.7 510.6ZM330.1 512.2L334.5 514.2L332.8 517.7L328.5 515.6ZM316.2 509.2L320.6 511.3L319.0 514.5L314.7 512.3ZM320.4 511.2L324.7 513.3L323.1 516.6L318.8 514.4ZM328.6 515.2L333.0 517.3L331.3 520.8L327.0 518.6ZM314.8 512.0L319.2 514.2L317.5 517.4L313.2 515.1ZM323.0 516.1L327.4 518.3L325.6 521.7L321.3 519.4ZM327.1 518.2L331.5 520.4L329.7 523.9L325.4 521.6ZM317.5 516.9L321.7 519.2L320.0 522.4L315.7 520.1ZM321.5 519.1L325.8 521.3L324.0 524.7L319.8 522.3ZM325.6 521.2L329.9 523.5L328.0 526.9L323.8 524.5ZM315.9 519.7L320.2 522.1L318.3 525.3L314.2 522.9ZM342.6 506.3L347.1 508.1L345.6 511.9L341.1 510.0ZM336.9 519.2L341.3 521.4L339.5 525.0L335.1 522.8ZM317.7 519.3L314.7 524.5L317.3 525.9L320.3 520.7ZM319.2 529.4L316.6 533.6L319.2 535.2L321.8 531.0ZM310.8 538.7L307.9 542.8L313.6 546.9L316.5 542.8ZM343.4 531.7L341.5 535.2L345.0 537.1L346.9 533.6ZM354.0 507.2L352.1 511.9L355.8 513.4L357.7 508.7ZM378.1 486.1L382.8 487.3L381.7 491.7L377.0 490.5ZM377.1 490.0L381.8 491.2L380.6 495.7L375.9 494.3ZM372.8 514.2L370.9 518.9L374.6 520.4L376.5 515.7ZM392.1 360.9L393.5 365.7L398.3 364.3L396.9 359.5ZM384.7 340.5L386.5 345.1L391.1 343.3L389.3 338.7ZM174.3 344.8L176.7 345.3L177.7 341.2L175.3 340.7ZM178.2 350.7L180.5 351.4L181.8 347.3L179.5 346.6ZM183.2 331.7L185.5 332.4L186.8 328.3L184.5 327.6ZM190.0 351.4L192.2 352.4L194.0 348.6L191.8 347.6ZM200.9 345.3L203.0 346.4L205.1 342.7L203.0 341.6ZM205.8 353.1L207.8 354.4L210.2 350.9L208.2 349.6ZM197.8 367.0L199.8 368.4L202.2 365.0L200.2 363.6ZM181.3 319.7L183.7 320.3L184.7 316.3L182.3 315.7ZM170.5 323.9L172.9 324.3L173.5 320.1L171.1 319.7ZM140.0 298.2L142.4 298.0L142.0 293.8L139.6 294.0ZM223.1 362.3L226.6 358.9L228.0 360.3L224.5 363.7ZM226.4 359.1L229.8 355.6L231.3 357.1L227.8 360.5ZM224.3 363.5L227.8 360.2L229.2 361.6L225.6 364.9ZM230.9 357.1L234.4 353.8L235.9 355.3L232.4 358.6ZM225.5 364.7L229.0 361.4L230.4 362.9L226.8 366.1ZM228.8 361.6L232.4 358.3L233.8 359.8L230.2 363.1ZM232.2 358.5L235.7 355.2L237.2 356.7L233.6 360.0ZM230.0 362.9L233.6 359.7L235.0 361.2L231.3 364.4ZM233.5 359.8L237.1 356.6L238.5 358.2L234.8 361.4ZM231.2 364.2L234.9 361.0L236.2 362.6L232.5 365.7ZM234.7 361.2L238.3 358.0L239.7 359.7L236.0 362.8ZM235.9 362.6L239.6 359.5L241.0 361.2L237.2 364.2ZM249.1 357.0L252.9 354.0L254.4 355.9L250.5 358.8ZM246.7 361.4L250.5 358.5L251.9 360.4L248.0 363.2ZM254.0 355.9L257.9 352.9L259.4 355.0L255.5 357.8ZM262.7 352.2L266.7 349.3L268.2 351.5L264.3 354.3ZM245.3 367.3L249.2 364.5L250.5 366.4L246.5 369.1ZM252.8 362.0L256.8 359.2L258.1 361.2L254.1 363.9ZM250.2 366.3L254.2 363.6L255.5 365.5L251.4 368.2ZM243.6 373.0L247.6 370.3L248.8 372.2L244.7 374.7ZM256.4 376.6L260.7 374.3L261.7 376.4L257.4 378.6ZM260.4 374.4L264.7 372.2L265.8 374.3L261.5 376.5ZM254.1 382.2L258.4 380.1L259.4 382.1L255.0 384.1ZM258.2 380.2L262.6 378.0L263.6 380.2L259.2 382.2ZM262.3 378.2L266.7 376.0L267.7 378.2L263.3 380.3ZM263.2 380.0L267.6 378.0L268.6 380.2L264.2 382.2ZM268.3 380.1L272.7 378.1L273.7 380.4L269.3 382.3ZM272.5 378.2L276.9 376.2L278.0 378.6L273.5 380.5ZM269.2 382.1L273.6 380.2L274.6 382.5L270.1 384.3ZM273.4 380.2L277.9 378.3L278.9 380.8L274.4 382.6ZM282.8 378.9L287.3 377.0L288.3 379.6L283.8 381.4ZM283.7 381.1L288.2 379.4L289.2 382.0L284.6 383.6ZM284.5 383.4L289.1 381.7L290.0 384.3L285.4 385.9ZM286.1 387.9L290.7 386.4L291.6 389.1L286.9 390.5ZM281.7 389.3L286.3 387.8L287.2 390.4L282.5 391.8ZM291.2 388.9L295.9 387.4L296.7 390.2L292.0 391.5ZM283.7 396.0L288.4 394.8L289.1 397.4L284.4 398.6ZM293.2 396.1L297.9 394.9L298.6 397.7L293.9 398.8Z"/>
<path fill="#8A7C7C" d="M215.7 140.2L220.6 141.2L221.5 136.8L216.6 135.8ZM203.5 146.1L214.3 148.1L215.5 141.7L204.7 139.7ZM218.4 151.2L224.2 152.6L225.6 146.8L219.8 145.4ZM220.8 156.4L228.5 158.4L230.2 151.6L222.5 149.6ZM217.5 158.3L222.3 159.5L223.5 154.7L218.7 153.5ZM232.6 156.2L237.8 157.8L239.2 153.0L234.0 151.4ZM266.8 136.5L272.9 138.9L275.6 131.9L269.5 129.5ZM252.6 143.1L257.8 144.9L259.4 140.1L254.2 138.3ZM244.6 149.7L251.2 151.9L253.4 145.3L246.8 143.1ZM249.5 152.1L256.1 154.5L258.5 147.9L251.9 145.5ZM254.5 154.6L261.1 157.0L263.5 150.4L256.9 148.0ZM259.0 157.5L265.5 160.0L268.0 153.5L261.5 151.0ZM263.9 159.4L270.4 162.1L273.1 155.6L266.6 152.9ZM351.0 162.8L355.8 166.4L359.0 162.0L354.2 158.4ZM341.4 174.9L345.4 177.9L349.0 173.1L345.0 170.1ZM347.6 167.1L351.6 170.1L354.0 166.9L350.0 163.9ZM340.5 194.6L344.8 198.1L348.3 193.8L344.0 190.3ZM414.5 134.1L419.7 138.8L423.1 135.1L417.9 130.4ZM424.5 144.2L429.6 149.0L433.1 145.4L428.0 140.6ZM798.3 51.0L805.5 63.6L810.7 60.6L803.5 48.0ZM211.1 281.0L214.3 282.2L216.5 276.6L213.3 275.4ZM219.4 308.5L222.5 310.2L224.6 306.3L221.5 304.6ZM188.1 296.8L189.3 292.1L192.0 292.8L190.8 297.4ZM189.3 292.3L190.4 287.6L193.2 288.3L192.0 293.0ZM190.3 306.9L191.6 302.2L194.1 302.9L192.7 307.6ZM191.5 302.4L192.9 297.8L195.5 298.5L194.0 303.2ZM192.8 298.0L194.1 293.3L196.8 294.1L195.4 298.8ZM194.1 293.6L195.4 288.9L198.2 289.7L196.7 294.4ZM193.8 303.1L195.2 298.4L197.8 299.3L196.3 303.9ZM196.4 294.3L197.9 289.6L200.6 290.5L199.1 295.1ZM198.8 295.0L200.3 290.4L203.1 291.3L201.5 295.9ZM202.7 291.5L204.3 286.9L207.1 287.9L205.4 292.4ZM200.4 305.3L202.0 300.7L204.6 301.7L202.8 306.2ZM205.1 292.3L206.8 287.8L209.5 288.8L207.8 293.3ZM202.6 306.1L204.3 301.6L206.8 302.6L205.0 307.1ZM204.2 301.8L206.0 297.3L208.6 298.3L206.7 302.8ZM205.9 297.5L207.6 293.0L210.3 294.0L208.5 298.5ZM207.5 293.2L209.2 288.7L212.0 289.8L210.2 294.3ZM219.6 589.9L227.6 589.9L227.6 584.9L219.6 584.9ZM309.9 382.1L311.2 386.4L315.1 385.3L313.8 381.0ZM307.1 389.1L308.2 393.5L312.1 392.5L311.0 388.1ZM315.8 389.9L316.9 394.3L320.8 393.3L319.7 388.9ZM297.5 396.9L298.4 401.3L302.3 400.5L301.4 396.1ZM297.0 402.1L298.1 408.0L301.0 407.5L299.9 401.6ZM325.8 397.2L326.3 400.1L330.2 399.4L329.7 396.5ZM270.6 374.1L275.0 372.0L276.1 374.3L271.7 376.4ZM275.7 374.2L280.1 372.1L281.3 374.6L276.8 376.6ZM268.3 380.1L272.7 378.1L273.7 380.4L269.3 382.3ZM272.5 378.2L276.9 376.2L278.0 378.6L273.5 380.5ZM269.2 382.1L273.6 380.2L274.6 382.5L270.1 384.3ZM270.0 384.1L274.5 382.2L275.4 384.6L270.9 386.3ZM275.1 384.4L279.6 382.7L280.5 385.1L276.0 386.8ZM281.0 379.4L283.5 385.9L289.5 383.6L287.0 377.1ZM286.2 389.0L288.2 395.8L294.3 394.0L292.3 387.2ZM277.2 409.0L282.0 408.2L282.4 410.6L277.6 411.4ZM281.7 408.2L286.5 407.4L286.9 409.9L282.1 410.7ZM277.6 411.1L282.3 410.4L282.7 412.9L277.9 413.5ZM277.9 413.3L282.7 412.6L283.0 415.1L278.2 415.7ZM282.7 414.9L287.5 414.3L287.8 416.9L283.0 417.4ZM283.0 417.1L287.8 416.6L288.1 419.2L283.2 419.6ZM278.6 419.7L283.4 419.3L283.6 421.8L278.8 422.2ZM274.2 422.2L279.0 421.9L279.2 424.3L274.3 424.6ZM278.8 421.9L283.6 421.6L283.8 424.1L278.9 424.3ZM283.4 421.6L288.2 421.2L288.4 423.8L283.5 424.1ZM283.5 423.8L288.4 423.6L288.5 426.2L283.6 426.3ZM279.0 426.2L283.9 426.1L283.9 428.6L279.1 428.7ZM274.5 428.5L279.3 428.4L279.3 430.8L274.5 430.8ZM279.1 428.4L283.9 428.3L283.9 430.8L279.1 430.8ZM274.5 430.6L279.3 430.6L279.3 433.0L274.5 432.9ZM279.1 430.6L283.9 430.6L283.9 433.1L279.1 433.0ZM283.7 430.6L288.5 430.6L288.5 433.2L283.7 433.1ZM274.5 432.7L279.3 432.7L279.3 435.2L274.4 435.0ZM283.7 432.8L288.5 432.9L288.5 435.5L283.6 435.3ZM279.0 434.9L283.9 435.1L283.8 437.6L278.9 437.3ZM283.6 435.1L288.5 435.2L288.4 437.8L283.5 437.6ZM274.3 436.8L279.2 437.1L279.0 439.5L274.2 439.2ZM278.9 437.1L283.8 437.3L283.6 439.8L278.8 439.5ZM283.5 437.3L288.4 437.6L288.2 440.2L283.4 439.8ZM283.4 439.6L288.2 439.9L288.0 442.5L283.2 442.1ZM287.0 449.1L291.8 449.8L291.4 452.5L286.6 451.7ZM273.0 449.3L277.8 450.0L277.4 452.4L272.7 451.6ZM282.1 450.7L286.9 451.5L286.5 454.0L281.7 453.2ZM286.7 451.4L291.5 452.2L291.0 454.8L286.2 454.0ZM272.7 451.3L277.5 452.2L277.0 454.6L272.3 453.6ZM281.8 452.9L286.5 453.8L286.1 456.3L281.3 455.4ZM281.4 455.1L286.1 456.1L285.6 458.6L280.9 457.6ZM285.9 456.0L290.6 456.9L290.1 459.6L285.4 458.6ZM280.9 457.3L285.7 458.4L285.1 460.9L280.4 459.8ZM289.9 459.3L294.7 460.3L294.1 463.0L289.3 461.9ZM294.4 460.2L299.2 461.2L298.5 464.0L293.8 462.9ZM289.4 461.6L294.1 462.7L293.5 465.4L288.8 464.2ZM293.9 462.6L298.6 463.7L297.9 466.5L293.2 465.3ZM284.4 462.8L289.1 464.0L288.4 466.6L283.7 465.4ZM288.8 463.9L293.5 465.1L292.8 467.8L288.2 466.6ZM274.9 462.7L279.6 464.0L278.9 466.4L274.3 465.1ZM279.3 463.9L284.0 465.2L283.3 467.7L278.7 466.3ZM288.2 466.3L292.9 467.5L292.2 470.2L287.5 468.9ZM292.7 467.5L297.4 468.7L296.6 471.5L291.9 470.1ZM283.2 467.3L287.8 468.7L287.1 471.3L282.4 469.8ZM269.3 465.5L274.0 467.0L273.2 469.3L268.6 467.8ZM273.7 466.9L278.4 468.3L277.6 470.7L273.0 469.2ZM286.9 470.9L291.6 472.3L290.7 475.0L286.1 473.5ZM277.4 470.4L282.1 471.9L281.2 474.3L276.6 472.8ZM290.6 474.6L295.2 476.1L294.3 478.9L289.7 477.3ZM276.7 472.5L281.3 474.1L280.4 476.5L275.9 474.9ZM281.1 474.0L285.7 475.6L284.8 478.1L280.2 476.5ZM285.4 475.5L290.0 477.1L289.1 479.7L284.5 478.0ZM289.8 477.0L294.4 478.6L293.4 481.3L288.8 479.6ZM294.1 478.5L298.7 480.1L297.7 482.9L293.2 481.2ZM280.3 476.2L284.9 477.8L283.9 480.4L279.4 478.6ZM284.6 477.8L289.2 479.4L288.2 482.0L283.7 480.3ZM289.0 479.3L293.5 481.0L292.5 483.7L288.0 481.9ZM275.2 476.7L279.7 478.5L278.8 480.9L274.3 479.1ZM274.4 478.8L278.9 480.6L277.9 483.1L273.4 481.2ZM278.6 480.5L283.1 482.4L282.1 484.9L277.6 483.0ZM307.2 483.0L311.8 484.5L310.7 487.6L306.1 485.9ZM306.2 485.6L310.8 487.3L309.7 490.3L305.1 488.6ZM296.7 485.0L301.2 486.7L300.1 489.5L295.6 487.7ZM301.0 486.6L305.5 488.3L304.3 491.3L299.9 489.4ZM303.2 493.5L307.6 495.3L306.3 498.3L301.9 496.3ZM297.8 494.2L302.3 496.1L301.0 499.0L296.6 496.9ZM276.4 523.3L272.0 528.8L277.0 532.7L281.4 527.2ZM283.7 515.3L279.7 521.1L284.9 524.7L288.9 518.9ZM338.7 490.2L343.3 491.7L342.1 495.4L337.5 493.8ZM342.0 494.9L346.6 496.5L345.3 500.2L340.7 498.5ZM332.2 495.0L336.8 496.7L335.4 500.2L330.9 498.5ZM334.1 502.9L338.6 504.7L337.1 508.3L332.7 506.4ZM318.9 514.1L323.3 516.3L321.6 519.5L317.3 517.3ZM339.6 501.4L344.2 503.1L342.7 506.8L338.2 505.0ZM343.9 503.0L348.5 504.8L347.0 508.5L342.5 506.7ZM356.9 498.9L354.7 505.0L359.8 506.8L362.0 500.7ZM358.6 494.7L356.5 500.9L361.7 502.6L363.7 496.4ZM360.3 490.5L358.3 496.7L363.5 498.3L365.4 492.1ZM361.9 486.3L360.1 492.5L365.3 494.0L367.1 487.7ZM382.6 487.2L387.3 488.4L386.1 492.9L381.4 491.7ZM381.6 491.2L386.3 492.4L385.0 496.9L380.3 495.6ZM386.7 492.8L385.6 496.7L389.5 497.8L390.6 493.9ZM384.4 500.7L382.9 505.4L387.6 506.9L389.1 502.2ZM392.2 500.9L390.3 507.1L396.1 508.9L398.0 502.7ZM393.4 495.8L391.6 502.1L397.4 503.8L399.2 497.5ZM394.5 490.8L392.9 497.1L398.7 498.6L400.4 492.3ZM395.7 485.7L394.2 492.0L400.1 493.4L401.6 487.1ZM346.7 430.6L346.7 434.6L350.7 434.6L350.7 430.6ZM351.1 447.9L350.6 452.8L353.5 453.1L354.0 448.2ZM349.6 461.3L348.8 466.2L352.8 466.9L353.6 462.0ZM431.9 444.8L436.9 444.8L436.9 439.8L431.9 439.8ZM418.6 487.8L422.6 487.8L422.6 481.8L418.6 481.8ZM387.3 353.3L388.8 358.0L393.5 356.5L392.0 351.8ZM314.7 435.2L314.5 439.2L318.5 439.4L318.7 435.4ZM310.5 444.3L310.0 449.3L313.9 449.7L314.4 444.7ZM308.7 450.0L308.1 454.0L312.1 454.6L312.7 450.6ZM187.1 344.5L189.4 345.4L190.9 341.5L188.6 340.6ZM195.0 340.4L197.2 341.4L199.0 337.6L196.8 336.6ZM190.9 363.3L193.0 364.4L195.1 360.7L193.0 359.6ZM203.8 361.0L205.7 362.4L208.2 359.0L206.3 357.6ZM208.8 347.1L210.8 348.4L213.2 344.9L211.2 343.6ZM158.7 298.1L161.1 298.1L161.3 293.9L158.9 293.9ZM135.1 289.2L137.5 288.9L136.9 284.8L134.5 285.1ZM227.6 360.3L231.1 357.0L232.5 358.5L229.0 361.8ZM241.6 355.2L245.3 352.0L246.8 353.8L243.1 356.9ZM245.1 352.1L248.7 349.0L250.3 350.8L246.6 353.9ZM242.9 356.7L246.6 353.6L248.1 355.4L244.3 358.4ZM246.4 353.7L250.2 350.6L251.7 352.5L247.9 355.5ZM240.6 361.1L244.4 358.1L245.8 359.8L242.0 362.8ZM244.2 358.2L248.0 355.2L249.4 357.0L245.6 360.0ZM247.8 355.3L251.5 352.3L253.0 354.2L249.2 357.2ZM251.3 352.4L255.1 349.4L256.7 351.4L252.9 354.3ZM241.8 362.6L245.6 359.6L247.0 361.4L243.1 364.4ZM245.4 359.8L249.3 356.8L250.7 358.7L246.8 361.6ZM252.7 354.1L256.5 351.1L258.0 353.1L254.2 356.1ZM243.0 364.2L246.9 361.2L248.2 363.1L244.3 365.9ZM250.3 358.6L254.2 355.7L255.7 357.7L251.7 360.5ZM257.7 353.1L261.6 350.2L263.1 352.3L259.2 355.1ZM244.1 365.7L248.1 362.9L249.4 364.7L245.4 367.5ZM247.9 363.0L251.8 360.2L253.1 362.1L249.2 364.8ZM251.6 360.3L255.5 357.4L256.9 359.4L252.9 362.2ZM255.3 357.6L259.2 354.7L260.7 356.8L256.7 359.6ZM259.0 354.9L262.9 352.0L264.5 354.2L260.5 356.9ZM241.5 369.9L245.5 367.1L246.7 368.9L242.7 371.6ZM249.0 364.6L253.0 361.9L254.3 363.8L250.3 366.5ZM256.6 359.4L260.5 356.6L262.0 358.6L257.9 361.4ZM260.3 356.7L264.3 353.9L265.8 356.1L261.8 358.8ZM264.1 354.1L268.1 351.3L269.6 353.5L265.6 356.2ZM246.4 368.9L250.4 366.2L251.6 368.0L247.6 370.7ZM254.0 363.7L258.0 361.0L259.3 363.0L255.3 365.7ZM257.8 361.1L261.8 358.4L263.2 360.5L259.1 363.2ZM261.6 358.6L265.6 355.8L267.1 358.0L263.0 360.7ZM247.4 370.5L251.5 367.8L252.7 369.7L248.6 372.3ZM251.3 368.0L255.3 365.3L256.6 367.3L252.5 369.9ZM255.1 365.5L259.2 362.8L260.5 364.9L256.4 367.4ZM259.0 362.9L263.1 360.3L264.4 362.4L260.3 365.0ZM262.8 360.4L266.9 357.8L268.3 360.0L264.2 362.6ZM252.4 369.7L256.5 367.1L257.7 369.1L253.5 371.6ZM256.3 367.2L260.4 364.6L261.6 366.7L257.5 369.2ZM260.2 364.8L264.3 362.2L265.6 364.4L261.4 366.8ZM264.1 362.3L268.2 359.8L269.5 362.0L265.4 364.5ZM257.4 369.0L261.5 366.5L262.7 368.6L258.5 371.0ZM261.3 366.6L265.4 364.1L266.7 366.3L262.5 368.7ZM259.4 372.6L263.7 370.3L264.8 372.4L260.6 374.7ZM263.5 370.4L267.7 368.0L268.9 370.2L264.6 372.5ZM252.3 378.8L256.6 376.5L257.6 378.5L253.3 380.7ZM253.2 380.5L257.5 378.3L258.5 380.3L254.2 382.4ZM257.3 378.4L261.6 376.2L262.7 378.3L258.3 380.4ZM261.4 376.3L265.7 374.1L266.8 376.3L262.5 378.4ZM265.5 374.2L269.8 372.0L270.9 374.2L266.6 376.4ZM266.5 376.1L270.8 374.0L271.9 376.3L267.5 378.3ZM270.6 374.1L275.0 372.0L276.1 374.3L271.7 376.4ZM267.4 378.1L271.8 376.0L272.8 378.3L268.4 380.3ZM271.6 376.1L276.0 374.1L277.1 376.5L272.6 378.4ZM275.7 374.2L280.1 372.1L281.3 374.6L276.8 376.6ZM259.9 383.8L264.3 381.8L265.3 384.0L260.8 385.9ZM264.1 381.9L268.5 380.0L269.5 382.2L265.0 384.1ZM276.7 376.3L281.1 374.3L282.2 376.8L277.7 378.7ZM288.0 379.5L292.5 377.7L293.5 380.4L289.0 382.1ZM288.8 381.8L293.4 380.1L294.4 382.8L289.8 384.4ZM285.3 385.6L289.9 384.1L290.8 386.7L286.2 388.2ZM281.7 389.3L286.3 387.8L287.2 390.4L282.5 391.8ZM282.4 391.6L287.1 390.1L287.8 392.7L283.2 394.1ZM286.8 390.2L291.5 388.8L292.3 391.5L287.6 392.8ZM283.1 393.8L287.8 392.5L288.5 395.1L283.8 396.3ZM287.5 392.5L292.2 391.2L292.9 393.9L288.2 395.1ZM291.9 391.3L296.6 389.9L297.4 392.7L292.7 393.9ZM288.2 394.8L292.8 393.6L293.5 396.3L288.8 397.5ZM292.6 393.6L297.3 392.4L298.0 395.2L293.3 396.3ZM279.8 399.4L284.5 398.2L285.2 400.8L280.4 401.9ZM284.3 398.3L289.0 397.1L289.6 399.7L284.9 400.8ZM288.8 397.2L293.5 396.0L294.1 398.7L289.4 399.8ZM284.8 400.6L289.6 399.5L290.2 402.1L285.4 403.1ZM289.3 399.5L294.1 398.4L294.7 401.1L289.9 402.1ZM293.8 398.5L298.5 397.4L299.2 400.2L294.4 401.2ZM294.4 400.9L299.1 399.9L299.7 402.7L294.9 403.6Z"/>
<path fill="#628062" d="M512.8 49.7L520.4 57.0L524.6 52.7L517.0 45.4ZM236.7 619.4L241.7 619.4L241.7 614.4L236.7 614.4ZM199.9 660.9L204.9 660.9L204.9 656.4L199.9 656.4Z"/>
<path fill="#30F050" d="M215.9 296.9L219.5 298.6L221.7 294.1L218.1 292.4Z"/>
<path fill="#48F858" d="M199.4 305.6L202.2 306.6L204.2 301.0L201.4 300.0ZM154.5 308.5L157.5 308.5L157.5 305.5L154.5 305.5ZM93.1 569.0L98.1 569.0L98.1 562.0L93.1 562.0Z"/>
<path fill="#20D040" d="M195.9 302.4L198.8 303.4L200.1 299.6L197.2 298.6ZM150.4 314.6L155.4 314.6L155.4 308.6L150.4 308.6Z"/>
<path fill="#A80004" d="M223.3 327.7L226.2 329.6L228.1 326.7L225.2 324.8ZM212.0 429.0L216.0 429.0L216.0 427.0L212.0 427.0ZM102.8 543.4L107.2 543.4L107.2 539.4L102.8 539.4ZM431.0 464.1L436.0 464.1L436.0 459.1L431.0 459.1Z"/>
<path fill="#8A0000" d="M227.5 330.4L230.3 332.4L232.3 329.6L229.5 327.6ZM243.6 351.0L246.6 351.0L246.6 348.0L243.6 348.0ZM93.1 350.6L96.1 350.6L96.1 347.6L93.1 347.6ZM125.0 459.0L129.0 459.0L129.0 456.0L125.0 456.0ZM170.5 459.2L173.5 459.2L173.5 456.8L170.5 456.8ZM90.0 514.7L95.0 514.7L95.0 509.7L90.0 509.7ZM210.7 515.4L215.7 515.4L215.7 510.4L210.7 510.4ZM147.3 589.8L150.3 589.8L150.3 584.8L147.3 584.8ZM106.5 606.6L111.0 606.6L111.0 602.1L106.5 602.1ZM124.5 522.5L127.5 522.5L127.5 519.5L124.5 519.5ZM138.8 528.5L141.2 528.5L141.2 525.5L138.8 525.5Z"/>
<path fill="#20F828" d="M227.1 334.2L230.3 336.6L232.7 333.4L229.5 331.0ZM170.6 530.8L174.6 530.8L174.6 526.2L170.6 526.2Z"/>
<path fill="#68F478" d="M223.4 331.9L225.9 333.6L227.6 331.1L225.1 329.4Z"/>
<path fill="#7C0000" d="M251.2 310.5L254.7 313.4L257.6 309.9L254.1 307.0ZM242.1 376.5L245.6 376.5L245.6 373.5L242.1 373.5ZM272.1 373.6L277.1 373.6L277.1 369.1L272.1 369.1ZM184.4 377.4L187.9 377.4L187.9 372.9L184.4 372.9ZM211.0 418.5L215.0 418.5L215.0 416.5L211.0 416.5ZM188.2 409.0L191.8 409.0L191.8 407.0L188.2 407.0ZM196.5 448.0L199.5 448.0L199.5 446.0L196.5 446.0ZM198.5 455.8L201.5 455.8L201.5 454.2L198.5 454.2ZM122.5 443.0L125.5 443.0L125.5 441.0L122.5 441.0ZM94.5 431.2L97.5 431.2L97.5 429.8L94.5 429.8ZM224.9 607.1L229.9 607.1L229.9 603.1L224.9 603.1ZM271.9 372.9L276.9 372.9L276.9 368.9L271.9 368.9Z"/>
<path fill="#0A800A" d="M106.1 301.6L110.1 301.6L110.1 297.6L106.1 297.6ZM141.0 302.7L146.0 302.7L146.0 297.7L141.0 297.7ZM95.0 332.6L98.5 332.6L98.5 329.1L95.0 329.1ZM180.8 553.6L185.2 553.6L185.2 549.1L180.8 549.1ZM192.8 555.6L197.3 555.6L197.3 551.1L192.8 551.1ZM105.5 543.5L108.5 543.5L108.5 540.5L105.5 540.5Z"/>
<path fill="#086808" d="M146.5 304.5L149.5 304.5L149.5 301.5L146.5 301.5ZM201.5 448.5L204.5 448.5L204.5 446.5L201.5 446.5ZM430.1 469.2L435.1 469.2L435.1 464.2L430.1 464.2ZM664.1 391.7L669.9 391.7L669.9 382.9L664.1 382.9Z"/>
<path fill="#C40006" d="M142.9 326.1L146.9 326.1L146.9 322.1L142.9 322.1ZM95.6 325.8L98.6 325.8L98.6 323.2L95.6 323.2ZM164.0 500.0L168.0 500.0L168.0 495.0L164.0 495.0Z"/>
<path fill="#E8000A" d="M168.9 343.7L170.9 343.7L170.9 338.7L168.9 338.7ZM90.0 451.5L94.0 451.5L94.0 449.5L90.0 449.5ZM363.8 445.8L368.8 445.8L368.8 441.8L363.8 441.8Z"/>
<path fill="#C8B878" d="M216.9 351.2L219.9 351.2L219.9 346.2L216.9 346.2Z"/>
<path fill="#20E030" d="M238.7 356.3L242.7 356.3L242.7 350.3L238.7 350.3Z"/>
<path fill="#20C030" d="M240.8 374.5L244.8 374.5L244.8 370.5L240.8 370.5ZM150.8 502.5L153.2 502.5L153.2 498.5L150.8 498.5ZM425.6 478.5L432.6 478.5L432.6 473.5L425.6 473.5Z"/>
<path fill="#E00030" d="M196.1 397.9L202.1 397.9L202.1 393.9L196.1 393.9Z"/>
<path fill="#FC6698" d="M199.2 395.8L201.8 395.8L201.8 393.2L199.2 393.2Z"/>
<path fill="#D00006" d="M211.4 426.6L223.4 426.6L223.4 423.6L211.4 423.6Z"/>
<path fill="#08B008" d="M85.3 374.4L91.3 374.4L91.3 368.4L85.3 368.4ZM240.9 531.5L245.9 531.5L245.9 527.5L240.9 527.5ZM149.8 589.1L153.3 589.1L153.3 583.1L149.8 583.1Z"/>
<path fill="#0A960A" d="M101.5 416.5L106.5 416.5L106.5 413.5L101.5 413.5ZM175.6 628.5L180.1 628.5L180.1 624.0L175.6 624.0Z"/>
<path fill="#4A3030" d="M161.8 423.0L164.2 423.0L164.2 421.0L161.8 421.0Z"/>
<path fill="#FC5A84" d="M153.1 502.8L165.1 502.8L165.1 495.8L153.1 495.8Z"/>
<path fill="#FFB9B9" d="M155.5 502.0L159.5 502.0L159.5 497.0L155.5 497.0Z"/>
<path fill="#B60006" d="M100.4 514.8L105.4 514.8L105.4 508.8L100.4 508.8Z"/>
<path fill="#08C008" d="M134.2 541.3L140.2 541.3L140.2 535.3L134.2 535.3Z"/>
<path fill="#855868" d="M188.9 608.6L192.4 608.6L192.4 603.1L188.9 603.1ZM386.1 450.5L385.6 455.4L390.5 455.9L391.0 451.0Z"/>
<path fill="#0A8C0A" d="M223.7 613.9L227.7 613.9L227.7 608.4L223.7 608.4Z"/>
<path fill="#2498CC" d="M177.9 616.6L181.9 616.6L181.9 612.1L177.9 612.1Z"/>
<path fill="#5A9A5A" d="M127.0 497.5L131.0 497.5L131.0 492.5L127.0 492.5Z"/>
<path fill="#886A78" d="M381.2 468.8L380.0 475.7L384.9 476.6L386.2 469.7ZM383.3 465.1L382.2 472.0L387.2 472.9L388.3 466.0ZM385.4 461.5L384.4 468.4L389.4 469.2L390.4 462.2Z"/>
<path fill="#2A7A2A" d="M428.8 483.4L432.8 483.4L432.8 478.4L428.8 478.4Z"/>
<path fill="#10D818" d="M393.7 383.5L397.7 383.5L397.7 379.5L393.7 379.5ZM391.2 387.8L399.2 387.8L399.2 383.8L391.2 383.8Z"/>
<path fill="#ffffff" d="M103.5 338.2L101.2 334.0L103.1 332.9L105.3 337.2ZM101.3 334.2L98.9 330.0L100.9 328.9L103.2 333.2ZM105.1 337.3L102.9 333.1L104.8 332.1L107.0 336.4ZM103.0 333.3L100.7 329.0L102.7 328.0L104.9 332.3ZM100.8 329.2L98.5 324.9L100.6 323.9L102.8 328.2ZM104.7 332.4L102.5 328.1L104.5 327.1L106.6 331.4ZM102.6 328.3L100.4 324.0L102.5 322.9L104.6 327.3ZM106.4 331.5L104.3 327.2L106.3 326.2L108.3 330.6ZM110.1 334.9L108.0 330.5L110.0 329.6L112.0 334.0ZM106.2 326.5L104.1 322.1L106.3 321.2L108.2 325.6ZM111.8 334.1L109.8 329.7L111.8 328.8L113.7 333.3ZM109.9 329.9L107.9 325.5L110.0 324.6L111.9 329.0ZM108.0 325.7L106.0 321.3L108.2 320.3L110.1 324.8ZM111.7 329.1L109.8 324.7L111.8 323.8L113.7 328.3ZM109.9 324.9L108.0 320.4L110.1 319.5L111.9 324.0ZM133.3 360.3L131.9 355.7L133.4 355.3L134.7 359.9ZM132.0 355.9L130.5 351.3L132.1 350.8L133.4 355.5ZM130.6 351.5L129.2 346.9L130.8 346.4L132.2 351.1ZM135.8 359.6L134.5 354.9L136.0 354.6L137.2 359.3ZM134.6 355.2L133.3 350.5L134.9 350.1L136.1 354.8ZM133.4 350.7L132.1 346.1L133.8 345.6L135.0 350.3ZM137.0 359.3L135.8 354.6L137.3 354.2L138.4 359.0ZM135.9 354.8L134.7 350.1L136.3 349.8L137.4 354.5ZM134.8 350.4L133.6 345.7L135.3 345.3L136.4 350.0ZM138.3 359.0L137.2 354.3L138.7 353.9L139.7 358.7ZM137.2 354.5L136.1 349.8L137.7 349.4L138.7 354.2ZM136.2 350.0L135.1 345.3L136.8 344.9L137.8 349.7ZM135.2 345.6L134.1 340.8L135.8 340.4L136.8 345.2ZM138.6 354.2L137.5 349.5L139.1 349.2L140.1 353.9ZM136.6 345.2L135.6 340.5L137.4 340.1L138.3 344.9ZM140.8 358.5L139.9 353.7L141.4 353.4L142.2 358.2ZM139.9 354.0L139.0 349.2L140.6 348.9L141.4 353.7ZM139.0 349.4L138.1 344.7L139.8 344.4L140.6 349.1ZM141.2 353.7L140.4 348.9L142.0 348.7L142.7 353.5ZM140.4 349.2L139.6 344.4L141.3 344.1L142.0 348.9ZM139.6 344.6L138.8 339.9L140.6 339.6L141.3 344.4ZM143.9 353.3L143.3 348.5L144.9 348.3L145.5 353.1ZM143.3 348.7L142.6 343.9L144.3 343.7L144.9 348.5ZM89.6 379.8L85.8 376.8L86.8 375.5L90.6 378.5ZM90.5 378.7L86.7 375.6L87.8 374.3L91.5 377.4ZM91.4 377.5L87.7 374.4L88.8 373.1L92.5 376.3ZM87.9 374.6L84.2 371.5L85.3 370.1L89.0 373.3ZM95.8 379.5L92.2 376.3L93.2 375.1L96.8 378.3ZM92.4 376.4L88.7 373.3L89.8 372.0L93.4 375.2ZM88.9 373.4L85.2 370.3L86.4 368.9L90.0 372.2ZM90.9 371.2L87.4 367.9L88.6 366.5L92.1 369.9ZM87.5 368.0L84.0 364.7L85.3 363.3L88.8 366.7ZM95.3 373.2L91.8 369.9L93.0 368.7L96.4 372.1ZM92.0 370.1L88.5 366.7L89.7 365.4L93.2 368.8ZM89.8 365.7L86.3 362.3L87.7 361.0L91.1 364.5ZM90.9 364.6L87.5 361.1L88.9 359.8L92.2 363.3ZM100.3 314.0L98.3 309.6L100.7 308.5L102.6 313.0ZM104.8 307.1L103.0 302.6L105.5 301.6L107.2 306.1ZM103.1 302.8L101.2 298.3L103.8 297.3L105.6 301.8ZM153.9 375.5L153.8 370.7L155.0 370.7L155.0 375.5ZM156.8 375.5L156.9 370.7L158.1 370.7L157.8 375.6ZM160.6 375.8L161.1 371.0L162.3 371.1L161.7 375.9ZM163.5 376.2L164.2 371.4L165.4 371.6L164.5 376.3ZM164.4 376.3L165.3 371.6L166.4 371.8L165.5 376.5ZM165.4 376.5L166.3 371.7L167.4 372.0L166.4 376.7ZM166.3 376.7L167.3 371.9L168.5 372.2L167.4 376.9ZM174.9 394.5L177.3 390.2L178.1 390.7L175.6 394.9ZM176.2 395.2L178.7 391.0L179.4 391.5L176.9 395.6ZM176.8 395.6L179.4 391.5L180.1 391.9L177.5 396.0ZM175.4 400.2L178.2 396.1L178.8 396.6L176.0 400.6ZM188.8 387.2L191.8 383.3L192.7 384.1L189.7 387.8ZM194.1 385.5L197.3 381.9L198.2 382.7L195.0 386.3ZM194.9 386.2L198.1 382.6L199.0 383.5L195.7 387.0ZM189.4 393.7L192.7 390.1L193.5 390.9L190.1 394.3ZM192.5 390.3L195.8 386.7L196.7 387.5L193.3 391.0ZM195.6 386.9L198.9 383.4L199.9 384.2L196.5 387.7ZM190.0 394.3L193.4 390.8L194.2 391.5L190.7 395.0ZM193.2 391.0L196.6 387.5L197.4 388.3L194.0 391.7ZM196.4 387.6L199.8 384.1L200.7 385.0L197.2 388.5ZM193.9 391.6L197.3 388.2L198.1 389.0L194.6 392.4ZM197.1 388.4L200.6 384.9L201.5 385.8L198.0 389.2ZM191.3 395.5L194.7 392.1L195.5 392.9L191.9 396.2ZM194.6 392.3L198.1 388.9L198.9 389.8L195.3 393.1ZM191.9 396.2L195.4 392.8L196.1 393.6L192.5 396.9ZM195.2 393.0L198.8 389.7L199.6 390.6L196.0 393.8ZM196.5 394.4L200.2 391.3L200.9 392.1L197.2 395.3ZM197.1 395.2L200.9 392.1L201.6 393.0L197.8 396.0ZM104.9 471.3L101.1 474.3L100.3 473.3L104.1 470.3ZM101.3 474.2L97.6 477.2L96.7 476.1L100.5 473.1ZM104.2 470.4L100.4 473.4L99.6 472.3L103.4 469.4ZM103.5 469.5L99.6 472.4L98.8 471.3L102.8 468.5ZM99.8 472.3L96.0 475.2L95.1 474.0L99.0 471.2ZM102.8 468.6L98.9 471.5L98.1 470.4L102.1 467.6ZM99.1 471.3L95.2 474.2L94.4 473.0L98.3 470.2ZM102.2 467.7L98.2 470.5L97.4 469.4L101.5 466.7ZM98.4 470.3L94.5 473.1L93.6 471.9L97.7 469.2ZM101.5 466.8L97.5 469.5L96.8 468.4L100.9 465.7ZM100.9 465.8L96.9 468.5L96.1 467.3L100.2 464.8ZM107.6 487.1L104.5 490.8L103.4 489.9L106.6 486.2ZM106.7 486.3L103.5 490.0L102.3 488.9L105.6 485.3ZM105.7 485.4L102.5 489.1L101.3 488.0L104.6 484.5ZM107.9 481.2L104.6 484.8L103.5 483.8L106.9 480.3ZM104.8 484.6L101.5 488.1L100.3 487.1L103.7 483.6ZM103.8 483.7L100.5 487.2L99.4 486.1L102.8 482.7ZM102.9 482.8L99.5 486.2L98.4 485.1L101.9 481.8ZM216.0 471.8L220.0 474.5L219.1 475.8L215.1 473.0ZM219.8 474.4L223.8 477.1L222.9 478.4L218.9 475.6ZM211.5 470.2L215.4 473.0L214.6 474.2L210.7 471.3ZM215.2 472.9L219.2 475.6L218.3 476.9L214.4 474.0ZM210.8 471.2L214.7 474.0L213.8 475.2L210.0 472.3ZM214.5 473.9L218.4 476.7L217.5 478.0L213.6 475.1ZM218.2 476.6L222.1 479.4L221.2 480.8L217.3 477.8ZM210.0 472.2L213.9 475.1L213.0 476.2L209.2 473.2ZM213.7 474.9L217.6 477.8L216.7 479.1L212.9 476.1ZM217.4 477.7L221.3 480.6L220.3 481.9L216.5 478.9ZM209.3 473.1L213.1 476.1L212.2 477.2L208.5 474.2ZM212.9 476.0L216.8 478.9L215.8 480.1L212.0 477.1ZM212.1 477.0L215.9 480.0L214.9 481.2L211.2 478.1ZM209.6 479.9L213.3 483.1L212.2 484.3L208.7 481.0ZM235.3 450.6L240.0 451.8L239.5 453.5L234.9 452.2ZM230.5 450.9L235.1 452.1L234.7 453.7L230.0 452.3ZM234.5 453.4L239.2 454.8L238.7 456.4L234.1 455.0ZM234.1 454.8L238.7 456.2L238.2 457.9L233.6 456.4ZM237.6 459.1L242.2 460.6L241.6 462.3L237.0 460.7ZM232.7 458.9L237.3 460.6L236.7 462.2L232.2 460.5ZM232.2 460.3L236.8 462.0L236.1 463.6L231.6 461.8ZM243.9 468.4L248.3 470.2L247.5 472.1L243.1 470.1ZM243.2 469.9L247.6 471.9L246.8 473.7L242.4 471.6ZM238.3 469.5L242.7 471.5L241.9 473.2L237.5 471.1ZM241.8 473.0L246.1 475.1L245.2 476.9L240.9 474.6Z"/>
<path fill="#5A7C58" d="M662.4 373.5L667.9 373.5L667.9 365.5L662.4 365.5ZM455.2 737.0L460.2 742.0L464.4 737.8L459.4 732.8Z"/>
<path fill="#887078" d="M679.0 409.4L683.5 409.4L683.5 400.4L679.0 400.4ZM680.4 436.6L684.9 436.6L684.9 428.1L680.4 428.1Z"/>
<path fill="#F878A8" d="M648.9 648.9L654.3 650.1L656.3 640.3L650.9 639.1Z"/>
<path fill="#D00410" d="M979.6 793.7L983.8 796.1L992.0 781.9L987.8 779.5Z"/>
<path fill="#10C818" d="M722.0 1046.0L725.5 1049.5L734.0 1041.0L730.5 1037.5Z"/>
<circle cx="339.2" cy="291.7" r="3" fill="#0AA00A"/>
<circle cx="154.9" cy="430.7" r="5.3" fill="#ff0000" stroke="#000" stroke-width="1" shape-rendering="geometricPrecision"/>
</g>
<g id="borders" fill="none" stroke-linejoin="round" stroke-linecap="round">
<g stroke="#808080" stroke-width="1.55">
<path d="M371.9 356.1 L382.4 356.1 L389.9 352.4 L398.7 353.6 L412.4 346.9 L418.6 339.9 L422.9 329.9 L420.4 321.1 L423.6 316.9 L429.9 321.9 L437.4 319.4 L447.9 311.1 L453.6 312.4 L459.9 321.1 L462.3 329.9 L467.3 334.4"/>
<path d="M469.2 335.3 L470.0 335.8 L476.7 336.7 L483.3 340.0 L490.0 345.8 L497.5 344.1 L505.8 342.5 L510.8 345.0 L512.0 350.8 L509.1 355.8 L500.8 359.1 L495.0 364.1 L492.5 370.8 L493.3 380.0 L498.3 387.4 L500.8 394.9 L501.6 401.6 L505.8 398.3 L507.5 393.3 L515.0 391.9 L520.0 381.6 L526.6 369.1 L531.6 365.0 L535.3 360.3 L540.8 364.6 L548.3 364.1 L554.9 371.6 L559.9 375.0 L566.6 374.6 L574.1 370.3 L575.2 386.6 L579.6 386.9 L579.9 393.3 L589.1 393.3"/>
<path d="M501.6 401.6 L500.3 406.6 L501.6 414.9 L497.5 424.9 L493.3 432.4 L487.5 436.6 L484.2 444.9 L482.5 453.2 L481.7 461.5 L476.7 468.2 L470.0 471.2 L469.2 471.9"/>
<path d="M540.8 364.6 L539.9 376.6 L537.4 391.6 L534.9 403.3 L535.8 413.3 L539.9 423.2 L544.9 429.9 L547.4 436.6 L556.6 441.6 L562.4 448.2 L569.9 451.6 L576.6 457.4 L584.9 463.2 L593.2 476.5 L599.1 470.7 L603.2 464.9 L611.5 460.7 L619.9 458.2 L628.2 457.9 L627.4 452.4"/>
<path d="M337.0 471.2 L344.9 473.7 L352.4 478.7 L359.9 478.7 L367.4 475.0 L374.9 462.5 L381.2 453.7 L387.4 461.2 L394.9 472.5 L399.9 478.7 L404.9 477.5 L408.6 465.0 L411.1 461.2 L413.6 467.5 L414.9 477.5 L419.9 488.7 L428.6 486.2 L431.1 481.2 L436.1 477.0 L444.9 483.7 L452.4 486.2 L464.8 495.5"/>
<path d="M469.8 472.5 L467.3 487.5 L464.8 495.5 L457.4 500.0 L456.1 509.9 L457.9 522.4 L453.6 527.4 L461.1 530.4 L477.3 523.7 L491.1 522.4"/>
<path d="M491.1 522.4 L489.8 528.7 L492.3 538.7 L483.6 547.4 L479.8 557.4 L469.8 562.4 L467.3 569.9 L470.3 577.4 L464.3 584.9 L461.1 589.9 L462.3 596.1 L469.8 609.9 L472.8 617.4 L469.8 627.8 L472.3 639.8 L473.6 649.8 L479.8 653.6 L489.8 652.3 L502.3 656.8 L512.3 653.6 L523.5 656.8 L533.5 659.8"/>
<path d="M469.8 627.8 L459.9 629.3 L449.9 632.3 L439.9 639.8 L429.9 647.8 L419.9 639.8 L411.1 634.8 L403.6 638.6"/>
<path d="M490.0 521.4 L492.5 521.2 L505.0 519.9 L512.5 516.9 L521.2 522.4 L528.0 519.9 L532.5 527.4 L536.2 533.7 L543.7 537.4 L552.4 534.4 L559.9 526.2 L572.4 522.4 L584.9 526.2 L589.9 523.7 L596.2 524.9 L597.4 534.9 L602.4 544.9 L609.9 552.4 L619.9 553.6 L627.4 557.4 L629.9 563.6 L639.9 547.4 L649.9 532.4 L649.9 527.4 L644.4 519.9 L652.4 501.9 L664.8 502.4 L677.3 503.7 L678.6 496.2 L679.8 503.7 L676.1 504.9 L676.1 511.9 L683.6 512.4"/>
<path d="M629.9 563.6 L634.9 568.6 L643.6 569.9 L649.9 577.4 L653.6 587.4 L652.4 597.4 L649.9 606.1 L659.9 608.6 L672.3 616.1 L682.3 624.3 L689.8 618.6 L701.1 614.8 L714.8 616.1 L721.0 611.1 L721.0 603.6"/>
<path d="M721.1 602.4 L726.1 597.9 L733.6 598.7 L742.4 607.4 L751.1 617.4 L756.1 617.9 L762.4 608.6 L767.9 605.4 L782.3 609.9 L792.3 614.9 L799.8 617.4"/>
<path d="M649.9 606.1 L639.9 602.3 L624.9 601.8 L614.9 612.3 L606.1 619.8 L601.1 628.6 L593.7 632.3 L592.4 644.8 L589.9 653.6 L583.7 661.8"/>
<path d="M583.7 661.8 L574.9 663.5 L562.4 662.3 L551.2 657.3 L540.0 657.3 L531.2 662.3"/>
<path d="M583.6 661.2 L594.9 662.5 L603.6 662.0 L612.4 666.2 L629.8 665.0 L643.6 666.2 L652.3 678.7 L657.3 688.7 L661.1 702.4 L668.6 714.4 L673.6 714.9 L676.1 724.4 L683.5 724.9 L689.8 728.7 L697.3 736.9 L708.5 737.4 L714.8 743.6 L718.5 749.9 L717.3 756.1 L712.3 756.1 L714.8 758.6"/>
<path d="M676.1 724.4 L666.1 729.9 L657.3 738.7 L654.8 747.4 L659.8 751.1 L667.3 756.1 L662.3 761.1 L652.3 761.1 L644.8 766.1 L639.8 772.9 L632.3 776.1 L623.6 777.9 L621.1 789.9 L618.6 794.9 L619.4 808.6 L624.8 819.8 L626.8 836.1"/>
<path d="M619.4 808.6 L604.9 813.6 L589.9 818.6 L582.4 824.8 L577.4 827.8 L576.9 821.1 L581.1 811.1 L582.4 803.6 L577.4 796.1 L567.4 789.9 L557.4 785.4 L547.4 783.6 L542.4 784.9 L539.9 779.9 L536.2 776.1 L533.7 768.6 L526.2 766.1 L522.9 757.4 L519.9 755.4 L509.9 757.4 L500.0 759.4 L490.0 763.6 L477.5 767.4"/>
<path d="M477.5 767.4 L479.5 756.1 L475.0 747.4 L472.5 739.9 L480.0 737.4 L492.5 727.4 L502.4 714.9 L505.4 704.9 L511.2 694.9 L519.9 691.2 L527.4 694.9 L528.7 698.7 L537.4 699.9 L537.4 687.4 L532.4 673.7 L530.4 666.2 L536.2 658.7"/>
<path d="M391.2 776.2 L396.2 780.4 L400.4 783.7 L401.2 797.4 L407.9 798.7 L411.2 791.9 L424.9 784.9 L436.1 780.4 L443.6 776.2 L451.1 773.2 L457.4 776.2 L463.6 778.7 L469.9 773.7 L477.4 766.9"/>
</g>
<g stroke="#000" stroke-width="3.5">
<path d="M669.0 37.5 L666.0 45.5 L661.0 51.2 L660.3 58.7 L663.5 65.0 L661.0 70.0 L654.8 78.7 L648.6 80.0 L641.8 77.5 L634.8 82.5 L627.3 83.7 L619.8 87.5 L613.6 88.7 L611.1 92.5 L607.3 93.7 L603.6 106.2 L597.4 108.7 L591.1 107.9 L586.9 112.4 L588.6 118.7 L582.4 121.2 L581.9 126.2 L587.9 128.7 L592.4 134.9 L594.9 141.2 L594.1 149.9 L594.9 157.4 L598.6 163.6 L594.9 167.9 L587.4 166.9 L579.9 167.4 L576.9 173.6 L572.9 168.6 L569.4 168.6 L567.4 176.1 L564.4 177.4 L566.1 186.1 L562.4 189.9 L559.4 191.9 L563.6 196.1 L567.4 197.4 L569.9 194.9 L573.6 197.4 L574.4 204.4 L569.9 210.4 L563.9 211.9"/>
<path d="M563.9 211.9 L556.9 211.9 L549.4 208.6 L554.9 192.4 L552.9 182.9 L539.9 175.4 L526.7 173.6 L524.4 186.9 L521.2 189.9 L514.4 189.4 L503.7 185.6 L493.9 179.9 L490.2 164.1 L475.5 169.1 L465.0 170.6 L452.5 175.4 L444.2 211.6 L420.0 230.3 L409.9 238.0 L407.9 248.7 L402.9 267.9 L389.9 274.4 L382.9 284.9 L383.7 297.4 L381.2 312.4 L374.9 325.4 L366.2 331.1 L361.9 336.1 L362.4 347.4 L368.7 356.1 L372.4 362.3 L371.9 371.1 L364.9 372.3 L354.9 375.3 L352.4 386.1 L343.7 383.6 L338.7 386.8 L332.0 387.8 L330.7 406.1 L326.2 418.6 L321.2 432.3 L313.7 437.3 L308.7 443.5 L308.7 446.2 L312.5 452.0 L325.0 457.5 L336.2 465.0 L336.2 471.2 L331.2 471.2 L327.5 478.0 L317.5 478.7 L317.0 491.2 L313.0 493.0 L312.5 506.2 L310.0 511.2 L312.0 519.9 L310.5 528.7 L315.0 536.2 L316.2 549.9 L332.5 551.2 L340.0 559.9 L352.4 582.4 L362.4 603.6 L364.9 621.1 L374.9 622.3 L382.4 619.9 L388.7 620.3 L397.4 630.3 L402.4 638.6 L394.9 644.8 L391.2 652.3 L391.2 663.6 L396.2 671.1 L404.9 676.1 L416.9 681.0 L413.6 696.0 L414.4 707.3 L413.7 708.7 L399.9 710.0 L396.2 723.7 L391.2 731.2 L389.9 742.5 L381.2 748.7 L378.7 756.2 L391.2 761.2 L391.9 772.4 L382.4 782.4 L366.2 796.2 L361.2 795.4 L353.7 801.2 L352.0 804.4 L355.0 809.9 L366.9 806.9 L369.9 809.9 L372.4 817.4 L367.4 822.4 L367.9 827.4 L374.9 834.9 L386.2 845.4 L404.9 849.9 L416.2 845.4 L424.9 847.9 L437.4 847.9 L444.9 853.6 L454.4 856.1 L457.9 879.9 L463.6 886.8 L461.1 894.3 L474.9 891.8 L491.1 894.3 L492.3 897.3 L501.1 899.3 L511.1 881.8 L519.8 881.8 L529.8 891.1 L539.8 893.6 L539.3 878.6 L543.5 874.9 L553.5 872.4 L558.5 856.9 L568.5 858.6 L576.0 853.6 L576.8 843.6 L587.0 838.7 L588.7 839.9 L614.5 839.9 L615.0 837.4 L627.4 838.7 L631.2 835.4 L652.4 843.7 L654.9 852.4 L661.2 860.4 L667.9 859.9 L664.9 866.1 L681.1 871.1 L691.1 881.1 L697.4 879.9 L702.4 881.1 L711.1 887.4 L711.9 869.9 L711.9 854.9 L710.4 839.9 L707.4 827.4 L704.9 817.4 L706.1 812.4 L712.4 806.2 L718.6 798.7 L721.9 791.2 L718.6 786.2 L709.9 780.0 L705.4 775.0 L709.9 768.7 L718.6 770.0 L719.9 767.5 L716.9 761.2 L719.9 753.7 L724.9 747.5 L732.4 745.0 L738.6 737.5 L746.1 730.0 L749.9 726.0 L753.6 711.1 L759.4 693.6 L758.6 688.6 L751.1 686.1 L750.4 681.1 L756.1 674.3 L766.1 666.1 L773.6 655.4 L783.6 651.1 L789.8 646.1 L801.1 636.1 L802.8 632.4 L797.3 627.4 L795.3 622.9 L799.8 622.4 L805.3 627.4 L808.6 624.4 L804.8 621.1 L800.3 616.1 L799.3 604.9 L799.3 595.4 L804.8 591.2 L809.8 586.2 L809.3 579.9 L804.8 573.7 L808.6 566.2 L803.6 562.4 L802.3 556.9 L806.8 552.9 L813.6 549.9 L817.8 543.7 L816.8 538.0 L811.8 535.0 L809.3 538.7 L806.1 546.2 L801.1 538.0 L794.8 536.2 L788.6 534.5 L783.6 528.0 L778.6 525.5 L774.9 528.7 L769.4 536.2 L761.1 536.2 L758.6 533.0 L751.1 537.0 L749.4 532.0 L737.4 528.7 L731.1 525.0 L719.9 510.0 L709.9 497.5 L699.9 497.5 L693.7 501.2 L690.4 510.0 L684.9 511.2 L681.2 506.2 L681.9 496.2 L677.4 490.0 L674.9 482.0 L677.4 482.3 L674.9 477.8 L669.9 481.1 L670.0 480.7 L665.7 479.9 L663.2 473.2 L656.5 469.0 L651.5 470.7 L642.4 466.5 L636.5 456.6 L631.5 452.4 L626.5 448.2 L624.9 441.6 L621.5 437.4 L625.7 433.2 L622.4 426.6 L615.7 424.1 L619.0 418.3 L621.5 412.4 L619.9 408.3 L614.9 401.6 L619.0 397.4 L611.5 395.8 L604.9 393.3 L602.4 398.3 L599.1 389.1 L598.2 380.0 L594.9 379.1 L592.4 384.1 L593.2 393.3 L589.9 394.1 L589.1 388.3 L584.9 381.6 L584.1 380.0 L581.6 374.9 L581.6 368.2 L584.9 361.9 L579.9 360.7 L574.9 358.2 L571.6 353.2 L566.6 351.5 L564.1 349.0 L569.1 348.2 L570.8 343.2 L570.8 337.4 L566.6 336.6 L563.3 333.2 L559.1 329.1 L566.6 329.1 L568.3 324.1 L564.1 322.4 L558.3 319.1 L557.5 314.9 L560.0 310.7 L560.3 305.7 L556.6 299.9 L552.5 293.3 L553.3 287.4 L550.8 290.8 L546.6 289.1 L546.6 283.3 L549.1 281.6 L553.3 277.4 L557.5 273.3 L555.0 270.8 L550.0 271.6 L551.6 265.8 L551.3 258.3 L553.3 254.1 L559.6 253.3 L555.0 250.8 L555.8 245.8 L561.6 243.3 L558.3 238.3 L561.6 234.1 L556.6 230.8 L557.5 224.1 L562.4 221.6 L563.3 211.7 L563.9 211.9"/>
<path d="M354.0 801.9 L352.3 799.2 L339.8 794.9 L326.0 784.9 L317.3 787.9 L316.1 805.4 L307.3 808.7 L298.6 802.9 L292.8 806.9 L280.6 808.2 L272.3 801.9 L258.6 798.7 L253.6 795.4 L243.6 797.9 L236.1 803.7 L236.1 807.9 L226.1 817.4 L228.6 827.4 L222.4 841.1 L219.9 841.9 L209.9 826.1 L194.9 820.4 L184.9 819.9 L176.9 831.9 L169.9 836.1 L151.9 841.1 L140.4 841.1 L131.2 850.4 L128.0 847.4 L126.2 838.6 L115.7 829.9 L126.2 821.9 L127.5 811.2 L112.0 795.4 L115.0 794.4 L120.0 781.2 L110.5 777.9 L104.5 758.7 L105.0 754.5 L85.5 735.0 L77.5 727.0"/>
<path d="M711.1 887.4 L713.6 879.4 L719.9 881.9 L729.9 882.4 L737.4 879.4 L743.6 873.6 L746.1 871.1 L752.3 871.1 L756.1 877.4 L759.8 879.9 L768.6 883.6 L775.3 881.1 L779.8 886.1 L788.3 895.0 L796.7 896.7 L806.6 905.8 L814.1 911.3 L820.0 911.6 L825.0 914.1 L830.0 920.0 L835.0 927.5 L830.0 929.1 L825.0 931.6 L821.6 936.6 L823.0 944.1 L830.0 946.6 L830.8 951.6 L835.0 953.3 L838.3 957.9 L847.4 956.6 L851.6 961.6 L854.9 961.6 L853.3 969.9 L851.6 978.3 L860.8 975.3 L864.6 979.9 L861.3 986.6 L857.4 993.2 L854.9 996.6 L850.8 991.6 L845.8 987.4 L839.1 989.9 L839.6 998.2 L844.9 1004.1 L848.3 1010.7 L851.6 1012.4 L855.8 1009.9 L859.9 1014.9 L854.9 1022.4 L858.3 1027.4 L864.1 1032.4 L871.6 1043.2 L876.6 1042.4 L879.9 1045.7 L882.4 1049.9"/>
</g>
</g>
</g>
<rect x="85.5" y="45.5" width="907.0" height="1001.0" fill="none" stroke="#000" stroke-width="1.1"/>
<rect x="1050.5" y="95.50" width="45.0" height="15.52" fill="#FF9C5C"/>
<rect x="1050.5" y="110.52" width="45.0" height="15.52" fill="#FFA562"/>
<rect x="1050.5" y="125.53" width="45.0" height="15.52" fill="#FFAE6A"/>
<rect x="1050.5" y="140.55" width="45.0" height="15.52" fill="#FFB872"/>
<rect x="1050.5" y="155.57" width="45.0" height="15.52" fill="#FFC27C"/>
<rect x="1050.5" y="170.58" width="45.0" height="15.52" fill="#FFD088"/>
<rect x="1050.5" y="185.60" width="45.0" height="15.52" fill="#FFE6A0"/>
<rect x="1050.5" y="200.62" width="45.0" height="15.52" fill="#FFD4B0"/>
<rect x="1050.5" y="215.63" width="45.0" height="15.52" fill="#FFB9B9"/>
<rect x="1050.5" y="230.65" width="45.0" height="15.52" fill="#FF9AC8"/>
<rect x="1050.5" y="245.67" width="45.0" height="15.52" fill="#FF88CC"/>
<rect x="1050.5" y="260.68" width="45.0" height="15.52" fill="#FC78B6"/>
<rect x="1050.5" y="275.70" width="45.0" height="15.52" fill="#FC6698"/>
<rect x="1050.5" y="290.72" width="45.0" height="15.52" fill="#FC5A84"/>
<rect x="1050.5" y="305.73" width="45.0" height="15.52" fill="#FC5072"/>
<rect x="1050.5" y="320.75" width="45.0" height="15.52" fill="#FC4862"/>
<rect x="1050.5" y="335.77" width="45.0" height="15.52" fill="#F50008"/>
<rect x="1050.5" y="350.78" width="45.0" height="15.52" fill="#E8000A"/>
<rect x="1050.5" y="365.80" width="45.0" height="15.52" fill="#DC0008"/>
<rect x="1050.5" y="380.82" width="45.0" height="15.52" fill="#D00006"/>
<rect x="1050.5" y="395.83" width="45.0" height="15.52" fill="#C40006"/>
<rect x="1050.5" y="410.85" width="45.0" height="15.52" fill="#B60006"/>
<rect x="1050.5" y="425.87" width="45.0" height="15.52" fill="#A80004"/>
<rect x="1050.5" y="440.88" width="45.0" height="15.52" fill="#980002"/>
<rect x="1050.5" y="455.90" width="45.0" height="15.52" fill="#8A0000"/>
<rect x="1050.5" y="470.92" width="45.0" height="15.52" fill="#7C0000"/>
<rect x="1050.5" y="485.93" width="45.0" height="15.52" fill="#83434E"/>
<rect x="1050.5" y="500.95" width="45.0" height="15.52" fill="#855868"/>
<rect x="1050.5" y="515.97" width="45.0" height="15.52" fill="#886A78"/>
<rect x="1050.5" y="530.98" width="45.0" height="15.52" fill="#8A7C7C"/>
<rect x="1050.5" y="546.00" width="45.0" height="15.52" fill="#6B8570"/>
<rect x="1050.5" y="561.02" width="45.0" height="15.52" fill="#628062"/>
<rect x="1050.5" y="576.03" width="45.0" height="15.52" fill="#5A7C58"/>
<rect x="1050.5" y="591.05" width="45.0" height="15.52" fill="#075C05"/>
<rect x="1050.5" y="606.07" width="45.0" height="15.52" fill="#086808"/>
<rect x="1050.5" y="621.08" width="45.0" height="15.52" fill="#087008"/>
<rect x="1050.5" y="636.10" width="45.0" height="15.52" fill="#0A800A"/>
<rect x="1050.5" y="651.12" width="45.0" height="15.52" fill="#0A8C0A"/>
<rect x="1050.5" y="666.13" width="45.0" height="15.52" fill="#0A960A"/>
<rect x="1050.5" y="681.15" width="45.0" height="15.52" fill="#0AA00A"/>
<rect x="1050.5" y="696.17" width="45.0" height="15.52" fill="#08B008"/>
<rect x="1050.5" y="711.18" width="45.0" height="15.52" fill="#08C008"/>
<rect x="1050.5" y="726.20" width="45.0" height="15.52" fill="#06D006"/>
<rect x="1050.5" y="741.22" width="45.0" height="15.52" fill="#04E404"/>
<rect x="1050.5" y="756.23" width="45.0" height="15.52" fill="#20F828"/>
<rect x="1050.5" y="771.25" width="45.0" height="15.52" fill="#48F858"/>
<rect x="1050.5" y="786.27" width="45.0" height="15.52" fill="#68F478"/>
<rect x="1050.5" y="801.28" width="45.0" height="15.52" fill="#90F0B0"/>
<rect x="1050.5" y="816.30" width="45.0" height="15.52" fill="#B8EEF0"/>
<rect x="1050.5" y="831.32" width="45.0" height="15.52" fill="#A8EAEE"/>
<rect x="1050.5" y="846.33" width="45.0" height="15.52" fill="#98E8EC"/>
<rect x="1050.5" y="861.35" width="45.0" height="15.52" fill="#84E6E8"/>
<rect x="1050.5" y="876.37" width="45.0" height="15.52" fill="#70E4E6"/>
<rect x="1050.5" y="891.38" width="45.0" height="15.52" fill="#60E2E4"/>
<rect x="1050.5" y="906.40" width="45.0" height="15.52" fill="#4CE0E2"/>
<rect x="1050.5" y="921.42" width="45.0" height="15.52" fill="#3CDEE0"/>
<rect x="1050.5" y="936.43" width="45.0" height="15.52" fill="#30DCDE"/>
<rect x="1050.5" y="951.45" width="45.0" height="15.52" fill="#28B4D0"/>
<rect x="1050.5" y="966.47" width="45.0" height="15.52" fill="#2498CC"/>
<rect x="1050.5" y="981.48" width="45.0" height="15.52" fill="#2080C4"/>
<rect x="1050.5" y="95.5" width="45.0" height="901.0" fill="none" stroke="#000" stroke-width="1"/>
<line x1="1095.5" x2="1100.5" y1="95.50" y2="95.50" stroke="#000" stroke-width="1.1"/>
<line x1="1095.5" x2="1100.5" y1="170.58" y2="170.58" stroke="#000" stroke-width="1.1"/>
<line x1="1095.5" x2="1100.5" y1="245.67" y2="245.67" stroke="#000" stroke-width="1.1"/>
<line x1="1095.5" x2="1100.5" y1="320.75" y2="320.75" stroke="#000" stroke-width="1.1"/>
<line x1="1095.5" x2="1100.5" y1="395.83" y2="395.83" stroke="#000" stroke-width="1.1"/>
<line x1="1095.5" x2="1100.5" y1="470.92" y2="470.92" stroke="#000" stroke-width="1.1"/>
<line x1="1095.5" x2="1100.5" y1="546.00" y2="546.00" stroke="#000" stroke-width="1.1"/>
<line x1="1095.5" x2="1100.5" y1="621.08" y2="621.08" stroke="#000" stroke-width="1.1"/>
<line x1="1095.5" x2="1100.5" y1="696.17" y2="696.17" stroke="#000" stroke-width="1.1"/>
<line x1="1095.5" x2="1100.5" y1="771.25" y2="771.25" stroke="#000" stroke-width="1.1"/>
<line x1="1095.5" x2="1100.5" y1="846.33" y2="846.33" stroke="#000" stroke-width="1.1"/>
<line x1="1095.5" x2="1100.5" y1="921.42" y2="921.42" stroke="#000" stroke-width="1.1"/>
<line x1="1095.5" x2="1100.5" y1="996.50" y2="996.50" stroke="#000" stroke-width="1.1"/>
<path d="M425.8 378.5H433.2" stroke="#000" stroke-width="2.3" fill="none"/><path d="M429.5 374.2V382.9" stroke="#000" stroke-width="1.15" fill="none"/>
<path d="M535.9 498.9H543.3" stroke="#000" stroke-width="2.3" fill="none"/><path d="M539.6 494.6V503.3" stroke="#000" stroke-width="1.15" fill="none"/>
<path d="M606.8 721.5H614.2" stroke="#000" stroke-width="2.3" fill="none"/><path d="M610.5 717.2V725.9" stroke="#000" stroke-width="1.15" fill="none"/>
<path d="M463.8 848.6H471.2" stroke="#000" stroke-width="2.3" fill="none"/><path d="M467.5 844.3V853.0" stroke="#000" stroke-width="1.15" fill="none"/>
</svg>
<div class="title">23.03.2026 09:08 UTC</div>
<div class="info"><div>Product: 1.2° Radial Velocity<br>Data: RMIB</div></div>
<div class="latl" style="top:86px">50.25°N</div><div class="latl" style="top:237px">50.1°N</div><div class="latl" style="top:388px">49.95°N</div><div class="latl" style="top:538px">49.8°N</div><div class="latl" style="top:688px">49.65°N</div><div class="latl" style="top:837px">49.5°N</div><div class="latl" style="top:986px">49.35°N</div>
<div class="lonl" style="left:175px">5.6°E</div><div class="lonl" style="left:305px">5.8°E</div><div class="lonl" style="left:434px">6°E</div><div class="lonl" style="left:564px">6.2°E</div><div class="lonl" style="left:693px">6.4°E</div><div class="lonl" style="left:823px">6.6°E</div>
<div class="cbl" style="top:80.9px">60</div>
<div class="cbl" style="top:156.0px">50</div>
<div class="cbl" style="top:231.1px">40</div>
<div class="cbl" style="top:306.1px">30</div>
<div class="cbl" style="top:381.2px">20</div>
<div class="cbl" style="top:456.3px">10</div>
<div class="cbl" style="top:531.4px">0</div>
<div class="cbl" style="top:606.5px"><i></i>10</div>
<div class="cbl" style="top:681.6px"><i></i>20</div>
<div class="cbl" style="top:756.6px"><i></i>30</div>
<div class="cbl" style="top:831.7px"><i></i>40</div>
<div class="cbl" style="top:906.8px"><i></i>50</div>
<div class="cbl" style="top:981.9px"><i></i>60</div>
<div class="unit"><span>m/s</span></div>
<div class="city" style="left:398.5px;top:350.9px">Wiltz</div>
<div class="city" style="left:506.3px;top:471.3px">Ettelbruck</div>
<div class="city" style="left:577px;top:693.9px">Findel</div>
<div class="city" style="left:434.6px;top:821.0px">Esch/Alzette</div>
</body></html>
